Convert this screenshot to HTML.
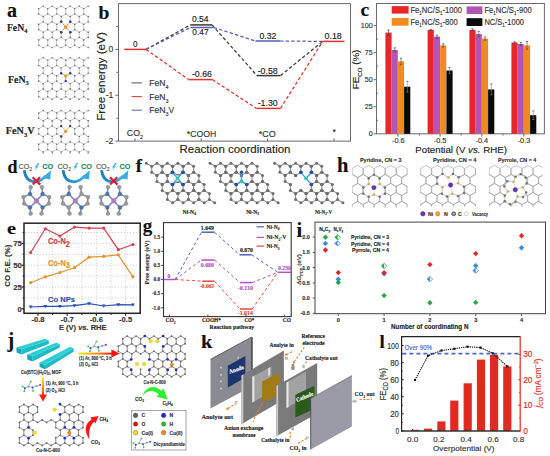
<!DOCTYPE html>
<html><head><meta charset="utf-8"><title>figure</title><style>
html,body{margin:0;padding:0;background:#fff;width:550px;height:456px;overflow:hidden;}
svg{display:block;}
text{stroke-width:0.15px;}
</style></head><body>
<svg width="550" height="456" viewBox="0 0 550 456">
<rect width="550" height="456" fill="#fff"/>
<text x="7.0" y="16.8" font-size="20" text-anchor="start" font-weight="bold" fill="#111" stroke="#111" font-family='"Liberation Serif",serif' >a</text><text x="6.9" y="31.0" font-size="9.5" text-anchor="start" font-weight="bold" fill="#222" stroke="#222" font-family='"Liberation Serif",serif'  textLength="20.4" lengthAdjust="spacingAndGlyphs"><tspan>FeN</tspan><tspan dy="2.38" font-size="6.17">4</tspan></text><text x="8.0" y="83.0" font-size="9.5" text-anchor="start" font-weight="bold" fill="#222" stroke="#222" font-family='"Liberation Serif",serif'  textLength="20.8" lengthAdjust="spacingAndGlyphs"><tspan>FeN</tspan><tspan dy="2.38" font-size="6.17">3</tspan></text><text x="5.8" y="134.2" font-size="9.5" text-anchor="start" font-weight="bold" fill="#222" stroke="#222" font-family='"Liberation Serif",serif'  textLength="28.8" lengthAdjust="spacingAndGlyphs"><tspan>FeN</tspan><tspan dy="2.38" font-size="6.17">3</tspan><tspan dy="-2.38">V</tspan></text><defs><clipPath id="ca1"><rect x="37.5" y="5" width="52" height="43.5"/></clipPath><clipPath id="ca2"><rect x="37.5" y="56.5" width="52" height="43.5"/></clipPath><clipPath id="ca3"><rect x="37.5" y="108.5" width="52" height="46"/></clipPath></defs><g clip-path="url(#ca1)"><path d="M43.2 37.4L47.7 40.0M38.7 40.0L43.2 37.4M83.7 40.0L88.2 37.4M74.7 14.0L79.2 16.6M74.7 40.0L74.7 45.2M65.7 8.8L70.2 6.2M92.7 8.8L97.2 6.2M74.7 29.6L79.2 32.2M70.2 47.8L74.7 45.2M70.2 16.6L74.7 14.0M88.2 32.2L88.2 37.4M70.2 16.6L70.2 21.8M88.2 16.6L88.2 21.8M56.7 45.2L61.2 47.8M47.7 40.0L52.2 37.4M83.7 14.0L88.2 16.6M34.2 32.2L38.7 29.6M97.2 6.2L101.7 8.8M74.7 24.4L79.2 21.8M79.2 21.8L83.7 24.4M65.7 40.0L65.7 45.2M52.2 21.8L56.7 24.4M88.2 37.4L92.7 40.0M70.2 6.2L74.7 8.8M38.7 8.8L43.2 6.2M34.2 16.6L38.7 14.0M88.2 6.2L92.7 8.8M97.2 16.6L101.7 14.0M92.7 24.4L92.7 29.6M97.2 32.2L101.7 29.6M43.2 6.2L47.7 8.8M43.2 21.8L47.7 24.4M83.7 40.0L83.7 45.2M56.7 14.0L61.2 16.6M61.2 32.2L65.7 29.6M92.7 45.2L97.2 47.8M47.7 45.2L52.2 47.8M47.7 8.8L47.7 14.0M47.7 24.4L47.7 29.6M83.7 24.4L88.2 21.8M88.2 21.8L92.7 24.4M70.2 32.2L74.7 29.6M83.7 8.8L88.2 6.2M74.7 45.2L79.2 47.8M97.2 47.8L101.7 45.2M79.2 6.2L83.7 8.8M65.7 24.4L65.7 29.6M47.7 14.0L52.2 16.6M74.7 8.8L74.7 14.0M56.7 29.6L61.2 32.2M56.7 40.0L61.2 37.4M56.7 24.4L61.2 21.8M83.7 29.6L88.2 32.2M34.2 16.6L34.2 21.8M52.2 32.2L56.7 29.6M97.2 16.6L97.2 21.8M56.7 8.8L61.2 6.2M79.2 32.2L83.7 29.6M65.7 45.2L70.2 47.8M61.2 47.8L65.7 45.2M79.2 47.8L83.7 45.2M79.2 16.6L83.7 14.0M61.2 32.2L61.2 37.4M38.7 24.4L38.7 29.6M52.2 16.6L56.7 14.0M56.7 24.4L56.7 29.6M61.2 16.6L65.7 14.0M74.7 40.0L79.2 37.4M92.7 8.8L92.7 14.0M79.2 37.4L83.7 40.0M52.2 37.4L56.7 40.0M43.2 47.8L47.7 45.2M52.2 6.2L56.7 8.8M47.7 8.8L52.2 6.2M56.7 8.8L56.7 14.0M101.7 24.4L101.7 29.6M56.7 40.0L56.7 45.2M97.2 32.2L97.2 37.4M61.2 6.2L65.7 8.8M34.2 37.4L38.7 40.0M92.7 24.4L97.2 21.8M97.2 21.8L101.7 24.4M92.7 14.0L97.2 16.6M92.7 40.0L97.2 37.4M52.2 32.2L52.2 37.4M47.7 24.4L52.2 21.8M83.7 45.2L88.2 47.8M38.7 8.8L38.7 14.0M52.2 47.8L56.7 45.2M79.2 32.2L79.2 37.4M43.2 32.2L47.7 29.6M38.7 14.0L43.2 16.6M83.7 8.8L83.7 14.0M74.7 24.4L74.7 29.6M47.7 29.6L52.2 32.2M52.2 16.6L52.2 21.8M70.2 21.8L74.7 24.4M92.7 40.0L92.7 45.2M61.2 16.6L61.2 21.8M101.7 8.8L101.7 14.0M65.7 24.4L70.2 21.8M65.7 14.0L70.2 16.6M92.7 29.6L97.2 32.2M43.2 16.6L43.2 21.8M38.7 40.0L38.7 45.2M88.2 32.2L92.7 29.6M34.2 32.2L34.2 37.4M61.2 37.4L65.7 40.0M88.2 47.8L92.7 45.2M70.2 32.2L70.2 37.4M38.7 29.6L43.2 32.2M88.2 16.6L92.7 14.0M83.7 24.4L83.7 29.6M38.7 45.2L43.2 47.8M101.7 40.0L101.7 45.2M34.2 21.8L38.7 24.4M65.7 29.6L70.2 32.2M47.7 40.0L47.7 45.2M38.7 24.4L43.2 21.8M97.2 37.4L101.7 40.0M65.7 40.0L70.2 37.4M61.2 21.8L65.7 24.4M70.2 37.4L74.7 40.0M65.7 8.8L65.7 14.0M43.2 32.2L43.2 37.4M74.7 8.8L79.2 6.2M79.2 16.6L79.2 21.8M43.2 16.6L47.7 14.0" stroke="#adadad" stroke-width="0.65" fill="none"/><circle cx="61.2" cy="32.2" r="0.8" fill="#6e6e6e"/><circle cx="97.2" cy="16.6" r="0.8" fill="#6e6e6e"/><circle cx="56.7" cy="8.8" r="0.8" fill="#6e6e6e"/><circle cx="47.7" cy="29.6" r="0.8" fill="#6e6e6e"/><circle cx="79.2" cy="6.2" r="0.8" fill="#6e6e6e"/><circle cx="52.2" cy="32.2" r="0.8" fill="#6e6e6e"/><circle cx="70.2" cy="16.6" r="0.8" fill="#6e6e6e"/><circle cx="88.2" cy="37.4" r="0.8" fill="#6e6e6e"/><circle cx="97.2" cy="21.8" r="0.8" fill="#6e6e6e"/><circle cx="101.7" cy="24.4" r="0.8" fill="#6e6e6e"/><circle cx="83.7" cy="45.2" r="0.8" fill="#6e6e6e"/><circle cx="61.2" cy="37.4" r="0.8" fill="#6e6e6e"/><circle cx="43.2" cy="6.2" r="0.8" fill="#6e6e6e"/><circle cx="101.7" cy="8.8" r="0.8" fill="#6e6e6e"/><circle cx="70.2" cy="21.8" r="0.8" fill="#6e6e6e"/><circle cx="47.7" cy="40.0" r="0.8" fill="#6e6e6e"/><circle cx="74.7" cy="8.8" r="0.8" fill="#6e6e6e"/><circle cx="83.7" cy="14.0" r="0.8" fill="#6e6e6e"/><circle cx="92.7" cy="29.6" r="0.8" fill="#6e6e6e"/><circle cx="97.2" cy="32.2" r="0.8" fill="#6e6e6e"/><circle cx="52.2" cy="37.4" r="0.8" fill="#6e6e6e"/><circle cx="56.7" cy="24.4" r="0.8" fill="#6e6e6e"/><circle cx="65.7" cy="29.6" r="0.8" fill="#6e6e6e"/><circle cx="70.2" cy="32.2" r="0.8" fill="#6e6e6e"/><circle cx="79.2" cy="47.8" r="0.8" fill="#6e6e6e"/><circle cx="56.7" cy="29.6" r="0.8" fill="#6e6e6e"/><circle cx="88.2" cy="6.2" r="0.8" fill="#6e6e6e"/><circle cx="92.7" cy="40.0" r="0.8" fill="#6e6e6e"/><circle cx="38.7" cy="14.0" r="0.8" fill="#6e6e6e"/><circle cx="97.2" cy="37.4" r="0.8" fill="#6e6e6e"/><circle cx="61.2" cy="6.2" r="0.8" fill="#6e6e6e"/><circle cx="92.7" cy="45.2" r="0.8" fill="#6e6e6e"/><circle cx="65.7" cy="40.0" r="0.8" fill="#6e6e6e"/><circle cx="70.2" cy="37.4" r="0.8" fill="#6e6e6e"/><circle cx="74.7" cy="24.4" r="0.8" fill="#6e6e6e"/><circle cx="43.2" cy="47.8" r="0.8" fill="#6e6e6e"/><circle cx="52.2" cy="6.2" r="0.8" fill="#6e6e6e"/><circle cx="34.2" cy="16.6" r="0.8" fill="#6e6e6e"/><circle cx="56.7" cy="40.0" r="0.8" fill="#6e6e6e"/><circle cx="83.7" cy="8.8" r="0.8" fill="#6e6e6e"/><circle cx="65.7" cy="45.2" r="0.8" fill="#6e6e6e"/><circle cx="101.7" cy="29.6" r="0.8" fill="#6e6e6e"/><circle cx="47.7" cy="45.2" r="0.8" fill="#6e6e6e"/><circle cx="34.2" cy="21.8" r="0.8" fill="#6e6e6e"/><circle cx="88.2" cy="47.8" r="0.8" fill="#6e6e6e"/><circle cx="97.2" cy="6.2" r="0.8" fill="#6e6e6e"/><circle cx="79.2" cy="16.6" r="0.8" fill="#6e6e6e"/><circle cx="101.7" cy="40.0" r="0.8" fill="#6e6e6e"/><circle cx="38.7" cy="8.8" r="0.8" fill="#6e6e6e"/><circle cx="47.7" cy="14.0" r="0.8" fill="#6e6e6e"/><circle cx="74.7" cy="40.0" r="0.8" fill="#6e6e6e"/><circle cx="34.2" cy="32.2" r="0.8" fill="#6e6e6e"/><circle cx="61.2" cy="47.8" r="0.8" fill="#6e6e6e"/><circle cx="70.2" cy="6.2" r="0.8" fill="#6e6e6e"/><circle cx="101.7" cy="45.2" r="0.8" fill="#6e6e6e"/><circle cx="79.2" cy="21.8" r="0.8" fill="#6e6e6e"/><circle cx="83.7" cy="24.4" r="0.8" fill="#6e6e6e"/><circle cx="52.2" cy="47.8" r="0.8" fill="#6e6e6e"/><circle cx="43.2" cy="16.6" r="0.8" fill="#6e6e6e"/><circle cx="92.7" cy="14.0" r="0.8" fill="#6e6e6e"/><circle cx="74.7" cy="29.6" r="0.8" fill="#6e6e6e"/><circle cx="79.2" cy="32.2" r="0.8" fill="#6e6e6e"/><circle cx="34.2" cy="37.4" r="0.8" fill="#6e6e6e"/><circle cx="56.7" cy="45.2" r="0.8" fill="#6e6e6e"/><circle cx="43.2" cy="21.8" r="0.8" fill="#6e6e6e"/><circle cx="65.7" cy="14.0" r="0.8" fill="#6e6e6e"/><circle cx="38.7" cy="24.4" r="0.8" fill="#6e6e6e"/><circle cx="97.2" cy="47.8" r="0.8" fill="#6e6e6e"/><circle cx="88.2" cy="16.6" r="0.8" fill="#6e6e6e"/><circle cx="47.7" cy="8.8" r="0.8" fill="#6e6e6e"/><circle cx="56.7" cy="14.0" r="0.8" fill="#6e6e6e"/><circle cx="83.7" cy="40.0" r="0.8" fill="#6e6e6e"/><circle cx="38.7" cy="29.6" r="0.8" fill="#6e6e6e"/><circle cx="43.2" cy="32.2" r="0.8" fill="#6e6e6e"/><circle cx="70.2" cy="47.8" r="0.8" fill="#6e6e6e"/><circle cx="61.2" cy="16.6" r="0.8" fill="#6e6e6e"/><circle cx="79.2" cy="37.4" r="0.8" fill="#6e6e6e"/><circle cx="88.2" cy="21.8" r="0.8" fill="#6e6e6e"/><circle cx="92.7" cy="24.4" r="0.8" fill="#6e6e6e"/><circle cx="74.7" cy="45.2" r="0.8" fill="#6e6e6e"/><circle cx="52.2" cy="16.6" r="0.8" fill="#6e6e6e"/><circle cx="92.7" cy="8.8" r="0.8" fill="#6e6e6e"/><circle cx="101.7" cy="14.0" r="0.8" fill="#6e6e6e"/><circle cx="61.2" cy="21.8" r="0.8" fill="#6e6e6e"/><circle cx="65.7" cy="24.4" r="0.8" fill="#6e6e6e"/><circle cx="38.7" cy="40.0" r="0.8" fill="#6e6e6e"/><circle cx="74.7" cy="14.0" r="0.8" fill="#6e6e6e"/><circle cx="83.7" cy="29.6" r="0.8" fill="#6e6e6e"/><circle cx="88.2" cy="32.2" r="0.8" fill="#6e6e6e"/><circle cx="43.2" cy="37.4" r="0.8" fill="#6e6e6e"/><circle cx="52.2" cy="21.8" r="0.8" fill="#6e6e6e"/><circle cx="65.7" cy="8.8" r="0.8" fill="#6e6e6e"/><circle cx="38.7" cy="45.2" r="0.8" fill="#6e6e6e"/><circle cx="47.7" cy="24.4" r="0.8" fill="#6e6e6e"/></g><g clip-path="url(#ca2)"><path d="M56.7 91.5L61.2 88.9M79.2 57.7L83.7 60.3M92.7 60.3L97.2 57.7M43.2 68.1L43.2 73.3M47.7 91.5L47.7 96.7M83.7 91.5L88.2 88.9M88.2 88.9L92.7 91.5M79.2 68.1L79.2 73.3M79.2 99.3L83.7 96.7M47.7 65.5L52.2 68.1M83.7 60.3L83.7 65.5M34.2 88.9L38.7 91.5M83.7 96.7L88.2 99.3M74.7 75.9L79.2 73.3M43.2 73.3L47.7 75.9M52.2 88.9L56.7 91.5M88.2 83.7L92.7 81.1M92.7 75.9L92.7 81.1M70.2 68.1L70.2 73.3M97.2 88.9L101.7 91.5M88.2 68.1L88.2 73.3M92.7 65.5L97.2 68.1M61.2 83.7L65.7 81.1M43.2 83.7L47.7 81.1M34.2 68.1L38.7 65.5M43.2 57.7L47.7 60.3M47.7 75.9L52.2 73.3M79.2 73.3L83.7 75.9M79.2 88.9L83.7 91.5M61.2 73.3L65.7 75.9M97.2 68.1L101.7 65.5M97.2 83.7L101.7 81.1M88.2 83.7L88.2 88.9M61.2 99.3L65.7 96.7M83.7 75.9L83.7 81.1M47.7 96.7L52.2 99.3M38.7 60.3L43.2 57.7M74.7 60.3L74.7 65.5M56.7 65.5L61.2 68.1M92.7 60.3L92.7 65.5M38.7 81.1L43.2 83.7M47.7 75.9L47.7 81.1M52.2 83.7L56.7 81.1M61.2 83.7L61.2 88.9M47.7 60.3L52.2 57.7M34.2 73.3L38.7 75.9M43.2 68.1L47.7 65.5M47.7 91.5L52.2 88.9M83.7 91.5L83.7 96.7M38.7 60.3L38.7 65.5M65.7 75.9L70.2 73.3M74.7 60.3L79.2 57.7M97.2 73.3L101.7 75.9M97.2 83.7L97.2 88.9M88.2 99.3L92.7 96.7M83.7 81.1L88.2 83.7M92.7 81.1L97.2 83.7M56.7 60.3L56.7 65.5M34.2 68.1L34.2 73.3M92.7 96.7L97.2 99.3M83.7 75.9L88.2 73.3M52.2 83.7L52.2 88.9M92.7 91.5L97.2 88.9M52.2 73.3L56.7 75.9M34.2 83.7L38.7 81.1M43.2 88.9L47.7 91.5M52.2 99.3L56.7 96.7M52.2 68.1L56.7 65.5M65.7 91.5L70.2 88.9M38.7 65.5L43.2 68.1M65.7 60.3L70.2 57.7M97.2 68.1L97.2 73.3M88.2 57.7L92.7 60.3M70.2 88.9L74.7 91.5M47.7 81.1L52.2 83.7M79.2 83.7L79.2 88.9M97.2 99.3L101.7 96.7M61.2 68.1L65.7 65.5M74.7 96.7L79.2 99.3M65.7 91.5L65.7 96.7M88.2 73.3L92.7 75.9M74.7 65.5L79.2 68.1M56.7 96.7L61.2 99.3M65.7 60.3L65.7 65.5M65.7 65.5L70.2 68.1M101.7 75.9L101.7 81.1M34.2 83.7L34.2 88.9M43.2 99.3L47.7 96.7M101.7 60.3L101.7 65.5M74.7 81.1L79.2 83.7M56.7 75.9L56.7 81.1M65.7 75.9L65.7 81.1M61.2 88.9L65.7 91.5M47.7 60.3L47.7 65.5M83.7 60.3L88.2 57.7M61.2 57.7L65.7 60.3M52.2 68.1L52.2 73.3M70.2 83.7L70.2 88.9M38.7 96.7L43.2 99.3M79.2 68.1L83.7 65.5M56.7 91.5L56.7 96.7M38.7 91.5L43.2 88.9M74.7 91.5L74.7 96.7M61.2 68.1L61.2 73.3M70.2 57.7L74.7 60.3M38.7 75.9L38.7 81.1M92.7 75.9L97.2 73.3M92.7 91.5L92.7 96.7M70.2 73.3L74.7 75.9M83.7 65.5L88.2 68.1M70.2 83.7L74.7 81.1M52.2 57.7L56.7 60.3M65.7 81.1L70.2 83.7M65.7 96.7L70.2 99.3M38.7 91.5L38.7 96.7M97.2 57.7L101.7 60.3M74.7 91.5L79.2 88.9M56.7 60.3L61.2 57.7M38.7 75.9L43.2 73.3M56.7 75.9L61.2 73.3M79.2 83.7L83.7 81.1M56.7 81.1L61.2 83.7M43.2 83.7L43.2 88.9M88.2 68.1L92.7 65.5M70.2 99.3L74.7 96.7M70.2 68.1L74.7 65.5M74.7 75.9L74.7 81.1M101.7 91.5L101.7 96.7" stroke="#adadad" stroke-width="0.65" fill="none"/><circle cx="83.7" cy="65.5" r="0.8" fill="#6e6e6e"/><circle cx="43.2" cy="73.3" r="0.8" fill="#6e6e6e"/><circle cx="47.7" cy="96.7" r="0.8" fill="#6e6e6e"/><circle cx="97.2" cy="88.9" r="0.8" fill="#6e6e6e"/><circle cx="70.2" cy="99.3" r="0.8" fill="#6e6e6e"/><circle cx="97.2" cy="68.1" r="0.8" fill="#6e6e6e"/><circle cx="101.7" cy="91.5" r="0.8" fill="#6e6e6e"/><circle cx="47.7" cy="65.5" r="0.8" fill="#6e6e6e"/><circle cx="101.7" cy="75.9" r="0.8" fill="#6e6e6e"/><circle cx="70.2" cy="88.9" r="0.8" fill="#6e6e6e"/><circle cx="38.7" cy="81.1" r="0.8" fill="#6e6e6e"/><circle cx="97.2" cy="57.7" r="0.8" fill="#6e6e6e"/><circle cx="70.2" cy="68.1" r="0.8" fill="#6e6e6e"/><circle cx="74.7" cy="75.9" r="0.8" fill="#6e6e6e"/><circle cx="34.2" cy="83.7" r="0.8" fill="#6e6e6e"/><circle cx="88.2" cy="73.3" r="0.8" fill="#6e6e6e"/><circle cx="101.7" cy="60.3" r="0.8" fill="#6e6e6e"/><circle cx="92.7" cy="96.7" r="0.8" fill="#6e6e6e"/><circle cx="70.2" cy="57.7" r="0.8" fill="#6e6e6e"/><circle cx="61.2" cy="73.3" r="0.8" fill="#6e6e6e"/><circle cx="65.7" cy="96.7" r="0.8" fill="#6e6e6e"/><circle cx="92.7" cy="65.5" r="0.8" fill="#6e6e6e"/><circle cx="52.2" cy="73.3" r="0.8" fill="#6e6e6e"/><circle cx="52.2" cy="57.7" r="0.8" fill="#6e6e6e"/><circle cx="79.2" cy="83.7" r="0.8" fill="#6e6e6e"/><circle cx="56.7" cy="96.7" r="0.8" fill="#6e6e6e"/><circle cx="56.7" cy="60.3" r="0.8" fill="#6e6e6e"/><circle cx="65.7" cy="65.5" r="0.8" fill="#6e6e6e"/><circle cx="56.7" cy="65.5" r="0.8" fill="#6e6e6e"/><circle cx="47.7" cy="81.1" r="0.8" fill="#6e6e6e"/><circle cx="83.7" cy="75.9" r="0.8" fill="#6e6e6e"/><circle cx="97.2" cy="73.3" r="0.8" fill="#6e6e6e"/><circle cx="74.7" cy="91.5" r="0.8" fill="#6e6e6e"/><circle cx="101.7" cy="96.7" r="0.8" fill="#6e6e6e"/><circle cx="70.2" cy="73.3" r="0.8" fill="#6e6e6e"/><circle cx="34.2" cy="88.9" r="0.8" fill="#6e6e6e"/><circle cx="74.7" cy="60.3" r="0.8" fill="#6e6e6e"/><circle cx="34.2" cy="68.1" r="0.8" fill="#6e6e6e"/><circle cx="101.7" cy="65.5" r="0.8" fill="#6e6e6e"/><circle cx="38.7" cy="91.5" r="0.8" fill="#6e6e6e"/><circle cx="92.7" cy="81.1" r="0.8" fill="#6e6e6e"/><circle cx="38.7" cy="75.9" r="0.8" fill="#6e6e6e"/><circle cx="88.2" cy="83.7" r="0.8" fill="#6e6e6e"/><circle cx="79.2" cy="99.3" r="0.8" fill="#6e6e6e"/><circle cx="38.7" cy="60.3" r="0.8" fill="#6e6e6e"/><circle cx="65.7" cy="81.1" r="0.8" fill="#6e6e6e"/><circle cx="61.2" cy="83.7" r="0.8" fill="#6e6e6e"/><circle cx="79.2" cy="88.9" r="0.8" fill="#6e6e6e"/><circle cx="79.2" cy="68.1" r="0.8" fill="#6e6e6e"/><circle cx="56.7" cy="81.1" r="0.8" fill="#6e6e6e"/><circle cx="92.7" cy="75.9" r="0.8" fill="#6e6e6e"/><circle cx="83.7" cy="91.5" r="0.8" fill="#6e6e6e"/><circle cx="43.2" cy="99.3" r="0.8" fill="#6e6e6e"/><circle cx="43.2" cy="83.7" r="0.8" fill="#6e6e6e"/><circle cx="79.2" cy="57.7" r="0.8" fill="#6e6e6e"/><circle cx="43.2" cy="88.9" r="0.8" fill="#6e6e6e"/><circle cx="83.7" cy="60.3" r="0.8" fill="#6e6e6e"/><circle cx="43.2" cy="68.1" r="0.8" fill="#6e6e6e"/><circle cx="74.7" cy="96.7" r="0.8" fill="#6e6e6e"/><circle cx="47.7" cy="91.5" r="0.8" fill="#6e6e6e"/><circle cx="101.7" cy="81.1" r="0.8" fill="#6e6e6e"/><circle cx="47.7" cy="75.9" r="0.8" fill="#6e6e6e"/><circle cx="97.2" cy="83.7" r="0.8" fill="#6e6e6e"/><circle cx="43.2" cy="57.7" r="0.8" fill="#6e6e6e"/><circle cx="74.7" cy="81.1" r="0.8" fill="#6e6e6e"/><circle cx="88.2" cy="99.3" r="0.8" fill="#6e6e6e"/><circle cx="74.7" cy="65.5" r="0.8" fill="#6e6e6e"/><circle cx="34.2" cy="73.3" r="0.8" fill="#6e6e6e"/><circle cx="47.7" cy="60.3" r="0.8" fill="#6e6e6e"/><circle cx="38.7" cy="96.7" r="0.8" fill="#6e6e6e"/><circle cx="70.2" cy="83.7" r="0.8" fill="#6e6e6e"/><circle cx="88.2" cy="88.9" r="0.8" fill="#6e6e6e"/><circle cx="61.2" cy="99.3" r="0.8" fill="#6e6e6e"/><circle cx="88.2" cy="68.1" r="0.8" fill="#6e6e6e"/><circle cx="92.7" cy="91.5" r="0.8" fill="#6e6e6e"/><circle cx="52.2" cy="99.3" r="0.8" fill="#6e6e6e"/><circle cx="38.7" cy="65.5" r="0.8" fill="#6e6e6e"/><circle cx="52.2" cy="83.7" r="0.8" fill="#6e6e6e"/><circle cx="61.2" cy="88.9" r="0.8" fill="#6e6e6e"/><circle cx="88.2" cy="57.7" r="0.8" fill="#6e6e6e"/><circle cx="61.2" cy="68.1" r="0.8" fill="#6e6e6e"/><circle cx="79.2" cy="73.3" r="0.8" fill="#6e6e6e"/><circle cx="65.7" cy="91.5" r="0.8" fill="#6e6e6e"/><circle cx="52.2" cy="88.9" r="0.8" fill="#6e6e6e"/><circle cx="92.7" cy="60.3" r="0.8" fill="#6e6e6e"/><circle cx="52.2" cy="68.1" r="0.8" fill="#6e6e6e"/><circle cx="65.7" cy="75.9" r="0.8" fill="#6e6e6e"/><circle cx="83.7" cy="96.7" r="0.8" fill="#6e6e6e"/><circle cx="61.2" cy="57.7" r="0.8" fill="#6e6e6e"/><circle cx="56.7" cy="91.5" r="0.8" fill="#6e6e6e"/><circle cx="56.7" cy="75.9" r="0.8" fill="#6e6e6e"/><circle cx="65.7" cy="60.3" r="0.8" fill="#6e6e6e"/><circle cx="83.7" cy="81.1" r="0.8" fill="#6e6e6e"/><circle cx="97.2" cy="99.3" r="0.8" fill="#6e6e6e"/></g><g clip-path="url(#ca3)"><path d="M47.7 159.9L52.2 157.3M34.2 152.1L38.7 149.5M34.2 157.3L38.7 159.9M43.2 136.5L47.7 133.9M61.2 136.5L61.2 141.7M56.7 113.1L61.2 110.5M83.7 128.7L83.7 133.9M47.7 133.9L52.2 136.5M34.2 152.1L34.2 157.3M79.2 152.1L83.7 149.5M97.2 152.1L101.7 149.5M52.2 110.5L56.7 113.1M52.2 126.1L56.7 128.7M47.7 144.3L52.2 141.7M79.2 110.5L83.7 113.1M74.7 144.3L79.2 141.7M97.2 152.1L97.2 157.3M92.7 144.3L92.7 149.5M43.2 157.3L47.7 159.9M43.2 126.1L47.7 128.7M61.2 126.1L65.7 128.7M61.2 141.7L65.7 144.3M61.2 136.5L65.7 133.9M38.7 118.3L43.2 120.9M56.7 118.3L61.2 120.9M47.7 113.1L52.2 110.5M34.2 120.9L38.7 118.3M101.7 128.7L101.7 133.9M101.7 113.1L101.7 118.3M97.2 120.9L101.7 118.3M70.2 152.1L74.7 149.5M38.7 144.3L38.7 149.5M92.7 133.9L97.2 136.5M79.2 152.1L79.2 157.3M52.2 136.5L52.2 141.7M65.7 149.5L70.2 152.1M47.7 128.7L47.7 133.9M79.2 136.5L79.2 141.7M97.2 141.7L101.7 144.3M47.7 113.1L47.7 118.3M83.7 113.1L88.2 110.5M88.2 110.5L92.7 113.1M74.7 133.9L79.2 136.5M38.7 149.5L43.2 152.1M47.7 118.3L52.2 120.9M56.7 149.5L61.2 152.1M83.7 118.3L88.2 120.9M43.2 141.7L47.7 144.3M70.2 110.5L74.7 113.1M74.7 144.3L74.7 149.5M65.7 144.3L70.2 141.7M88.2 120.9L88.2 126.1M70.2 157.3L74.7 159.9M43.2 152.1L47.7 149.5M79.2 126.1L83.7 128.7M52.2 136.5L56.7 133.9M70.2 136.5L70.2 141.7M79.2 141.7L83.7 144.3M79.2 136.5L83.7 133.9M97.2 110.5L101.7 113.1M92.7 128.7L92.7 133.9M92.7 144.3L97.2 141.7M65.7 113.1L65.7 118.3M43.2 152.1L43.2 157.3M34.2 120.9L34.2 126.1M92.7 159.9L97.2 157.3M52.2 120.9L52.2 126.1M65.7 133.9L70.2 136.5M61.2 120.9L61.2 126.1M56.7 128.7L61.2 126.1M74.7 113.1L79.2 110.5M83.7 144.3L83.7 149.5M52.2 152.1L56.7 149.5M92.7 113.1L97.2 110.5M101.7 144.3L101.7 149.5M52.2 157.3L56.7 159.9M83.7 128.7L88.2 126.1M61.2 157.3L65.7 159.9M74.7 159.9L79.2 157.3M79.2 157.3L83.7 159.9M88.2 141.7L92.7 144.3M74.7 128.7L74.7 133.9M70.2 141.7L74.7 144.3M52.2 152.1L52.2 157.3M79.2 120.9L83.7 118.3M47.7 144.3L47.7 149.5M61.2 152.1L61.2 157.3M88.2 152.1L88.2 157.3M70.2 120.9L70.2 126.1M74.7 118.3L79.2 120.9M38.7 159.9L43.2 157.3M88.2 136.5L88.2 141.7M83.7 113.1L83.7 118.3M56.7 113.1L56.7 118.3M70.2 120.9L74.7 118.3M43.2 120.9L47.7 118.3M34.2 136.5L38.7 133.9M65.7 159.9L70.2 157.3M83.7 159.9L88.2 157.3M47.7 149.5L52.2 152.1M65.7 118.3L70.2 120.9M92.7 118.3L97.2 120.9M83.7 149.5L88.2 152.1M97.2 136.5L101.7 133.9M97.2 120.9L97.2 126.1M83.7 133.9L88.2 136.5M47.7 128.7L52.2 126.1M88.2 126.1L92.7 128.7M74.7 128.7L79.2 126.1M43.2 110.5L47.7 113.1M38.7 144.3L43.2 141.7M56.7 128.7L56.7 133.9M34.2 136.5L34.2 141.7M88.2 136.5L92.7 133.9M65.7 113.1L70.2 110.5M52.2 120.9L56.7 118.3M65.7 128.7L65.7 133.9M61.2 120.9L65.7 118.3M61.2 152.1L65.7 149.5M70.2 126.1L74.7 128.7M56.7 144.3L56.7 149.5M34.2 126.1L38.7 128.7M79.2 120.9L79.2 126.1M70.2 152.1L70.2 157.3M65.7 144.3L65.7 149.5M97.2 136.5L97.2 141.7M38.7 113.1L43.2 110.5M74.7 113.1L74.7 118.3M56.7 144.3L61.2 141.7M92.7 113.1L92.7 118.3M88.2 120.9L92.7 118.3M83.7 144.3L88.2 141.7M56.7 159.9L61.2 157.3M92.7 128.7L97.2 126.1M97.2 126.1L101.7 128.7M43.2 120.9L43.2 126.1M88.2 157.3L92.7 159.9M43.2 136.5L43.2 141.7M61.2 110.5L65.7 113.1M52.2 141.7L56.7 144.3M38.7 128.7L38.7 133.9M38.7 113.1L38.7 118.3M38.7 128.7L43.2 126.1M38.7 133.9L43.2 136.5M56.7 133.9L61.2 136.5M88.2 152.1L92.7 149.5M65.7 128.7L70.2 126.1M74.7 149.5L79.2 152.1M92.7 149.5L97.2 152.1M70.2 136.5L74.7 133.9M34.2 141.7L38.7 144.3" stroke="#adadad" stroke-width="0.65" fill="none"/><circle cx="61.2" cy="136.5" r="0.8" fill="#6e6e6e"/><circle cx="65.7" cy="128.7" r="0.8" fill="#6e6e6e"/><circle cx="61.2" cy="120.9" r="0.8" fill="#6e6e6e"/><circle cx="43.2" cy="141.7" r="0.8" fill="#6e6e6e"/><circle cx="38.7" cy="144.3" r="0.8" fill="#6e6e6e"/><circle cx="65.7" cy="159.9" r="0.8" fill="#6e6e6e"/><circle cx="52.2" cy="136.5" r="0.8" fill="#6e6e6e"/><circle cx="56.7" cy="128.7" r="0.8" fill="#6e6e6e"/><circle cx="52.2" cy="120.9" r="0.8" fill="#6e6e6e"/><circle cx="43.2" cy="152.1" r="0.8" fill="#6e6e6e"/><circle cx="79.2" cy="110.5" r="0.8" fill="#6e6e6e"/><circle cx="56.7" cy="159.9" r="0.8" fill="#6e6e6e"/><circle cx="83.7" cy="149.5" r="0.8" fill="#6e6e6e"/><circle cx="83.7" cy="133.9" r="0.8" fill="#6e6e6e"/><circle cx="83.7" cy="113.1" r="0.8" fill="#6e6e6e"/><circle cx="88.2" cy="141.7" r="0.8" fill="#6e6e6e"/><circle cx="83.7" cy="144.3" r="0.8" fill="#6e6e6e"/><circle cx="97.2" cy="136.5" r="0.8" fill="#6e6e6e"/><circle cx="101.7" cy="128.7" r="0.8" fill="#6e6e6e"/><circle cx="43.2" cy="110.5" r="0.8" fill="#6e6e6e"/><circle cx="97.2" cy="120.9" r="0.8" fill="#6e6e6e"/><circle cx="88.2" cy="152.1" r="0.8" fill="#6e6e6e"/><circle cx="74.7" cy="118.3" r="0.8" fill="#6e6e6e"/><circle cx="34.2" cy="126.1" r="0.8" fill="#6e6e6e"/><circle cx="61.2" cy="141.7" r="0.8" fill="#6e6e6e"/><circle cx="47.7" cy="133.9" r="0.8" fill="#6e6e6e"/><circle cx="47.7" cy="113.1" r="0.8" fill="#6e6e6e"/><circle cx="34.2" cy="157.3" r="0.8" fill="#6e6e6e"/><circle cx="38.7" cy="149.5" r="0.8" fill="#6e6e6e"/><circle cx="70.2" cy="136.5" r="0.8" fill="#6e6e6e"/><circle cx="70.2" cy="120.9" r="0.8" fill="#6e6e6e"/><circle cx="61.2" cy="152.1" r="0.8" fill="#6e6e6e"/><circle cx="52.2" cy="141.7" r="0.8" fill="#6e6e6e"/><circle cx="47.7" cy="144.3" r="0.8" fill="#6e6e6e"/><circle cx="52.2" cy="152.1" r="0.8" fill="#6e6e6e"/><circle cx="38.7" cy="118.3" r="0.8" fill="#6e6e6e"/><circle cx="88.2" cy="110.5" r="0.8" fill="#6e6e6e"/><circle cx="79.2" cy="126.1" r="0.8" fill="#6e6e6e"/><circle cx="92.7" cy="133.9" r="0.8" fill="#6e6e6e"/><circle cx="92.7" cy="113.1" r="0.8" fill="#6e6e6e"/><circle cx="79.2" cy="157.3" r="0.8" fill="#6e6e6e"/><circle cx="61.2" cy="110.5" r="0.8" fill="#6e6e6e"/><circle cx="97.2" cy="141.7" r="0.8" fill="#6e6e6e"/><circle cx="92.7" cy="144.3" r="0.8" fill="#6e6e6e"/><circle cx="65.7" cy="133.9" r="0.8" fill="#6e6e6e"/><circle cx="65.7" cy="113.1" r="0.8" fill="#6e6e6e"/><circle cx="52.2" cy="110.5" r="0.8" fill="#6e6e6e"/><circle cx="97.2" cy="152.1" r="0.8" fill="#6e6e6e"/><circle cx="83.7" cy="118.3" r="0.8" fill="#6e6e6e"/><circle cx="43.2" cy="126.1" r="0.8" fill="#6e6e6e"/><circle cx="79.2" cy="120.9" r="0.8" fill="#6e6e6e"/><circle cx="70.2" cy="141.7" r="0.8" fill="#6e6e6e"/><circle cx="65.7" cy="144.3" r="0.8" fill="#6e6e6e"/><circle cx="74.7" cy="128.7" r="0.8" fill="#6e6e6e"/><circle cx="56.7" cy="133.9" r="0.8" fill="#6e6e6e"/><circle cx="56.7" cy="113.1" r="0.8" fill="#6e6e6e"/><circle cx="43.2" cy="157.3" r="0.8" fill="#6e6e6e"/><circle cx="47.7" cy="149.5" r="0.8" fill="#6e6e6e"/><circle cx="70.2" cy="152.1" r="0.8" fill="#6e6e6e"/><circle cx="74.7" cy="159.9" r="0.8" fill="#6e6e6e"/><circle cx="56.7" cy="144.3" r="0.8" fill="#6e6e6e"/><circle cx="47.7" cy="118.3" r="0.8" fill="#6e6e6e"/><circle cx="97.2" cy="110.5" r="0.8" fill="#6e6e6e"/><circle cx="34.2" cy="136.5" r="0.8" fill="#6e6e6e"/><circle cx="38.7" cy="128.7" r="0.8" fill="#6e6e6e"/><circle cx="88.2" cy="126.1" r="0.8" fill="#6e6e6e"/><circle cx="34.2" cy="120.9" r="0.8" fill="#6e6e6e"/><circle cx="101.7" cy="133.9" r="0.8" fill="#6e6e6e"/><circle cx="101.7" cy="113.1" r="0.8" fill="#6e6e6e"/><circle cx="38.7" cy="159.9" r="0.8" fill="#6e6e6e"/><circle cx="88.2" cy="157.3" r="0.8" fill="#6e6e6e"/><circle cx="92.7" cy="149.5" r="0.8" fill="#6e6e6e"/><circle cx="70.2" cy="110.5" r="0.8" fill="#6e6e6e"/><circle cx="61.2" cy="126.1" r="0.8" fill="#6e6e6e"/><circle cx="101.7" cy="144.3" r="0.8" fill="#6e6e6e"/><circle cx="61.2" cy="157.3" r="0.8" fill="#6e6e6e"/><circle cx="65.7" cy="149.5" r="0.8" fill="#6e6e6e"/><circle cx="92.7" cy="118.3" r="0.8" fill="#6e6e6e"/><circle cx="52.2" cy="126.1" r="0.8" fill="#6e6e6e"/><circle cx="79.2" cy="136.5" r="0.8" fill="#6e6e6e"/><circle cx="83.7" cy="128.7" r="0.8" fill="#6e6e6e"/><circle cx="52.2" cy="157.3" r="0.8" fill="#6e6e6e"/><circle cx="56.7" cy="149.5" r="0.8" fill="#6e6e6e"/><circle cx="83.7" cy="159.9" r="0.8" fill="#6e6e6e"/><circle cx="65.7" cy="118.3" r="0.8" fill="#6e6e6e"/><circle cx="34.2" cy="141.7" r="0.8" fill="#6e6e6e"/><circle cx="56.7" cy="118.3" r="0.8" fill="#6e6e6e"/><circle cx="43.2" cy="136.5" r="0.8" fill="#6e6e6e"/><circle cx="47.7" cy="128.7" r="0.8" fill="#6e6e6e"/><circle cx="97.2" cy="126.1" r="0.8" fill="#6e6e6e"/><circle cx="43.2" cy="120.9" r="0.8" fill="#6e6e6e"/><circle cx="34.2" cy="152.1" r="0.8" fill="#6e6e6e"/><circle cx="47.7" cy="159.9" r="0.8" fill="#6e6e6e"/><circle cx="97.2" cy="157.3" r="0.8" fill="#6e6e6e"/><circle cx="101.7" cy="149.5" r="0.8" fill="#6e6e6e"/><circle cx="74.7" cy="149.5" r="0.8" fill="#6e6e6e"/><circle cx="70.2" cy="126.1" r="0.8" fill="#6e6e6e"/><circle cx="74.7" cy="133.9" r="0.8" fill="#6e6e6e"/><circle cx="74.7" cy="113.1" r="0.8" fill="#6e6e6e"/><circle cx="70.2" cy="157.3" r="0.8" fill="#6e6e6e"/><circle cx="79.2" cy="141.7" r="0.8" fill="#6e6e6e"/><circle cx="74.7" cy="144.3" r="0.8" fill="#6e6e6e"/><circle cx="101.7" cy="118.3" r="0.8" fill="#6e6e6e"/><circle cx="88.2" cy="136.5" r="0.8" fill="#6e6e6e"/><circle cx="92.7" cy="128.7" r="0.8" fill="#6e6e6e"/><circle cx="88.2" cy="120.9" r="0.8" fill="#6e6e6e"/><circle cx="79.2" cy="152.1" r="0.8" fill="#6e6e6e"/><circle cx="92.7" cy="159.9" r="0.8" fill="#6e6e6e"/><circle cx="38.7" cy="133.9" r="0.8" fill="#6e6e6e"/><circle cx="38.7" cy="113.1" r="0.8" fill="#6e6e6e"/></g><line x1="65.7" y1="24.4" x2="65.7" y2="29.6" stroke="#fff" stroke-width="1.4" /><line x1="65.7" y1="27.0" x2="61.2" y2="21.8" stroke="#c8a060" stroke-width="0.7" /><line x1="65.7" y1="27.0" x2="70.2" y2="21.8" stroke="#c8a060" stroke-width="0.7" /><line x1="65.7" y1="27.0" x2="61.2" y2="32.2" stroke="#c8a060" stroke-width="0.7" /><line x1="65.7" y1="27.0" x2="70.2" y2="32.2" stroke="#c8a060" stroke-width="0.7" /><circle cx="61.2" cy="21.8" r="1.2" fill="#2a3c9a" stroke="none" stroke-width="0.5" /><circle cx="70.2" cy="21.8" r="1.2" fill="#2a3c9a" stroke="none" stroke-width="0.5" /><circle cx="61.2" cy="32.2" r="1.2" fill="#2a3c9a" stroke="none" stroke-width="0.5" /><circle cx="70.2" cy="32.2" r="1.2" fill="#2a3c9a" stroke="none" stroke-width="0.5" /><circle cx="65.7" cy="27.0" r="1.6" fill="#f0961e" stroke="none" stroke-width="0.5" /><line x1="65.7" y1="75.9" x2="61.2" y2="73.3" stroke="#c8a060" stroke-width="0.7" /><circle cx="61.2" cy="73.3" r="1.2" fill="#2a3c9a" stroke="none" stroke-width="0.5" /><line x1="65.7" y1="75.9" x2="70.2" y2="73.3" stroke="#c8a060" stroke-width="0.7" /><circle cx="70.2" cy="73.3" r="1.2" fill="#2a3c9a" stroke="none" stroke-width="0.5" /><line x1="65.7" y1="75.9" x2="65.7" y2="81.1" stroke="#c8a060" stroke-width="0.7" /><circle cx="65.7" cy="81.1" r="1.2" fill="#2a3c9a" stroke="none" stroke-width="0.5" /><circle cx="65.7" cy="75.9" r="1.6" fill="#f0961e" stroke="none" stroke-width="0.5" /><line x1="65.7" y1="128.7" x2="61.2" y2="126.1" stroke="#fff" stroke-width="1.5" /><line x1="65.7" y1="128.7" x2="70.2" y2="126.1" stroke="#fff" stroke-width="1.5" /><line x1="65.7" y1="128.7" x2="65.7" y2="133.9" stroke="#fff" stroke-width="1.5" /><line x1="65.7" y1="133.9" x2="61.2" y2="136.5" stroke="#fff" stroke-width="1.5" /><line x1="65.7" y1="133.9" x2="70.2" y2="136.5" stroke="#fff" stroke-width="1.5" /><line x1="70.2" y1="136.5" x2="74.7" y2="133.9" stroke="#fff" stroke-width="1.5" /><line x1="70.2" y1="136.5" x2="70.2" y2="141.7" stroke="#fff" stroke-width="1.5" /><circle cx="74.7" cy="133.9" r="0.8" fill="#6e6e6e" stroke="none" stroke-width="0.5" /><circle cx="70.2" cy="141.7" r="0.8" fill="#6e6e6e" stroke="none" stroke-width="0.5" /><line x1="65.7" y1="131.3" x2="61.2" y2="126.1" stroke="#c8a060" stroke-width="0.7" /><circle cx="61.2" cy="126.1" r="1.2" fill="#2a3c9a" stroke="none" stroke-width="0.5" /><line x1="65.7" y1="131.3" x2="70.2" y2="126.1" stroke="#c8a060" stroke-width="0.7" /><circle cx="70.2" cy="126.1" r="1.2" fill="#2a3c9a" stroke="none" stroke-width="0.5" /><line x1="65.7" y1="131.3" x2="61.2" y2="136.5" stroke="#c8a060" stroke-width="0.7" /><circle cx="61.2" cy="136.5" r="1.2" fill="#2a3c9a" stroke="none" stroke-width="0.5" /><circle cx="65.7" cy="131.3" r="1.6" fill="#f0961e" stroke="none" stroke-width="0.5" /><line x1="65.7" y1="24.4" x2="61.2" y2="21.8" stroke="#fff" stroke-width="1.5" /><line x1="65.7" y1="24.4" x2="70.2" y2="21.8" stroke="#fff" stroke-width="1.5" /><line x1="65.7" y1="29.6" x2="61.2" y2="32.2" stroke="#fff" stroke-width="1.5" /><line x1="65.7" y1="29.6" x2="70.2" y2="32.2" stroke="#fff" stroke-width="1.5" /><line x1="65.7" y1="27.0" x2="61.2" y2="21.8" stroke="#c8a060" stroke-width="0.7" /><line x1="65.7" y1="27.0" x2="70.2" y2="21.8" stroke="#c8a060" stroke-width="0.7" /><line x1="65.7" y1="27.0" x2="61.2" y2="32.2" stroke="#c8a060" stroke-width="0.7" /><line x1="65.7" y1="27.0" x2="70.2" y2="32.2" stroke="#c8a060" stroke-width="0.7" /><circle cx="61.2" cy="21.8" r="1.2" fill="#2a3c9a" stroke="none" stroke-width="0.5" /><circle cx="70.2" cy="21.8" r="1.2" fill="#2a3c9a" stroke="none" stroke-width="0.5" /><circle cx="61.2" cy="32.2" r="1.2" fill="#2a3c9a" stroke="none" stroke-width="0.5" /><circle cx="70.2" cy="32.2" r="1.2" fill="#2a3c9a" stroke="none" stroke-width="0.5" /><circle cx="65.7" cy="27.0" r="1.6" fill="#f0961e" stroke="none" stroke-width="0.5" /><text x="98.6" y="18.8" font-size="19.5" text-anchor="start" font-weight="bold" fill="#111" stroke="#111" font-family='"Liberation Serif",serif' >b</text><rect x="118.5" y="3.6" width="232.0" height="137.5" fill="none" stroke="#6a6a6a" stroke-width="1" /><line x1="115.3" y1="49.4" x2="118.5" y2="49.4" stroke="#6a6a6a" stroke-width="1" /><text x="113.4" y="52.4" font-size="8.6" text-anchor="end" font-weight="normal" fill="#333" stroke="#333" font-family='"Liberation Sans",sans-serif' >0</text><line x1="115.3" y1="95.2" x2="118.5" y2="95.2" stroke="#6a6a6a" stroke-width="1" /><text x="113.4" y="98.2" font-size="8.6" text-anchor="end" font-weight="normal" fill="#333" stroke="#333" font-family='"Liberation Sans",sans-serif' >-1</text><line x1="115.3" y1="141.1" x2="118.5" y2="141.1" stroke="#6a6a6a" stroke-width="1" /><text x="113.4" y="144.1" font-size="8.6" text-anchor="end" font-weight="normal" fill="#333" stroke="#333" font-family='"Liberation Sans",sans-serif' >-2</text><line x1="116.3" y1="26.5" x2="118.5" y2="26.5" stroke="#6a6a6a" stroke-width="1" /><line x1="116.3" y1="72.3" x2="118.5" y2="72.3" stroke="#6a6a6a" stroke-width="1" /><line x1="116.3" y1="118.2" x2="118.5" y2="118.2" stroke="#6a6a6a" stroke-width="1" /><line x1="135.0" y1="141.1" x2="135.0" y2="138.3" stroke="#6a6a6a" stroke-width="1" /><line x1="201.2" y1="141.1" x2="201.2" y2="138.3" stroke="#6a6a6a" stroke-width="1" /><line x1="267.6" y1="141.1" x2="267.6" y2="138.3" stroke="#6a6a6a" stroke-width="1" /><line x1="334.0" y1="141.1" x2="334.0" y2="138.3" stroke="#6a6a6a" stroke-width="1" /><text x="126.8" y="135.9" font-size="8.8" text-anchor="start" font-weight="normal" fill="#333" stroke="#333" font-family='"Liberation Sans",sans-serif' ><tspan>CO</tspan><tspan dy="3.40" font-size="5.28">2</tspan></text><text x="186.8" y="136.5" font-size="8.7" text-anchor="start" font-weight="normal" fill="#333" stroke="#333" font-family='"Liberation Sans",sans-serif'  textLength="29.4" lengthAdjust="spacingAndGlyphs">*COOH</text><text x="258.8" y="136.5" font-size="8.7" text-anchor="start" font-weight="normal" fill="#333" stroke="#333" font-family='"Liberation Sans",sans-serif'  textLength="17.0" lengthAdjust="spacingAndGlyphs">*CO</text><text x="334.1" y="134.8" font-size="8.7" text-anchor="middle" font-weight="normal" fill="#333" stroke="#333" font-family='"Liberation Sans",sans-serif' >*</text><text x="0.0" y="0.0" font-size="10.8" text-anchor="middle" font-weight="normal" fill="#222" stroke="#222" font-family='"Liberation Sans",sans-serif' transform="translate(104.9,76.5) rotate(-90)" textLength="88.6" lengthAdjust="spacingAndGlyphs">Free energy (eV)</text><text x="179.5" y="152.7" font-size="11.3" text-anchor="start" font-weight="normal" fill="#222" stroke="#222" font-family='"Liberation Sans",sans-serif'  textLength="111" lengthAdjust="spacingAndGlyphs">Reaction coordination</text><line x1="146.0" y1="49.4" x2="190.5" y2="24.9" stroke="#3a3a3a" stroke-width="1.25" stroke-dasharray="3.4,2.2"/><line x1="212.0" y1="24.9" x2="257.0" y2="75.6" stroke="#3a3a3a" stroke-width="1.25" stroke-dasharray="3.4,2.2"/><line x1="280.5" y1="75.6" x2="322.7" y2="41.4" stroke="#3a3a3a" stroke-width="1.25" stroke-dasharray="3.4,2.2"/><line x1="146.0" y1="49.4" x2="190.5" y2="27.5" stroke="#4f62b8" stroke-width="1.25" stroke-dasharray="3.4,2.2"/><line x1="213.7" y1="27.5" x2="255.5" y2="41.0" stroke="#4f62b8" stroke-width="1.25" stroke-dasharray="3.4,2.2"/><line x1="280.0" y1="41.0" x2="322.7" y2="41.4" stroke="#4f62b8" stroke-width="1.25" stroke-dasharray="3.4,2.2"/><line x1="146.0" y1="49.4" x2="188.6" y2="79.6" stroke="#e5322d" stroke-width="1.25" stroke-dasharray="3.4,2.2"/><line x1="212.3" y1="79.6" x2="256.5" y2="108.4" stroke="#e5322d" stroke-width="1.25" stroke-dasharray="3.4,2.2"/><line x1="280.5" y1="108.4" x2="322.7" y2="41.4" stroke="#e5322d" stroke-width="1.25" stroke-dasharray="3.4,2.2"/><line x1="124.2" y1="49.4" x2="146.0" y2="49.4" stroke="#e5322d" stroke-width="1.5" /><line x1="190.5" y1="24.9" x2="212.0" y2="24.9" stroke="#3a3a3a" stroke-width="1.5" /><line x1="190.5" y1="27.5" x2="213.7" y2="27.5" stroke="#4f62b8" stroke-width="1.5" /><line x1="188.6" y1="79.6" x2="212.3" y2="79.6" stroke="#e5322d" stroke-width="1.5" /><line x1="256.8" y1="75.6" x2="280.5" y2="75.6" stroke="#3a3a3a" stroke-width="1.5" /><line x1="255.5" y1="41.0" x2="280.0" y2="41.0" stroke="#4f62b8" stroke-width="1.5" /><line x1="256.5" y1="108.4" x2="280.5" y2="108.4" stroke="#e5322d" stroke-width="1.5" /><line x1="322.7" y1="41.4" x2="344.5" y2="41.4" stroke="#e5322d" stroke-width="1.5" /><text x="133.0" y="46.5" font-size="9.0" text-anchor="start" font-weight="normal" fill="#222" stroke="#222" font-family='"Liberation Sans",sans-serif'  textLength="4.5" lengthAdjust="spacingAndGlyphs">0</text><text x="191.9" y="22.0" font-size="9.0" text-anchor="start" font-weight="normal" fill="#222" stroke="#222" font-family='"Liberation Sans",sans-serif'  textLength="16.7" lengthAdjust="spacingAndGlyphs">0.54</text><text x="192.3" y="35.1" font-size="9.0" text-anchor="start" font-weight="normal" fill="#222" stroke="#222" font-family='"Liberation Sans",sans-serif'  textLength="16.3" lengthAdjust="spacingAndGlyphs">0.47</text><text x="259.5" y="39.0" font-size="9.0" text-anchor="start" font-weight="normal" fill="#222" stroke="#222" font-family='"Liberation Sans",sans-serif'  textLength="16.9" lengthAdjust="spacingAndGlyphs">0.32</text><text x="324.5" y="39.0" font-size="9.0" text-anchor="start" font-weight="normal" fill="#222" stroke="#222" font-family='"Liberation Sans",sans-serif'  textLength="17.3" lengthAdjust="spacingAndGlyphs">0.18</text><text x="191.9" y="76.9" font-size="9.0" text-anchor="start" font-weight="normal" fill="#222" stroke="#222" font-family='"Liberation Sans",sans-serif'  textLength="20" lengthAdjust="spacingAndGlyphs">-0.66</text><text x="257.7" y="73.8" font-size="9.0" text-anchor="start" font-weight="normal" fill="#222" stroke="#222" font-family='"Liberation Sans",sans-serif'  textLength="20" lengthAdjust="spacingAndGlyphs">-0.58</text><text x="257.7" y="106.2" font-size="9.0" text-anchor="start" font-weight="normal" fill="#222" stroke="#222" font-family='"Liberation Sans",sans-serif'  textLength="20" lengthAdjust="spacingAndGlyphs">-1.30</text><line x1="131.5" y1="82.9" x2="141.9" y2="82.9" stroke="#555" stroke-width="1.0" /><line x1="131.5" y1="96.6" x2="141.9" y2="96.6" stroke="#e5322d" stroke-width="1.0" /><line x1="131.5" y1="110.2" x2="141.9" y2="110.2" stroke="#4f62b8" stroke-width="1.0" /><text x="149.2" y="85.9" font-size="8.6" text-anchor="start" font-weight="normal" fill="#333" stroke="#333" font-family='"Liberation Sans",sans-serif' ><tspan>FeN</tspan><tspan dy="3.20" font-size="5.33">4</tspan></text><text x="149.2" y="99.5" font-size="8.6" text-anchor="start" font-weight="normal" fill="#333" stroke="#333" font-family='"Liberation Sans",sans-serif' ><tspan>FeN</tspan><tspan dy="3.20" font-size="5.33">3</tspan></text><text x="149.2" y="113.2" font-size="8.6" text-anchor="start" font-weight="normal" fill="#333" stroke="#333" font-family='"Liberation Sans",sans-serif' ><tspan>FeN</tspan><tspan dy="3.20" font-size="5.33">3</tspan><tspan dy="-3.20">V</tspan></text><text x="360.6" y="16.2" font-size="19.5" text-anchor="start" font-weight="bold" fill="#111" stroke="#111" font-family='"Liberation Serif",serif' >c</text><rect x="376.5" y="3.5" width="167.9" height="130.3" fill="none" stroke="#6a6a6a" stroke-width="1" /><line x1="373.6" y1="133.8" x2="376.5" y2="133.8" stroke="#6a6a6a" stroke-width="1" /><text x="372.6" y="136.3" font-size="7.1" text-anchor="end" font-weight="normal" fill="#333" stroke="#333" font-family='"Liberation Sans",sans-serif' >0</text><line x1="373.6" y1="106.8" x2="376.5" y2="106.8" stroke="#6a6a6a" stroke-width="1" /><text x="372.6" y="109.3" font-size="7.1" text-anchor="end" font-weight="normal" fill="#333" stroke="#333" font-family='"Liberation Sans",sans-serif' >25</text><line x1="373.6" y1="79.7" x2="376.5" y2="79.7" stroke="#6a6a6a" stroke-width="1" /><text x="372.6" y="82.2" font-size="7.1" text-anchor="end" font-weight="normal" fill="#333" stroke="#333" font-family='"Liberation Sans",sans-serif' >50</text><line x1="373.6" y1="52.7" x2="376.5" y2="52.7" stroke="#6a6a6a" stroke-width="1" /><text x="372.6" y="55.2" font-size="7.1" text-anchor="end" font-weight="normal" fill="#333" stroke="#333" font-family='"Liberation Sans",sans-serif' >75</text><line x1="373.6" y1="25.6" x2="376.5" y2="25.6" stroke="#6a6a6a" stroke-width="1" /><text x="372.6" y="28.1" font-size="7.1" text-anchor="end" font-weight="normal" fill="#333" stroke="#333" font-family='"Liberation Sans",sans-serif' >100</text><line x1="376.5" y1="120.3" x2="378.0" y2="120.3" stroke="#6a6a6a" stroke-width="1" /><line x1="376.5" y1="93.2" x2="378.0" y2="93.2" stroke="#6a6a6a" stroke-width="1" /><line x1="376.5" y1="66.2" x2="378.0" y2="66.2" stroke="#6a6a6a" stroke-width="1" /><line x1="376.5" y1="39.1" x2="378.0" y2="39.1" stroke="#6a6a6a" stroke-width="1" /><text x="0.0" y="0.0" font-size="9.3" text-anchor="middle" font-weight="normal" fill="#222" stroke="#222" font-family='"Liberation Sans",sans-serif' transform="translate(358.6,69.4) rotate(-90)" textLength="39.6" lengthAdjust="spacingAndGlyphs"><tspan>FE</tspan><tspan dy="3.30" font-size="5.77">CO</tspan><tspan dy="-3.30"> (%)</tspan></text><line x1="397.9" y1="133.8" x2="397.9" y2="136.6" stroke="#6a6a6a" stroke-width="1" /><rect x="385.4" y="32.6" width="6.2" height="101.2" fill="#e8262a" stroke="none" stroke-width="1" /><line x1="388.5" y1="35.3" x2="388.5" y2="29.9" stroke="#444" stroke-width="0.6" /><line x1="387.3" y1="29.9" x2="389.7" y2="29.9" stroke="#333" stroke-width="0.6" /><line x1="387.3" y1="35.3" x2="389.7" y2="35.3" stroke="#444" stroke-width="0.6" /><rect x="391.6" y="49.9" width="6.2" height="83.9" fill="#b455b4" stroke="none" stroke-width="1" /><line x1="394.8" y1="52.1" x2="394.8" y2="47.8" stroke="#444" stroke-width="0.6" /><line x1="393.6" y1="47.8" x2="396.0" y2="47.8" stroke="#333" stroke-width="0.6" /><line x1="393.6" y1="52.1" x2="396.0" y2="52.1" stroke="#444" stroke-width="0.6" /><rect x="397.9" y="61.3" width="6.2" height="72.5" fill="#f28a22" stroke="none" stroke-width="1" /><line x1="401.0" y1="64.6" x2="401.0" y2="58.1" stroke="#444" stroke-width="0.6" /><line x1="399.8" y1="58.1" x2="402.2" y2="58.1" stroke="#333" stroke-width="0.6" /><line x1="399.8" y1="64.6" x2="402.2" y2="64.6" stroke="#444" stroke-width="0.6" /><rect x="404.1" y="86.7" width="6.2" height="47.1" fill="#0a0a0a" stroke="none" stroke-width="1" /><line x1="407.3" y1="92.1" x2="407.3" y2="81.3" stroke="#888" stroke-width="0.6" /><line x1="406.1" y1="81.3" x2="408.5" y2="81.3" stroke="#333" stroke-width="0.6" /><line x1="406.1" y1="92.1" x2="408.5" y2="92.1" stroke="#888" stroke-width="0.6" /><line x1="440.1" y1="133.8" x2="440.1" y2="136.6" stroke="#6a6a6a" stroke-width="1" /><rect x="427.6" y="29.9" width="6.2" height="103.9" fill="#e8262a" stroke="none" stroke-width="1" /><line x1="430.7" y1="30.5" x2="430.7" y2="29.4" stroke="#444" stroke-width="0.6" /><line x1="429.5" y1="29.4" x2="431.9" y2="29.4" stroke="#333" stroke-width="0.6" /><line x1="429.5" y1="30.5" x2="431.9" y2="30.5" stroke="#444" stroke-width="0.6" /><rect x="433.9" y="36.6" width="6.2" height="97.2" fill="#b455b4" stroke="none" stroke-width="1" /><line x1="437.0" y1="38.3" x2="437.0" y2="35.0" stroke="#444" stroke-width="0.6" /><line x1="435.8" y1="35.0" x2="438.2" y2="35.0" stroke="#333" stroke-width="0.6" /><line x1="435.8" y1="38.3" x2="438.2" y2="38.3" stroke="#444" stroke-width="0.6" /><rect x="440.1" y="45.4" width="6.2" height="88.4" fill="#f28a22" stroke="none" stroke-width="1" /><line x1="443.2" y1="47.0" x2="443.2" y2="43.8" stroke="#444" stroke-width="0.6" /><line x1="442.0" y1="43.8" x2="444.4" y2="43.8" stroke="#333" stroke-width="0.6" /><line x1="442.0" y1="47.0" x2="444.4" y2="47.0" stroke="#444" stroke-width="0.6" /><rect x="446.4" y="70.5" width="6.2" height="63.3" fill="#0a0a0a" stroke="none" stroke-width="1" /><line x1="449.5" y1="73.7" x2="449.5" y2="67.3" stroke="#888" stroke-width="0.6" /><line x1="448.3" y1="67.3" x2="450.7" y2="67.3" stroke="#333" stroke-width="0.6" /><line x1="448.3" y1="73.7" x2="450.7" y2="73.7" stroke="#888" stroke-width="0.6" /><line x1="481.9" y1="133.8" x2="481.9" y2="136.6" stroke="#6a6a6a" stroke-width="1" /><rect x="469.4" y="29.9" width="6.2" height="103.9" fill="#e8262a" stroke="none" stroke-width="1" /><line x1="472.5" y1="31.0" x2="472.5" y2="28.8" stroke="#444" stroke-width="0.6" /><line x1="471.3" y1="28.8" x2="473.7" y2="28.8" stroke="#333" stroke-width="0.6" /><line x1="471.3" y1="31.0" x2="473.7" y2="31.0" stroke="#444" stroke-width="0.6" /><rect x="475.6" y="34.0" width="6.2" height="99.8" fill="#b455b4" stroke="none" stroke-width="1" /><line x1="478.8" y1="36.7" x2="478.8" y2="31.3" stroke="#444" stroke-width="0.6" /><line x1="477.6" y1="31.3" x2="480.0" y2="31.3" stroke="#333" stroke-width="0.6" /><line x1="477.6" y1="36.7" x2="480.0" y2="36.7" stroke="#444" stroke-width="0.6" /><rect x="481.9" y="38.6" width="6.2" height="95.2" fill="#f28a22" stroke="none" stroke-width="1" /><line x1="485.0" y1="40.2" x2="485.0" y2="37.0" stroke="#444" stroke-width="0.6" /><line x1="483.8" y1="37.0" x2="486.2" y2="37.0" stroke="#333" stroke-width="0.6" /><line x1="483.8" y1="40.2" x2="486.2" y2="40.2" stroke="#444" stroke-width="0.6" /><rect x="488.1" y="89.4" width="6.2" height="44.4" fill="#0a0a0a" stroke="none" stroke-width="1" /><line x1="491.3" y1="94.8" x2="491.3" y2="84.0" stroke="#888" stroke-width="0.6" /><line x1="490.1" y1="84.0" x2="492.5" y2="84.0" stroke="#333" stroke-width="0.6" /><line x1="490.1" y1="94.8" x2="492.5" y2="94.8" stroke="#888" stroke-width="0.6" /><line x1="523.9" y1="133.8" x2="523.9" y2="136.6" stroke="#6a6a6a" stroke-width="1" /><rect x="511.4" y="42.6" width="6.2" height="91.2" fill="#e8262a" stroke="none" stroke-width="1" /><line x1="514.5" y1="43.3" x2="514.5" y2="41.8" stroke="#444" stroke-width="0.6" /><line x1="513.3" y1="41.8" x2="515.7" y2="41.8" stroke="#333" stroke-width="0.6" /><line x1="513.3" y1="43.3" x2="515.7" y2="43.3" stroke="#444" stroke-width="0.6" /><rect x="517.6" y="44.0" width="6.2" height="89.8" fill="#b455b4" stroke="none" stroke-width="1" /><line x1="520.8" y1="45.6" x2="520.8" y2="42.4" stroke="#444" stroke-width="0.6" /><line x1="519.6" y1="42.4" x2="522.0" y2="42.4" stroke="#333" stroke-width="0.6" /><line x1="519.6" y1="45.6" x2="522.0" y2="45.6" stroke="#444" stroke-width="0.6" /><rect x="523.9" y="45.4" width="6.2" height="88.4" fill="#f28a22" stroke="none" stroke-width="1" /><line x1="527.0" y1="49.2" x2="527.0" y2="41.6" stroke="#444" stroke-width="0.6" /><line x1="525.8" y1="41.6" x2="528.2" y2="41.6" stroke="#333" stroke-width="0.6" /><line x1="525.8" y1="49.2" x2="528.2" y2="49.2" stroke="#444" stroke-width="0.6" /><rect x="530.1" y="115.2" width="6.2" height="18.6" fill="#0a0a0a" stroke="none" stroke-width="1" /><line x1="533.3" y1="119.5" x2="533.3" y2="110.9" stroke="#888" stroke-width="0.6" /><line x1="532.1" y1="110.9" x2="534.5" y2="110.9" stroke="#333" stroke-width="0.6" /><line x1="532.1" y1="119.5" x2="534.5" y2="119.5" stroke="#888" stroke-width="0.6" /><line x1="419.5" y1="133.8" x2="419.5" y2="135.5" stroke="#6a6a6a" stroke-width="1" /><line x1="461.2" y1="133.8" x2="461.2" y2="135.5" stroke="#6a6a6a" stroke-width="1" /><line x1="503.0" y1="133.8" x2="503.0" y2="135.5" stroke="#6a6a6a" stroke-width="1" /><text x="398.4" y="143.3" font-size="7.9" text-anchor="middle" font-weight="normal" fill="#333" stroke="#333" font-family='"Liberation Sans",sans-serif'  textLength="12.6" lengthAdjust="spacingAndGlyphs">-0.6</text><text x="440.1" y="143.3" font-size="7.9" text-anchor="middle" font-weight="normal" fill="#333" stroke="#333" font-family='"Liberation Sans",sans-serif'  textLength="12.6" lengthAdjust="spacingAndGlyphs">-0.5</text><text x="481.9" y="143.3" font-size="7.9" text-anchor="middle" font-weight="normal" fill="#333" stroke="#333" font-family='"Liberation Sans",sans-serif'  textLength="12.6" lengthAdjust="spacingAndGlyphs">-0.4</text><text x="524.0" y="143.3" font-size="7.9" text-anchor="middle" font-weight="normal" fill="#333" stroke="#333" font-family='"Liberation Sans",sans-serif'  textLength="12.6" lengthAdjust="spacingAndGlyphs">-0.3</text><text x="415.3" y="152.7" font-size="9.7" text-anchor="start" font-weight="normal" fill="#222" stroke="#222" font-family='"Liberation Sans",sans-serif'  textLength="91.6" lengthAdjust="spacingAndGlyphs"><tspan>Potential (V </tspan><tspan font-style="italic">vs.</tspan><tspan> RHE)</tspan></text><rect x="391.7" y="6.1" width="16.9" height="7.5" fill="#e8262a" stroke="none" stroke-width="1" /><rect x="391.7" y="18.0" width="16.9" height="7.7" fill="#f28a22" stroke="none" stroke-width="1" /><rect x="466.6" y="6.4" width="15.8" height="7.6" fill="#b455b4" stroke="none" stroke-width="1" /><rect x="466.6" y="18.2" width="15.8" height="7.8" fill="#0a0a0a" stroke="none" stroke-width="1" /><text x="410.4" y="12.9" font-size="8.3" text-anchor="start" font-weight="normal" fill="#333" stroke="#333" font-family='"Liberation Sans",sans-serif'  textLength="51.6" lengthAdjust="spacingAndGlyphs"><tspan>Fe</tspan><tspan dy="2.20" font-size="4.98">1</tspan><tspan dy="-2.20">NC/S</tspan><tspan dy="2.20" font-size="4.98">1</tspan><tspan dy="-2.20">-1000</tspan></text><text x="410.4" y="25.0" font-size="8.3" text-anchor="start" font-weight="normal" fill="#333" stroke="#333" font-family='"Liberation Sans",sans-serif'  textLength="47.2" lengthAdjust="spacingAndGlyphs"><tspan>Fe</tspan><tspan dy="2.20" font-size="4.98">1</tspan><tspan dy="-2.20">NC/S</tspan><tspan dy="2.20" font-size="4.98">1</tspan><tspan dy="-2.20">-800</tspan></text><text x="484.4" y="13.1" font-size="8.3" text-anchor="start" font-weight="normal" fill="#333" stroke="#333" font-family='"Liberation Sans",sans-serif'  textLength="47.2" lengthAdjust="spacingAndGlyphs"><tspan>Fe</tspan><tspan dy="2.20" font-size="4.98">1</tspan><tspan dy="-2.20">NC/S</tspan><tspan dy="2.20" font-size="4.98">1</tspan><tspan dy="-2.20">-900</tspan></text><text x="484.4" y="25.1" font-size="8.3" text-anchor="start" font-weight="normal" fill="#333" stroke="#333" font-family='"Liberation Sans",sans-serif'  textLength="39.6" lengthAdjust="spacingAndGlyphs"><tspan>NC/S</tspan><tspan dy="2.20" font-size="4.98">1</tspan><tspan dy="-2.20">-1000</tspan></text><text x="7.4" y="173.0" font-size="18" text-anchor="start" font-weight="bold" fill="#111" stroke="#111" font-family='"Liberation Serif",serif' >d</text><defs><linearGradient id="blarr" x1="0" y1="0" x2="1" y2="0"><stop offset="0" stop-color="#1f7fbf"/><stop offset="1" stop-color="#38aee0"/></linearGradient></defs><text x="18.6" y="168.8" font-size="7.2" text-anchor="start" font-weight="normal" fill="#555" stroke="#555" font-family='"Liberation Sans",sans-serif'  textLength="13.6" lengthAdjust="spacingAndGlyphs"><tspan>CO</tspan><tspan dy="2.20" font-size="5.04">2</tspan></text><polygon points="37.8,163.0 34.6,167.6 36.6,167.4 34.0,171.2 38.8,166.2 36.8,166.4 39.6,163.0" fill="#3ab0d8" stroke="none" stroke-width="1" /><text x="42.2" y="169.0" font-size="8.0" text-anchor="start" font-weight="bold" fill="#139060" stroke="#139060" font-family='"Liberation Sans",sans-serif'  textLength="11.0" lengthAdjust="spacingAndGlyphs">CO</text><path d="M24.3,170.2 Q25.5,181.5 35,181.8 Q41.5,181.5 45.5,176" stroke="url(#blarr)" stroke-width="2.8" fill="none"/><polygon points="41.8,177.9 51.0,170.2 50.2,179.4" fill="#38aee0" stroke="none" stroke-width="1" /><line x1="32.6" y1="177.2" x2="40.2" y2="184.6" stroke="#d8203a" stroke-width="2.2" /><line x1="40.0" y1="177.2" x2="32.8" y2="184.6" stroke="#d8203a" stroke-width="2.2" /><line x1="36.5" y1="200.9" x2="30.0" y2="194.0" stroke="#8090a8" stroke-width="1.6" /><line x1="36.5" y1="200.9" x2="42.6" y2="194.0" stroke="#8090a8" stroke-width="1.6" /><line x1="36.5" y1="200.9" x2="30.0" y2="207.5" stroke="#8090a8" stroke-width="1.6" /><line x1="36.5" y1="200.9" x2="42.6" y2="207.5" stroke="#8090a8" stroke-width="1.6" /><line x1="30.0" y1="194.0" x2="30.7" y2="187.1" stroke="#8090a8" stroke-width="1.6" /><line x1="42.6" y1="194.0" x2="41.9" y2="187.1" stroke="#8090a8" stroke-width="1.6" /><line x1="30.0" y1="194.0" x2="23.5" y2="197.1" stroke="#8090a8" stroke-width="1.6" /><line x1="23.5" y1="197.1" x2="24.2" y2="203.6" stroke="#8090a8" stroke-width="1.6" /><line x1="24.2" y1="203.6" x2="30.0" y2="207.5" stroke="#8090a8" stroke-width="1.6" /><line x1="42.6" y1="194.0" x2="49.2" y2="197.1" stroke="#8090a8" stroke-width="1.6" /><line x1="49.2" y1="197.1" x2="48.8" y2="203.6" stroke="#8090a8" stroke-width="1.6" /><line x1="48.8" y1="203.6" x2="42.6" y2="207.5" stroke="#8090a8" stroke-width="1.6" /><line x1="30.0" y1="207.5" x2="30.7" y2="213.6" stroke="#8090a8" stroke-width="1.6" /><line x1="42.6" y1="207.5" x2="41.5" y2="213.6" stroke="#8090a8" stroke-width="1.6" /><circle cx="30.7" cy="187.1" r="1.9" fill="#9c9c9c" stroke="#707070" stroke-width="0.4" /><circle cx="41.9" cy="187.1" r="1.9" fill="#9c9c9c" stroke="#707070" stroke-width="0.4" /><circle cx="23.5" cy="197.1" r="1.9" fill="#9c9c9c" stroke="#707070" stroke-width="0.4" /><circle cx="24.2" cy="203.6" r="1.9" fill="#9c9c9c" stroke="#707070" stroke-width="0.4" /><circle cx="49.2" cy="197.1" r="1.9" fill="#9c9c9c" stroke="#707070" stroke-width="0.4" /><circle cx="48.8" cy="203.6" r="1.9" fill="#9c9c9c" stroke="#707070" stroke-width="0.4" /><circle cx="30.7" cy="213.6" r="1.9" fill="#9c9c9c" stroke="#707070" stroke-width="0.4" /><circle cx="41.5" cy="213.6" r="1.9" fill="#9c9c9c" stroke="#707070" stroke-width="0.4" /><circle cx="30.0" cy="194.0" r="1.9" fill="#4a78b4" stroke="#3a5a8a" stroke-width="0.4" /><circle cx="42.6" cy="194.0" r="1.9" fill="#4a78b4" stroke="#3a5a8a" stroke-width="0.4" /><circle cx="30.0" cy="207.5" r="1.9" fill="#4a78b4" stroke="#3a5a8a" stroke-width="0.4" /><circle cx="42.6" cy="207.5" r="1.9" fill="#4a78b4" stroke="#3a5a8a" stroke-width="0.4" /><circle cx="36.5" cy="200.9" r="2.3" fill="#b878c8" stroke="#9a5aaa" stroke-width="0.35" /><text x="57.4" y="168.8" font-size="7.2" text-anchor="start" font-weight="normal" fill="#555" stroke="#555" font-family='"Liberation Sans",sans-serif'  textLength="13.6" lengthAdjust="spacingAndGlyphs"><tspan>CO</tspan><tspan dy="2.20" font-size="5.04">2</tspan></text><polygon points="76.6,163.0 73.4,167.6 75.4,167.4 72.8,171.2 77.6,166.2 75.6,166.4 78.4,163.0" fill="#3ab0d8" stroke="none" stroke-width="1" /><text x="81.0" y="169.0" font-size="8.0" text-anchor="start" font-weight="bold" fill="#139060" stroke="#139060" font-family='"Liberation Sans",sans-serif'  textLength="11.0" lengthAdjust="spacingAndGlyphs">CO</text><path d="M63.099999999999994,170.2 Q64.3,181.5 73.8,181.8 Q80.3,181.5 84.3,176" stroke="url(#blarr)" stroke-width="2.8" fill="none"/><polygon points="80.6,177.9 89.8,170.2 89.0,179.4" fill="#38aee0" stroke="none" stroke-width="1" /><line x1="75.3" y1="200.9" x2="68.8" y2="194.0" stroke="#8090a8" stroke-width="1.6" /><line x1="75.3" y1="200.9" x2="81.4" y2="194.0" stroke="#8090a8" stroke-width="1.6" /><line x1="75.3" y1="200.9" x2="68.8" y2="207.5" stroke="#8090a8" stroke-width="1.6" /><line x1="75.3" y1="200.9" x2="81.4" y2="207.5" stroke="#8090a8" stroke-width="1.6" /><line x1="68.8" y1="194.0" x2="69.5" y2="187.1" stroke="#8090a8" stroke-width="1.6" /><line x1="81.4" y1="194.0" x2="80.7" y2="187.1" stroke="#8090a8" stroke-width="1.6" /><line x1="68.8" y1="194.0" x2="62.3" y2="197.1" stroke="#8090a8" stroke-width="1.6" /><line x1="62.3" y1="197.1" x2="63.0" y2="203.6" stroke="#8090a8" stroke-width="1.6" /><line x1="63.0" y1="203.6" x2="68.8" y2="207.5" stroke="#8090a8" stroke-width="1.6" /><line x1="81.4" y1="194.0" x2="88.0" y2="197.1" stroke="#8090a8" stroke-width="1.6" /><line x1="88.0" y1="197.1" x2="87.6" y2="203.6" stroke="#8090a8" stroke-width="1.6" /><line x1="87.6" y1="203.6" x2="81.4" y2="207.5" stroke="#8090a8" stroke-width="1.6" /><line x1="68.8" y1="207.5" x2="69.5" y2="213.6" stroke="#8090a8" stroke-width="1.6" /><line x1="81.4" y1="207.5" x2="80.3" y2="213.6" stroke="#8090a8" stroke-width="1.6" /><circle cx="69.5" cy="187.1" r="1.9" fill="#9c9c9c" stroke="#707070" stroke-width="0.4" /><circle cx="80.7" cy="187.1" r="1.9" fill="#9c9c9c" stroke="#707070" stroke-width="0.4" /><circle cx="62.3" cy="197.1" r="1.9" fill="#9c9c9c" stroke="#707070" stroke-width="0.4" /><circle cx="63.0" cy="203.6" r="1.9" fill="#9c9c9c" stroke="#707070" stroke-width="0.4" /><circle cx="88.0" cy="197.1" r="1.9" fill="#9c9c9c" stroke="#707070" stroke-width="0.4" /><circle cx="87.6" cy="203.6" r="1.9" fill="#9c9c9c" stroke="#707070" stroke-width="0.4" /><circle cx="69.5" cy="213.6" r="1.9" fill="#9c9c9c" stroke="#707070" stroke-width="0.4" /><circle cx="80.3" cy="213.6" r="1.9" fill="#9c9c9c" stroke="#707070" stroke-width="0.4" /><circle cx="68.8" cy="194.0" r="1.9" fill="#4a78b4" stroke="#3a5a8a" stroke-width="0.4" /><circle cx="81.4" cy="194.0" r="1.9" fill="#9c9c9c" stroke="#707070" stroke-width="0.4" /><circle cx="68.8" cy="207.5" r="1.9" fill="#9c9c9c" stroke="#707070" stroke-width="0.4" /><circle cx="81.4" cy="207.5" r="1.9" fill="#4a78b4" stroke="#3a5a8a" stroke-width="0.4" /><circle cx="75.3" cy="200.9" r="2.3" fill="#b878c8" stroke="#9a5aaa" stroke-width="0.35" /><text x="95.9" y="168.8" font-size="7.2" text-anchor="start" font-weight="normal" fill="#555" stroke="#555" font-family='"Liberation Sans",sans-serif'  textLength="13.6" lengthAdjust="spacingAndGlyphs"><tspan>CO</tspan><tspan dy="2.20" font-size="5.04">2</tspan></text><polygon points="115.1,163.0 111.9,167.6 113.9,167.4 111.3,171.2 116.1,166.2 114.1,166.4 116.9,163.0" fill="#3ab0d8" stroke="none" stroke-width="1" /><text x="119.5" y="169.0" font-size="8.0" text-anchor="start" font-weight="bold" fill="#139060" stroke="#139060" font-family='"Liberation Sans",sans-serif'  textLength="11.0" lengthAdjust="spacingAndGlyphs">CO</text><path d="M101.6,170.2 Q102.8,181.5 112.3,181.8 Q118.8,181.5 122.8,176" stroke="url(#blarr)" stroke-width="2.8" fill="none"/><polygon points="119.1,177.9 128.3,170.2 127.5,179.4" fill="#38aee0" stroke="none" stroke-width="1" /><line x1="109.9" y1="177.2" x2="117.5" y2="184.6" stroke="#d8203a" stroke-width="2.2" /><line x1="117.3" y1="177.2" x2="110.1" y2="184.6" stroke="#d8203a" stroke-width="2.2" /><line x1="113.8" y1="200.9" x2="107.3" y2="194.0" stroke="#8090a8" stroke-width="1.6" /><line x1="113.8" y1="200.9" x2="119.9" y2="194.0" stroke="#8090a8" stroke-width="1.6" /><line x1="113.8" y1="200.9" x2="107.3" y2="207.5" stroke="#8090a8" stroke-width="1.6" /><line x1="113.8" y1="200.9" x2="119.9" y2="207.5" stroke="#8090a8" stroke-width="1.6" /><line x1="107.3" y1="194.0" x2="108.0" y2="187.1" stroke="#8090a8" stroke-width="1.6" /><line x1="119.9" y1="194.0" x2="119.2" y2="187.1" stroke="#8090a8" stroke-width="1.6" /><line x1="107.3" y1="194.0" x2="100.8" y2="197.1" stroke="#8090a8" stroke-width="1.6" /><line x1="100.8" y1="197.1" x2="101.5" y2="203.6" stroke="#8090a8" stroke-width="1.6" /><line x1="101.5" y1="203.6" x2="107.3" y2="207.5" stroke="#8090a8" stroke-width="1.6" /><line x1="119.9" y1="194.0" x2="126.5" y2="197.1" stroke="#8090a8" stroke-width="1.6" /><line x1="126.5" y1="197.1" x2="126.1" y2="203.6" stroke="#8090a8" stroke-width="1.6" /><line x1="126.1" y1="203.6" x2="119.9" y2="207.5" stroke="#8090a8" stroke-width="1.6" /><line x1="107.3" y1="207.5" x2="108.0" y2="213.6" stroke="#8090a8" stroke-width="1.6" /><line x1="119.9" y1="207.5" x2="118.8" y2="213.6" stroke="#8090a8" stroke-width="1.6" /><circle cx="108.0" cy="187.1" r="1.9" fill="#9c9c9c" stroke="#707070" stroke-width="0.4" /><circle cx="119.2" cy="187.1" r="1.9" fill="#9c9c9c" stroke="#707070" stroke-width="0.4" /><circle cx="100.8" cy="197.1" r="1.9" fill="#9c9c9c" stroke="#707070" stroke-width="0.4" /><circle cx="101.5" cy="203.6" r="1.9" fill="#9c9c9c" stroke="#707070" stroke-width="0.4" /><circle cx="126.5" cy="197.1" r="1.9" fill="#9c9c9c" stroke="#707070" stroke-width="0.4" /><circle cx="126.1" cy="203.6" r="1.9" fill="#9c9c9c" stroke="#707070" stroke-width="0.4" /><circle cx="108.0" cy="213.6" r="1.9" fill="#9c9c9c" stroke="#707070" stroke-width="0.4" /><circle cx="118.8" cy="213.6" r="1.9" fill="#9c9c9c" stroke="#707070" stroke-width="0.4" /><circle cx="107.3" cy="194.0" r="1.9" fill="#4a78b4" stroke="#3a5a8a" stroke-width="0.4" /><circle cx="119.9" cy="194.0" r="1.9" fill="#4a78b4" stroke="#3a5a8a" stroke-width="0.4" /><circle cx="107.3" cy="207.5" r="1.9" fill="#4a78b4" stroke="#3a5a8a" stroke-width="0.4" /><circle cx="119.9" cy="207.5" r="1.9" fill="#4a78b4" stroke="#3a5a8a" stroke-width="0.4" /><circle cx="113.8" cy="200.9" r="2.3" fill="#b878c8" stroke="#9a5aaa" stroke-width="0.35" /><text x="135.8" y="172.0" font-size="19" text-anchor="start" font-weight="bold" fill="#111" stroke="#111" font-family='"Liberation Serif",serif' >f</text><path d="M156.9 175.4L162.2 172.3M172.7 184.5L172.7 190.5M162.2 190.5L167.4 193.6M167.4 175.4L167.4 181.4M177.9 193.6L183.1 190.5M172.7 166.3L172.7 172.3M177.9 193.6L177.9 199.6M167.4 175.4L167.4 181.4M183.2 190.5L188.4 193.6M177.9 175.4L183.1 172.3M183.2 202.7L188.4 199.6M188.4 181.4L193.6 184.5M183.2 184.5L188.4 181.4M188.4 193.6L188.4 199.6M177.9 163.2L183.1 166.3M188.4 181.4L193.7 184.5M198.9 181.4L204.1 184.5M156.9 175.4L156.9 181.4M193.7 184.5L198.9 181.4M204.1 184.5L204.1 190.5M167.4 163.2L172.6 166.3M167.4 193.6L167.4 199.6M156.9 163.2L162.1 166.3M183.2 190.5L188.4 193.6M162.2 172.3L167.4 175.4M193.7 202.7L198.9 199.6M151.7 172.3L156.9 175.4M183.2 184.5L188.4 181.4M198.9 175.4L198.9 181.4M198.9 193.6L204.1 190.5M177.9 181.4L183.2 184.5M172.7 202.7L177.9 199.6M183.2 172.3L188.4 175.4M193.6 184.5L193.6 190.5M172.7 172.3L177.9 175.4M198.9 193.6L198.9 199.6M193.6 166.3L193.6 172.3M183.2 184.5L183.2 190.5M167.4 175.4L172.7 172.3M172.7 166.3L177.9 163.2M172.7 172.3L177.9 175.4M167.4 193.6L172.6 190.5M151.7 166.3L156.9 163.2M162.1 166.3L162.1 172.3M162.2 166.3L167.4 163.2M188.4 193.6L193.7 190.5M188.4 163.2L193.6 166.3M209.4 193.6L209.4 199.6M167.4 175.4L172.6 172.3M193.7 190.5L198.9 193.6M162.2 184.5L162.2 190.5M162.2 172.3L167.4 175.4M188.4 199.6L193.7 202.7M172.7 190.5L177.9 193.6M151.7 166.3L151.7 172.3M177.9 181.4L183.1 184.5M167.4 193.6L172.7 190.5M204.2 202.7L209.4 199.6M156.9 175.4L162.1 172.3M188.4 193.6L188.4 199.6M172.7 190.5L177.9 193.6M183.2 172.3L188.4 175.4M167.4 181.4L172.6 184.5M177.9 175.4L183.2 172.3M183.2 166.3L188.4 163.2M198.9 193.6L204.2 190.5M167.4 199.6L172.7 202.7M188.4 175.4L188.4 181.4M188.4 175.4L188.4 181.4M162.2 184.5L167.4 181.4M167.4 181.4L172.7 184.5M172.6 166.3L172.6 172.3M172.7 184.5L177.9 181.4M188.4 193.6L193.6 190.5M188.4 175.4L193.7 172.3M162.2 184.5L167.4 181.4M183.2 166.3L183.2 172.3M183.1 184.5L183.1 190.5M193.7 184.5L198.9 181.4M204.2 190.5L209.4 193.6M188.4 175.4L193.6 172.3M198.9 199.6L204.2 202.7M177.9 193.6L183.2 190.5M156.9 181.4L162.2 184.5M183.1 166.3L183.1 172.3M193.7 172.3L198.9 175.4M198.9 193.6L198.9 199.6M177.9 193.6L177.9 199.6M193.7 184.5L193.7 190.5M177.9 175.4L177.9 181.4M162.2 166.3L162.2 172.3M172.7 184.5L177.9 181.4M172.6 184.5L172.6 190.5M177.9 175.4L177.9 181.4M193.7 190.5L198.9 193.6M177.9 199.6L183.2 202.7M151.7 166.3L146.4 163.2M209.4 199.6L214.7 202.7" stroke="#8e8e8e" stroke-width="1.1" fill="none"/><circle cx="193.7" cy="190.5" r="1.5" fill="#6e6e6e" stroke="none" stroke-width="0.5" /><circle cx="177.9" cy="175.4" r="1.5" fill="#6e6e6e" stroke="none" stroke-width="0.5" /><circle cx="209.4" cy="199.6" r="1.5" fill="#6e6e6e" stroke="none" stroke-width="0.5" /><circle cx="167.4" cy="181.4" r="1.5" fill="#6e6e6e" stroke="none" stroke-width="0.5" /><circle cx="177.9" cy="181.4" r="1.5" fill="#6e6e6e" stroke="none" stroke-width="0.5" /><circle cx="172.6" cy="172.3" r="1.5" fill="#6e6e6e" stroke="none" stroke-width="0.5" /><circle cx="193.7" cy="172.3" r="1.5" fill="#6e6e6e" stroke="none" stroke-width="0.5" /><circle cx="172.7" cy="184.5" r="1.5" fill="#6e6e6e" stroke="none" stroke-width="0.5" /><circle cx="193.7" cy="202.7" r="1.5" fill="#6e6e6e" stroke="none" stroke-width="0.5" /><circle cx="167.4" cy="175.4" r="1.5" fill="#6e6e6e" stroke="none" stroke-width="0.5" /><circle cx="198.9" cy="193.6" r="1.5" fill="#6e6e6e" stroke="none" stroke-width="0.5" /><circle cx="172.7" cy="190.5" r="1.5" fill="#6e6e6e" stroke="none" stroke-width="0.5" /><circle cx="156.9" cy="175.4" r="1.5" fill="#6e6e6e" stroke="none" stroke-width="0.5" /><circle cx="183.1" cy="166.3" r="1.5" fill="#6e6e6e" stroke="none" stroke-width="0.5" /><circle cx="188.4" cy="199.6" r="1.5" fill="#6e6e6e" stroke="none" stroke-width="0.5" /><circle cx="193.6" cy="166.3" r="1.5" fill="#6e6e6e" stroke="none" stroke-width="0.5" /><circle cx="198.9" cy="199.6" r="1.5" fill="#6e6e6e" stroke="none" stroke-width="0.5" /><circle cx="188.4" cy="181.4" r="1.5" fill="#6e6e6e" stroke="none" stroke-width="0.5" /><circle cx="183.2" cy="190.5" r="1.5" fill="#6e6e6e" stroke="none" stroke-width="0.5" /><circle cx="183.1" cy="172.3" r="1.5" fill="#6e6e6e" stroke="none" stroke-width="0.5" /><circle cx="177.9" cy="163.2" r="1.5" fill="#6e6e6e" stroke="none" stroke-width="0.5" /><circle cx="172.7" cy="172.3" r="1.5" fill="#6e6e6e" stroke="none" stroke-width="0.5" /><circle cx="172.7" cy="202.7" r="1.5" fill="#6e6e6e" stroke="none" stroke-width="0.5" /><circle cx="209.4" cy="193.6" r="1.5" fill="#6e6e6e" stroke="none" stroke-width="0.5" /><circle cx="177.9" cy="193.6" r="1.5" fill="#6e6e6e" stroke="none" stroke-width="0.5" /><circle cx="167.4" cy="175.4" r="1.5" fill="#6e6e6e" stroke="none" stroke-width="0.5" /><circle cx="188.4" cy="193.6" r="1.5" fill="#6e6e6e" stroke="none" stroke-width="0.5" /><circle cx="204.2" cy="190.5" r="1.5" fill="#6e6e6e" stroke="none" stroke-width="0.5" /><circle cx="162.1" cy="166.3" r="1.5" fill="#6e6e6e" stroke="none" stroke-width="0.5" /><circle cx="183.2" cy="166.3" r="1.5" fill="#6e6e6e" stroke="none" stroke-width="0.5" /><circle cx="198.9" cy="193.6" r="1.5" fill="#6e6e6e" stroke="none" stroke-width="0.5" /><circle cx="172.6" cy="166.3" r="1.5" fill="#6e6e6e" stroke="none" stroke-width="0.5" /><circle cx="177.9" cy="199.6" r="1.5" fill="#6e6e6e" stroke="none" stroke-width="0.5" /><circle cx="177.9" cy="181.4" r="1.5" fill="#6e6e6e" stroke="none" stroke-width="0.5" /><circle cx="162.1" cy="172.3" r="1.5" fill="#6e6e6e" stroke="none" stroke-width="0.5" /><circle cx="183.2" cy="172.3" r="1.5" fill="#6e6e6e" stroke="none" stroke-width="0.5" /><circle cx="188.4" cy="163.2" r="1.5" fill="#6e6e6e" stroke="none" stroke-width="0.5" /><circle cx="156.9" cy="163.2" r="1.5" fill="#6e6e6e" stroke="none" stroke-width="0.5" /><circle cx="193.6" cy="190.5" r="1.5" fill="#6e6e6e" stroke="none" stroke-width="0.5" /><circle cx="188.4" cy="193.6" r="1.5" fill="#6e6e6e" stroke="none" stroke-width="0.5" /><circle cx="188.4" cy="175.4" r="1.5" fill="#6e6e6e" stroke="none" stroke-width="0.5" /><circle cx="177.9" cy="193.6" r="1.5" fill="#6e6e6e" stroke="none" stroke-width="0.5" /><circle cx="162.2" cy="166.3" r="1.5" fill="#6e6e6e" stroke="none" stroke-width="0.5" /><circle cx="183.2" cy="184.5" r="1.5" fill="#6e6e6e" stroke="none" stroke-width="0.5" /><circle cx="204.1" cy="184.5" r="1.5" fill="#6e6e6e" stroke="none" stroke-width="0.5" /><circle cx="156.9" cy="181.4" r="1.5" fill="#6e6e6e" stroke="none" stroke-width="0.5" /><circle cx="162.2" cy="172.3" r="1.5" fill="#6e6e6e" stroke="none" stroke-width="0.5" /><circle cx="167.4" cy="163.2" r="1.5" fill="#6e6e6e" stroke="none" stroke-width="0.5" /><circle cx="204.1" cy="190.5" r="1.5" fill="#6e6e6e" stroke="none" stroke-width="0.5" /><circle cx="172.6" cy="190.5" r="1.5" fill="#6e6e6e" stroke="none" stroke-width="0.5" /><circle cx="193.7" cy="190.5" r="1.5" fill="#6e6e6e" stroke="none" stroke-width="0.5" /><circle cx="167.4" cy="175.4" r="1.5" fill="#6e6e6e" stroke="none" stroke-width="0.5" /><circle cx="162.2" cy="184.5" r="1.5" fill="#6e6e6e" stroke="none" stroke-width="0.5" /><circle cx="177.9" cy="175.4" r="1.5" fill="#6e6e6e" stroke="none" stroke-width="0.5" /><circle cx="183.1" cy="184.5" r="1.5" fill="#6e6e6e" stroke="none" stroke-width="0.5" /><circle cx="193.6" cy="184.5" r="1.5" fill="#6e6e6e" stroke="none" stroke-width="0.5" /><circle cx="167.4" cy="181.4" r="1.5" fill="#6e6e6e" stroke="none" stroke-width="0.5" /><circle cx="198.9" cy="199.6" r="1.5" fill="#6e6e6e" stroke="none" stroke-width="0.5" /><circle cx="183.1" cy="190.5" r="1.5" fill="#6e6e6e" stroke="none" stroke-width="0.5" /><circle cx="172.7" cy="190.5" r="1.5" fill="#6e6e6e" stroke="none" stroke-width="0.5" /><circle cx="167.4" cy="193.6" r="1.5" fill="#6e6e6e" stroke="none" stroke-width="0.5" /><circle cx="156.9" cy="175.4" r="1.5" fill="#6e6e6e" stroke="none" stroke-width="0.5" /><circle cx="183.2" cy="184.5" r="1.5" fill="#6e6e6e" stroke="none" stroke-width="0.5" /><circle cx="172.6" cy="184.5" r="1.5" fill="#6e6e6e" stroke="none" stroke-width="0.5" /><circle cx="172.7" cy="166.3" r="1.5" fill="#6e6e6e" stroke="none" stroke-width="0.5" /><circle cx="193.7" cy="184.5" r="1.5" fill="#6e6e6e" stroke="none" stroke-width="0.5" /><circle cx="177.9" cy="199.6" r="1.5" fill="#6e6e6e" stroke="none" stroke-width="0.5" /><circle cx="183.2" cy="190.5" r="1.5" fill="#6e6e6e" stroke="none" stroke-width="0.5" /><circle cx="198.9" cy="175.4" r="1.5" fill="#6e6e6e" stroke="none" stroke-width="0.5" /><circle cx="172.7" cy="172.3" r="1.5" fill="#6e6e6e" stroke="none" stroke-width="0.5" /><circle cx="188.4" cy="181.4" r="1.5" fill="#6e6e6e" stroke="none" stroke-width="0.5" /><circle cx="198.9" cy="181.4" r="1.5" fill="#6e6e6e" stroke="none" stroke-width="0.5" /><circle cx="188.4" cy="193.6" r="1.5" fill="#6e6e6e" stroke="none" stroke-width="0.5" /><circle cx="183.2" cy="172.3" r="1.5" fill="#6e6e6e" stroke="none" stroke-width="0.5" /><circle cx="162.2" cy="184.5" r="1.5" fill="#6e6e6e" stroke="none" stroke-width="0.5" /><circle cx="183.2" cy="202.7" r="1.5" fill="#6e6e6e" stroke="none" stroke-width="0.5" /><circle cx="198.9" cy="193.6" r="1.5" fill="#6e6e6e" stroke="none" stroke-width="0.5" /><circle cx="188.4" cy="199.6" r="1.5" fill="#6e6e6e" stroke="none" stroke-width="0.5" /><circle cx="151.7" cy="166.3" r="1.5" fill="#6e6e6e" stroke="none" stroke-width="0.5" /><circle cx="172.7" cy="184.5" r="1.5" fill="#6e6e6e" stroke="none" stroke-width="0.5" /><circle cx="162.2" cy="190.5" r="1.5" fill="#6e6e6e" stroke="none" stroke-width="0.5" /><circle cx="177.9" cy="175.4" r="1.5" fill="#6e6e6e" stroke="none" stroke-width="0.5" /><circle cx="188.4" cy="175.4" r="1.5" fill="#6e6e6e" stroke="none" stroke-width="0.5" /><circle cx="151.7" cy="172.3" r="1.5" fill="#6e6e6e" stroke="none" stroke-width="0.5" /><circle cx="167.4" cy="181.4" r="1.5" fill="#6e6e6e" stroke="none" stroke-width="0.5" /><circle cx="204.2" cy="202.7" r="1.5" fill="#6e6e6e" stroke="none" stroke-width="0.5" /><circle cx="177.9" cy="181.4" r="1.5" fill="#6e6e6e" stroke="none" stroke-width="0.5" /><circle cx="188.4" cy="181.4" r="1.5" fill="#6e6e6e" stroke="none" stroke-width="0.5" /><circle cx="167.4" cy="193.6" r="1.5" fill="#6e6e6e" stroke="none" stroke-width="0.5" /><circle cx="162.2" cy="172.3" r="1.5" fill="#6e6e6e" stroke="none" stroke-width="0.5" /><circle cx="198.9" cy="181.4" r="1.5" fill="#6e6e6e" stroke="none" stroke-width="0.5" /><circle cx="177.9" cy="193.6" r="1.5" fill="#6e6e6e" stroke="none" stroke-width="0.5" /><circle cx="193.6" cy="172.3" r="1.5" fill="#6e6e6e" stroke="none" stroke-width="0.5" /><circle cx="167.4" cy="199.6" r="1.5" fill="#6e6e6e" stroke="none" stroke-width="0.5" /><circle cx="193.7" cy="184.5" r="1.5" fill="#6e6e6e" stroke="none" stroke-width="0.5" /><circle cx="188.4" cy="175.4" r="1.5" fill="#6e6e6e" stroke="none" stroke-width="0.5" /><circle cx="146.4" cy="163.2" r="1.5" fill="#6e6e6e" stroke="none" stroke-width="0.5" /><circle cx="214.7" cy="202.7" r="1.5" fill="#6e6e6e" stroke="none" stroke-width="0.5" /><path d="M220.5 175.4L225.8 172.3M236.2 166.3L236.2 172.3M246.7 184.5L246.7 190.5M241.5 193.6L241.5 199.6M231.0 181.4L236.2 184.5M225.8 184.5L225.8 190.5M257.2 190.5L262.5 193.6M225.8 166.3L225.8 172.3M236.2 172.3L241.5 175.4M231.0 193.6L236.2 190.5M246.8 184.5L252.0 181.4M246.7 166.3L246.7 172.3M225.8 184.5L231.0 181.4M257.2 172.3L262.5 175.4M241.5 199.6L246.8 202.7M241.5 193.6L246.7 190.5M246.8 190.5L252.0 193.6M225.8 166.3L231.0 163.2M220.5 163.2L225.7 166.3M246.8 184.5L246.8 190.5M252.0 193.6L257.2 190.5M231.0 175.4L236.2 172.3M231.0 193.6L236.2 190.5M246.8 190.5L252.0 193.6M231.0 175.4L231.0 181.4M236.2 202.7L241.5 199.6M231.0 175.4L236.2 172.3M262.5 193.6L267.8 190.5M220.5 181.4L225.8 184.5M267.8 190.5L273.0 193.6M220.5 175.4L220.5 181.4M257.2 166.3L257.2 172.3M252.0 181.4L257.2 184.5M252.0 193.6L257.2 190.5M241.5 181.4L246.7 184.5M273.0 193.6L273.0 199.6M252.0 199.6L257.2 202.7M231.0 175.4L231.0 181.4M252.0 175.4L257.2 172.3M231.0 163.2L236.2 166.3M262.5 193.6L262.5 199.6M246.8 184.5L252.0 181.4M241.5 193.6L241.5 199.6M215.3 166.3L215.3 172.3M241.5 163.2L246.7 166.3M241.5 175.4L246.8 172.3M215.3 172.3L220.5 175.4M246.8 172.3L252.0 175.4M252.0 175.4L257.2 172.3M231.0 193.6L231.0 199.6M241.5 175.4L246.7 172.3M262.5 199.6L267.8 202.7M246.8 172.3L252.0 175.4M241.5 181.4L246.8 184.5M236.2 190.5L241.5 193.6M246.8 166.3L246.8 172.3M231.0 199.6L236.2 202.7M225.7 166.3L225.7 172.3M236.3 184.5L236.3 190.5M241.5 175.4L241.5 181.4M236.3 172.3L241.5 175.4M267.8 202.7L273.0 199.6M252.0 181.4L257.2 184.5M246.8 202.7L252.0 199.6M246.8 166.3L252.0 163.2M225.8 184.5L231.0 181.4M267.7 184.5L267.7 190.5M236.3 190.5L241.5 193.6M257.3 190.5L262.5 193.6M252.0 163.2L257.2 166.3M252.0 193.6L252.0 199.6M236.3 184.5L241.5 181.4M262.5 175.4L262.5 181.4M236.2 184.5L241.5 181.4M220.5 175.4L225.7 172.3M252.0 175.4L252.0 181.4M262.5 193.6L267.7 190.5M236.3 166.3L241.5 163.2M241.5 193.6L246.8 190.5M215.3 166.3L220.5 163.2M257.2 184.5L257.2 190.5M262.5 193.6L262.5 199.6M225.8 172.3L231.0 175.4M236.3 166.3L236.3 172.3M241.5 175.4L241.5 181.4M252.0 193.6L252.0 199.6M225.8 190.5L231.0 193.6M257.3 184.5L262.5 181.4M257.2 202.7L262.5 199.6M225.8 172.3L231.0 175.4M257.2 184.5L262.5 181.4M262.5 181.4L267.7 184.5M236.2 184.5L236.2 190.5M252.0 175.4L252.0 181.4M231.0 181.4L236.2 184.5M257.3 184.5L257.3 190.5M215.2 166.3L210.0 163.2M273.0 199.6L278.2 202.7" stroke="#8e8e8e" stroke-width="1.1" fill="none"/><circle cx="236.2" cy="184.5" r="1.5" fill="#6e6e6e" stroke="none" stroke-width="0.5" /><circle cx="262.5" cy="175.4" r="1.5" fill="#6e6e6e" stroke="none" stroke-width="0.5" /><circle cx="262.5" cy="199.6" r="1.5" fill="#6e6e6e" stroke="none" stroke-width="0.5" /><circle cx="225.8" cy="166.3" r="1.5" fill="#6e6e6e" stroke="none" stroke-width="0.5" /><circle cx="246.8" cy="184.5" r="1.5" fill="#6e6e6e" stroke="none" stroke-width="0.5" /><circle cx="252.0" cy="181.4" r="1.5" fill="#6e6e6e" stroke="none" stroke-width="0.5" /><circle cx="215.3" cy="172.3" r="1.5" fill="#6e6e6e" stroke="none" stroke-width="0.5" /><circle cx="236.2" cy="190.5" r="1.5" fill="#6e6e6e" stroke="none" stroke-width="0.5" /><circle cx="225.8" cy="172.3" r="1.5" fill="#6e6e6e" stroke="none" stroke-width="0.5" /><circle cx="231.0" cy="175.4" r="1.5" fill="#6e6e6e" stroke="none" stroke-width="0.5" /><circle cx="257.2" cy="184.5" r="1.5" fill="#6e6e6e" stroke="none" stroke-width="0.5" /><circle cx="262.5" cy="181.4" r="1.5" fill="#6e6e6e" stroke="none" stroke-width="0.5" /><circle cx="246.7" cy="166.3" r="1.5" fill="#6e6e6e" stroke="none" stroke-width="0.5" /><circle cx="241.5" cy="193.6" r="1.5" fill="#6e6e6e" stroke="none" stroke-width="0.5" /><circle cx="231.0" cy="175.4" r="1.5" fill="#6e6e6e" stroke="none" stroke-width="0.5" /><circle cx="252.0" cy="199.6" r="1.5" fill="#6e6e6e" stroke="none" stroke-width="0.5" /><circle cx="236.3" cy="166.3" r="1.5" fill="#6e6e6e" stroke="none" stroke-width="0.5" /><circle cx="246.7" cy="172.3" r="1.5" fill="#6e6e6e" stroke="none" stroke-width="0.5" /><circle cx="241.5" cy="175.4" r="1.5" fill="#6e6e6e" stroke="none" stroke-width="0.5" /><circle cx="231.0" cy="181.4" r="1.5" fill="#6e6e6e" stroke="none" stroke-width="0.5" /><circle cx="225.8" cy="184.5" r="1.5" fill="#6e6e6e" stroke="none" stroke-width="0.5" /><circle cx="241.5" cy="199.6" r="1.5" fill="#6e6e6e" stroke="none" stroke-width="0.5" /><circle cx="273.0" cy="193.6" r="1.5" fill="#6e6e6e" stroke="none" stroke-width="0.5" /><circle cx="252.0" cy="163.2" r="1.5" fill="#6e6e6e" stroke="none" stroke-width="0.5" /><circle cx="257.2" cy="166.3" r="1.5" fill="#6e6e6e" stroke="none" stroke-width="0.5" /><circle cx="257.3" cy="190.5" r="1.5" fill="#6e6e6e" stroke="none" stroke-width="0.5" /><circle cx="262.5" cy="199.6" r="1.5" fill="#6e6e6e" stroke="none" stroke-width="0.5" /><circle cx="241.5" cy="175.4" r="1.5" fill="#6e6e6e" stroke="none" stroke-width="0.5" /><circle cx="273.0" cy="199.6" r="1.5" fill="#6e6e6e" stroke="none" stroke-width="0.5" /><circle cx="257.2" cy="172.3" r="1.5" fill="#6e6e6e" stroke="none" stroke-width="0.5" /><circle cx="241.5" cy="181.4" r="1.5" fill="#6e6e6e" stroke="none" stroke-width="0.5" /><circle cx="225.7" cy="166.3" r="1.5" fill="#6e6e6e" stroke="none" stroke-width="0.5" /><circle cx="215.3" cy="166.3" r="1.5" fill="#6e6e6e" stroke="none" stroke-width="0.5" /><circle cx="225.7" cy="172.3" r="1.5" fill="#6e6e6e" stroke="none" stroke-width="0.5" /><circle cx="246.8" cy="184.5" r="1.5" fill="#6e6e6e" stroke="none" stroke-width="0.5" /><circle cx="267.8" cy="202.7" r="1.5" fill="#6e6e6e" stroke="none" stroke-width="0.5" /><circle cx="252.0" cy="175.4" r="1.5" fill="#6e6e6e" stroke="none" stroke-width="0.5" /><circle cx="231.0" cy="163.2" r="1.5" fill="#6e6e6e" stroke="none" stroke-width="0.5" /><circle cx="236.2" cy="166.3" r="1.5" fill="#6e6e6e" stroke="none" stroke-width="0.5" /><circle cx="236.3" cy="190.5" r="1.5" fill="#6e6e6e" stroke="none" stroke-width="0.5" /><circle cx="241.5" cy="199.6" r="1.5" fill="#6e6e6e" stroke="none" stroke-width="0.5" /><circle cx="246.8" cy="190.5" r="1.5" fill="#6e6e6e" stroke="none" stroke-width="0.5" /><circle cx="252.0" cy="181.4" r="1.5" fill="#6e6e6e" stroke="none" stroke-width="0.5" /><circle cx="252.0" cy="193.6" r="1.5" fill="#6e6e6e" stroke="none" stroke-width="0.5" /><circle cx="236.2" cy="172.3" r="1.5" fill="#6e6e6e" stroke="none" stroke-width="0.5" /><circle cx="252.0" cy="193.6" r="1.5" fill="#6e6e6e" stroke="none" stroke-width="0.5" /><circle cx="236.2" cy="202.7" r="1.5" fill="#6e6e6e" stroke="none" stroke-width="0.5" /><circle cx="246.8" cy="172.3" r="1.5" fill="#6e6e6e" stroke="none" stroke-width="0.5" /><circle cx="257.3" cy="184.5" r="1.5" fill="#6e6e6e" stroke="none" stroke-width="0.5" /><circle cx="262.5" cy="193.6" r="1.5" fill="#6e6e6e" stroke="none" stroke-width="0.5" /><circle cx="225.8" cy="184.5" r="1.5" fill="#6e6e6e" stroke="none" stroke-width="0.5" /><circle cx="246.8" cy="202.7" r="1.5" fill="#6e6e6e" stroke="none" stroke-width="0.5" /><circle cx="231.0" cy="175.4" r="1.5" fill="#6e6e6e" stroke="none" stroke-width="0.5" /><circle cx="262.5" cy="193.6" r="1.5" fill="#6e6e6e" stroke="none" stroke-width="0.5" /><circle cx="225.8" cy="190.5" r="1.5" fill="#6e6e6e" stroke="none" stroke-width="0.5" /><circle cx="231.0" cy="181.4" r="1.5" fill="#6e6e6e" stroke="none" stroke-width="0.5" /><circle cx="257.2" cy="172.3" r="1.5" fill="#6e6e6e" stroke="none" stroke-width="0.5" /><circle cx="257.2" cy="202.7" r="1.5" fill="#6e6e6e" stroke="none" stroke-width="0.5" /><circle cx="246.7" cy="184.5" r="1.5" fill="#6e6e6e" stroke="none" stroke-width="0.5" /><circle cx="231.0" cy="193.6" r="1.5" fill="#6e6e6e" stroke="none" stroke-width="0.5" /><circle cx="225.8" cy="172.3" r="1.5" fill="#6e6e6e" stroke="none" stroke-width="0.5" /><circle cx="236.3" cy="184.5" r="1.5" fill="#6e6e6e" stroke="none" stroke-width="0.5" /><circle cx="246.7" cy="190.5" r="1.5" fill="#6e6e6e" stroke="none" stroke-width="0.5" /><circle cx="241.5" cy="193.6" r="1.5" fill="#6e6e6e" stroke="none" stroke-width="0.5" /><circle cx="257.2" cy="184.5" r="1.5" fill="#6e6e6e" stroke="none" stroke-width="0.5" /><circle cx="220.5" cy="175.4" r="1.5" fill="#6e6e6e" stroke="none" stroke-width="0.5" /><circle cx="267.7" cy="184.5" r="1.5" fill="#6e6e6e" stroke="none" stroke-width="0.5" /><circle cx="257.2" cy="190.5" r="1.5" fill="#6e6e6e" stroke="none" stroke-width="0.5" /><circle cx="267.7" cy="190.5" r="1.5" fill="#6e6e6e" stroke="none" stroke-width="0.5" /><circle cx="241.5" cy="163.2" r="1.5" fill="#6e6e6e" stroke="none" stroke-width="0.5" /><circle cx="236.2" cy="172.3" r="1.5" fill="#6e6e6e" stroke="none" stroke-width="0.5" /><circle cx="267.8" cy="190.5" r="1.5" fill="#6e6e6e" stroke="none" stroke-width="0.5" /><circle cx="252.0" cy="193.6" r="1.5" fill="#6e6e6e" stroke="none" stroke-width="0.5" /><circle cx="236.2" cy="184.5" r="1.5" fill="#6e6e6e" stroke="none" stroke-width="0.5" /><circle cx="241.5" cy="175.4" r="1.5" fill="#6e6e6e" stroke="none" stroke-width="0.5" /><circle cx="252.0" cy="181.4" r="1.5" fill="#6e6e6e" stroke="none" stroke-width="0.5" /><circle cx="252.0" cy="199.6" r="1.5" fill="#6e6e6e" stroke="none" stroke-width="0.5" /><circle cx="236.2" cy="190.5" r="1.5" fill="#6e6e6e" stroke="none" stroke-width="0.5" /><circle cx="241.5" cy="181.4" r="1.5" fill="#6e6e6e" stroke="none" stroke-width="0.5" /><circle cx="220.5" cy="163.2" r="1.5" fill="#6e6e6e" stroke="none" stroke-width="0.5" /><circle cx="262.5" cy="181.4" r="1.5" fill="#6e6e6e" stroke="none" stroke-width="0.5" /><circle cx="246.8" cy="190.5" r="1.5" fill="#6e6e6e" stroke="none" stroke-width="0.5" /><circle cx="231.0" cy="193.6" r="1.5" fill="#6e6e6e" stroke="none" stroke-width="0.5" /><circle cx="220.5" cy="175.4" r="1.5" fill="#6e6e6e" stroke="none" stroke-width="0.5" /><circle cx="231.0" cy="181.4" r="1.5" fill="#6e6e6e" stroke="none" stroke-width="0.5" /><circle cx="241.5" cy="193.6" r="1.5" fill="#6e6e6e" stroke="none" stroke-width="0.5" /><circle cx="231.0" cy="199.6" r="1.5" fill="#6e6e6e" stroke="none" stroke-width="0.5" /><circle cx="257.2" cy="190.5" r="1.5" fill="#6e6e6e" stroke="none" stroke-width="0.5" /><circle cx="220.5" cy="181.4" r="1.5" fill="#6e6e6e" stroke="none" stroke-width="0.5" /><circle cx="246.8" cy="166.3" r="1.5" fill="#6e6e6e" stroke="none" stroke-width="0.5" /><circle cx="236.3" cy="172.3" r="1.5" fill="#6e6e6e" stroke="none" stroke-width="0.5" /><circle cx="241.5" cy="181.4" r="1.5" fill="#6e6e6e" stroke="none" stroke-width="0.5" /><circle cx="246.8" cy="172.3" r="1.5" fill="#6e6e6e" stroke="none" stroke-width="0.5" /><circle cx="252.0" cy="175.4" r="1.5" fill="#6e6e6e" stroke="none" stroke-width="0.5" /><circle cx="262.5" cy="193.6" r="1.5" fill="#6e6e6e" stroke="none" stroke-width="0.5" /><circle cx="252.0" cy="175.4" r="1.5" fill="#6e6e6e" stroke="none" stroke-width="0.5" /><circle cx="210.0" cy="163.2" r="1.5" fill="#6e6e6e" stroke="none" stroke-width="0.5" /><circle cx="278.2" cy="202.7" r="1.5" fill="#6e6e6e" stroke="none" stroke-width="0.5" /><path d="M279.9 166.3L285.1 163.2M316.6 193.6L316.6 199.6M295.6 193.6L300.8 190.5M316.6 199.6L321.9 202.7M311.4 190.5L316.6 193.6M316.6 175.4L321.8 172.3M337.6 193.6L337.6 199.6M311.4 172.3L316.6 175.4M311.4 166.3L316.6 163.2M332.3 184.5L332.3 190.5M316.6 175.4L321.9 172.3M290.4 166.3L295.6 163.2M295.6 199.6L300.9 202.7M327.1 181.4L332.3 184.5M306.1 193.6L306.1 199.6M311.3 184.5L311.3 190.5M321.9 202.7L327.1 199.6M311.4 184.5L316.6 181.4M311.3 166.3L311.3 172.3M290.4 172.3L295.6 175.4M316.6 175.4L316.6 181.4M327.1 193.6L332.4 190.5M321.9 184.5L321.9 190.5M285.1 181.4L290.4 184.5M321.8 184.5L321.8 190.5M290.3 166.3L290.3 172.3M316.6 175.4L316.6 181.4M295.6 193.6L300.9 190.5M311.4 184.5L311.4 190.5M321.9 184.5L327.1 181.4M321.9 190.5L327.1 193.6M300.9 166.3L300.9 172.3M295.6 193.6L295.6 199.6M295.6 175.4L300.9 172.3M332.4 202.7L337.6 199.6M311.4 202.7L316.6 199.6M290.4 184.5L290.4 190.5M285.1 175.4L290.4 172.3M316.6 193.6L321.8 190.5M332.4 190.5L337.6 193.6M311.4 166.3L311.4 172.3M311.4 184.5L316.6 181.4M290.4 166.3L290.4 172.3M321.9 184.5L327.1 181.4M295.6 175.4L300.8 172.3M306.1 193.6L311.3 190.5M300.9 190.5L306.1 193.6M285.1 175.4L285.1 181.4M311.4 190.5L316.6 193.6M316.6 193.6L316.6 199.6M306.1 199.6L311.4 202.7M306.1 193.6L306.1 199.6M285.1 175.4L290.3 172.3M311.4 172.3L316.6 175.4M316.6 193.6L321.9 190.5M321.8 166.3L321.8 172.3M316.6 181.4L321.8 184.5M295.6 163.2L300.8 166.3M327.1 175.4L327.1 181.4M300.9 166.3L306.1 163.2M290.4 190.5L295.6 193.6M285.1 163.2L290.3 166.3M290.4 172.3L295.6 175.4M300.8 166.3L300.8 172.3M316.6 163.2L321.8 166.3M300.9 202.7L306.1 199.6M321.9 190.5L327.1 193.6M327.1 193.6L327.1 199.6M327.1 193.6L327.1 199.6M279.9 172.3L285.1 175.4M316.6 181.4L321.9 184.5M327.1 193.6L332.3 190.5M300.9 190.5L306.1 193.6M306.1 163.2L311.3 166.3M321.9 172.3L327.1 175.4M306.1 193.6L311.4 190.5M279.9 166.3L279.9 172.3M327.1 199.6L332.4 202.7M279.9 166.3L274.6 163.2M337.6 199.6L342.9 202.7" stroke="#8e8e8e" stroke-width="1.1" fill="none"/><circle cx="321.8" cy="184.5" r="1.5" fill="#6e6e6e" stroke="none" stroke-width="0.5" /><circle cx="327.1" cy="175.4" r="1.5" fill="#6e6e6e" stroke="none" stroke-width="0.5" /><circle cx="300.9" cy="202.7" r="1.5" fill="#6e6e6e" stroke="none" stroke-width="0.5" /><circle cx="321.9" cy="184.5" r="1.5" fill="#6e6e6e" stroke="none" stroke-width="0.5" /><circle cx="306.1" cy="163.2" r="1.5" fill="#6e6e6e" stroke="none" stroke-width="0.5" /><circle cx="321.8" cy="190.5" r="1.5" fill="#6e6e6e" stroke="none" stroke-width="0.5" /><circle cx="295.6" cy="175.4" r="1.5" fill="#6e6e6e" stroke="none" stroke-width="0.5" /><circle cx="285.1" cy="181.4" r="1.5" fill="#6e6e6e" stroke="none" stroke-width="0.5" /><circle cx="311.4" cy="172.3" r="1.5" fill="#6e6e6e" stroke="none" stroke-width="0.5" /><circle cx="327.1" cy="193.6" r="1.5" fill="#6e6e6e" stroke="none" stroke-width="0.5" /><circle cx="311.4" cy="172.3" r="1.5" fill="#6e6e6e" stroke="none" stroke-width="0.5" /><circle cx="316.6" cy="163.2" r="1.5" fill="#6e6e6e" stroke="none" stroke-width="0.5" /><circle cx="316.6" cy="175.4" r="1.5" fill="#6e6e6e" stroke="none" stroke-width="0.5" /><circle cx="321.9" cy="172.3" r="1.5" fill="#6e6e6e" stroke="none" stroke-width="0.5" /><circle cx="337.6" cy="193.6" r="1.5" fill="#6e6e6e" stroke="none" stroke-width="0.5" /><circle cx="327.1" cy="193.6" r="1.5" fill="#6e6e6e" stroke="none" stroke-width="0.5" /><circle cx="300.8" cy="190.5" r="1.5" fill="#6e6e6e" stroke="none" stroke-width="0.5" /><circle cx="327.1" cy="199.6" r="1.5" fill="#6e6e6e" stroke="none" stroke-width="0.5" /><circle cx="337.6" cy="199.6" r="1.5" fill="#6e6e6e" stroke="none" stroke-width="0.5" /><circle cx="316.6" cy="175.4" r="1.5" fill="#6e6e6e" stroke="none" stroke-width="0.5" /><circle cx="327.1" cy="199.6" r="1.5" fill="#6e6e6e" stroke="none" stroke-width="0.5" /><circle cx="316.6" cy="181.4" r="1.5" fill="#6e6e6e" stroke="none" stroke-width="0.5" /><circle cx="290.4" cy="172.3" r="1.5" fill="#6e6e6e" stroke="none" stroke-width="0.5" /><circle cx="306.1" cy="193.6" r="1.5" fill="#6e6e6e" stroke="none" stroke-width="0.5" /><circle cx="295.6" cy="163.2" r="1.5" fill="#6e6e6e" stroke="none" stroke-width="0.5" /><circle cx="295.6" cy="175.4" r="1.5" fill="#6e6e6e" stroke="none" stroke-width="0.5" /><circle cx="300.9" cy="172.3" r="1.5" fill="#6e6e6e" stroke="none" stroke-width="0.5" /><circle cx="285.1" cy="175.4" r="1.5" fill="#6e6e6e" stroke="none" stroke-width="0.5" /><circle cx="306.1" cy="199.6" r="1.5" fill="#6e6e6e" stroke="none" stroke-width="0.5" /><circle cx="311.3" cy="166.3" r="1.5" fill="#6e6e6e" stroke="none" stroke-width="0.5" /><circle cx="316.6" cy="199.6" r="1.5" fill="#6e6e6e" stroke="none" stroke-width="0.5" /><circle cx="295.6" cy="175.4" r="1.5" fill="#6e6e6e" stroke="none" stroke-width="0.5" /><circle cx="316.6" cy="193.6" r="1.5" fill="#6e6e6e" stroke="none" stroke-width="0.5" /><circle cx="306.1" cy="199.6" r="1.5" fill="#6e6e6e" stroke="none" stroke-width="0.5" /><circle cx="290.4" cy="184.5" r="1.5" fill="#6e6e6e" stroke="none" stroke-width="0.5" /><circle cx="332.4" cy="190.5" r="1.5" fill="#6e6e6e" stroke="none" stroke-width="0.5" /><circle cx="311.4" cy="166.3" r="1.5" fill="#6e6e6e" stroke="none" stroke-width="0.5" /><circle cx="311.3" cy="172.3" r="1.5" fill="#6e6e6e" stroke="none" stroke-width="0.5" /><circle cx="327.1" cy="193.6" r="1.5" fill="#6e6e6e" stroke="none" stroke-width="0.5" /><circle cx="311.4" cy="184.5" r="1.5" fill="#6e6e6e" stroke="none" stroke-width="0.5" /><circle cx="290.3" cy="166.3" r="1.5" fill="#6e6e6e" stroke="none" stroke-width="0.5" /><circle cx="295.6" cy="193.6" r="1.5" fill="#6e6e6e" stroke="none" stroke-width="0.5" /><circle cx="311.4" cy="190.5" r="1.5" fill="#6e6e6e" stroke="none" stroke-width="0.5" /><circle cx="290.4" cy="166.3" r="1.5" fill="#6e6e6e" stroke="none" stroke-width="0.5" /><circle cx="290.3" cy="172.3" r="1.5" fill="#6e6e6e" stroke="none" stroke-width="0.5" /><circle cx="327.1" cy="181.4" r="1.5" fill="#6e6e6e" stroke="none" stroke-width="0.5" /><circle cx="321.9" cy="184.5" r="1.5" fill="#6e6e6e" stroke="none" stroke-width="0.5" /><circle cx="311.4" cy="190.5" r="1.5" fill="#6e6e6e" stroke="none" stroke-width="0.5" /><circle cx="306.1" cy="193.6" r="1.5" fill="#6e6e6e" stroke="none" stroke-width="0.5" /><circle cx="300.9" cy="172.3" r="1.5" fill="#6e6e6e" stroke="none" stroke-width="0.5" /><circle cx="316.6" cy="193.6" r="1.5" fill="#6e6e6e" stroke="none" stroke-width="0.5" /><circle cx="321.9" cy="190.5" r="1.5" fill="#6e6e6e" stroke="none" stroke-width="0.5" /><circle cx="306.1" cy="193.6" r="1.5" fill="#6e6e6e" stroke="none" stroke-width="0.5" /><circle cx="332.3" cy="184.5" r="1.5" fill="#6e6e6e" stroke="none" stroke-width="0.5" /><circle cx="316.6" cy="193.6" r="1.5" fill="#6e6e6e" stroke="none" stroke-width="0.5" /><circle cx="321.8" cy="166.3" r="1.5" fill="#6e6e6e" stroke="none" stroke-width="0.5" /><circle cx="332.3" cy="190.5" r="1.5" fill="#6e6e6e" stroke="none" stroke-width="0.5" /><circle cx="316.6" cy="199.6" r="1.5" fill="#6e6e6e" stroke="none" stroke-width="0.5" /><circle cx="290.4" cy="190.5" r="1.5" fill="#6e6e6e" stroke="none" stroke-width="0.5" /><circle cx="321.8" cy="172.3" r="1.5" fill="#6e6e6e" stroke="none" stroke-width="0.5" /><circle cx="279.9" cy="172.3" r="1.5" fill="#6e6e6e" stroke="none" stroke-width="0.5" /><circle cx="300.9" cy="190.5" r="1.5" fill="#6e6e6e" stroke="none" stroke-width="0.5" /><circle cx="332.4" cy="202.7" r="1.5" fill="#6e6e6e" stroke="none" stroke-width="0.5" /><circle cx="311.3" cy="184.5" r="1.5" fill="#6e6e6e" stroke="none" stroke-width="0.5" /><circle cx="316.6" cy="181.4" r="1.5" fill="#6e6e6e" stroke="none" stroke-width="0.5" /><circle cx="295.6" cy="193.6" r="1.5" fill="#6e6e6e" stroke="none" stroke-width="0.5" /><circle cx="311.4" cy="184.5" r="1.5" fill="#6e6e6e" stroke="none" stroke-width="0.5" /><circle cx="300.8" cy="166.3" r="1.5" fill="#6e6e6e" stroke="none" stroke-width="0.5" /><circle cx="311.3" cy="190.5" r="1.5" fill="#6e6e6e" stroke="none" stroke-width="0.5" /><circle cx="295.6" cy="199.6" r="1.5" fill="#6e6e6e" stroke="none" stroke-width="0.5" /><circle cx="285.1" cy="175.4" r="1.5" fill="#6e6e6e" stroke="none" stroke-width="0.5" /><circle cx="300.9" cy="166.3" r="1.5" fill="#6e6e6e" stroke="none" stroke-width="0.5" /><circle cx="300.8" cy="172.3" r="1.5" fill="#6e6e6e" stroke="none" stroke-width="0.5" /><circle cx="327.1" cy="181.4" r="1.5" fill="#6e6e6e" stroke="none" stroke-width="0.5" /><circle cx="321.9" cy="190.5" r="1.5" fill="#6e6e6e" stroke="none" stroke-width="0.5" /><circle cx="311.4" cy="202.7" r="1.5" fill="#6e6e6e" stroke="none" stroke-width="0.5" /><circle cx="290.4" cy="184.5" r="1.5" fill="#6e6e6e" stroke="none" stroke-width="0.5" /><circle cx="279.9" cy="166.3" r="1.5" fill="#6e6e6e" stroke="none" stroke-width="0.5" /><circle cx="321.9" cy="202.7" r="1.5" fill="#6e6e6e" stroke="none" stroke-width="0.5" /><circle cx="316.6" cy="181.4" r="1.5" fill="#6e6e6e" stroke="none" stroke-width="0.5" /><circle cx="316.6" cy="175.4" r="1.5" fill="#6e6e6e" stroke="none" stroke-width="0.5" /><circle cx="300.9" cy="190.5" r="1.5" fill="#6e6e6e" stroke="none" stroke-width="0.5" /><circle cx="285.1" cy="163.2" r="1.5" fill="#6e6e6e" stroke="none" stroke-width="0.5" /><circle cx="290.4" cy="172.3" r="1.5" fill="#6e6e6e" stroke="none" stroke-width="0.5" /><circle cx="274.6" cy="163.2" r="1.5" fill="#6e6e6e" stroke="none" stroke-width="0.5" /><circle cx="342.9" cy="202.7" r="1.5" fill="#6e6e6e" stroke="none" stroke-width="0.5" /><line x1="177.6" y1="175.4" x2="177.6" y2="181.4" stroke="#fff" stroke-width="3.2" /><line x1="177.6" y1="178.4" x2="172.3" y2="172.3" stroke="#2ab0b0" stroke-width="1.3" /><line x1="177.6" y1="178.4" x2="182.8" y2="172.3" stroke="#2ab0b0" stroke-width="1.3" /><line x1="177.6" y1="178.4" x2="172.3" y2="184.5" stroke="#2ab0b0" stroke-width="1.3" /><line x1="177.6" y1="178.4" x2="182.8" y2="184.5" stroke="#2ab0b0" stroke-width="1.3" /><circle cx="172.3" cy="172.3" r="1.8" fill="#2448c0" stroke="none" stroke-width="0.5" /><circle cx="182.8" cy="172.3" r="1.8" fill="#2448c0" stroke="none" stroke-width="0.5" /><circle cx="172.3" cy="184.5" r="1.8" fill="#2448c0" stroke="none" stroke-width="0.5" /><circle cx="182.8" cy="184.5" r="1.8" fill="#2448c0" stroke="none" stroke-width="0.5" /><circle cx="177.6" cy="178.4" r="1.9" fill="#30c4c0" stroke="none" stroke-width="0.5" /><line x1="241.5" y1="181.4" x2="241.5" y2="172.3" stroke="#2ab0b0" stroke-width="1.3" /><circle cx="241.5" cy="172.3" r="1.8" fill="#2448c0" stroke="none" stroke-width="0.5" /><line x1="241.5" y1="181.4" x2="236.2" y2="184.5" stroke="#2ab0b0" stroke-width="1.3" /><circle cx="236.2" cy="184.5" r="1.8" fill="#2448c0" stroke="none" stroke-width="0.5" /><line x1="241.5" y1="181.4" x2="246.8" y2="184.5" stroke="#2ab0b0" stroke-width="1.3" /><circle cx="246.8" cy="184.5" r="1.8" fill="#2448c0" stroke="none" stroke-width="0.5" /><circle cx="241.5" cy="181.4" r="1.9" fill="#30c4c0" stroke="none" stroke-width="0.5" /><line x1="306.1" y1="178.4" x2="300.9" y2="172.3" stroke="#2ab0b0" stroke-width="1.3" /><circle cx="300.9" cy="172.3" r="1.8" fill="#2448c0" stroke="none" stroke-width="0.5" /><line x1="306.1" y1="178.4" x2="311.4" y2="172.3" stroke="#2ab0b0" stroke-width="1.3" /><circle cx="311.4" cy="172.3" r="1.8" fill="#2448c0" stroke="none" stroke-width="0.5" /><line x1="306.1" y1="178.4" x2="311.4" y2="184.5" stroke="#2ab0b0" stroke-width="1.3" /><circle cx="311.4" cy="184.5" r="1.8" fill="#2448c0" stroke="none" stroke-width="0.5" /><circle cx="306.1" cy="178.4" r="1.9" fill="#30c4c0" stroke="none" stroke-width="0.5" /><text x="182.6" y="213.6" font-size="5.2" text-anchor="start" font-weight="bold" fill="#222" stroke="#222" font-family='"Liberation Serif",serif'  textLength="13.4" lengthAdjust="spacingAndGlyphs"><tspan>Ni-N</tspan><tspan dy="1.30" font-size="3.38">4</tspan></text><text x="246.2" y="213.6" font-size="5.2" text-anchor="start" font-weight="bold" fill="#222" stroke="#222" font-family='"Liberation Serif",serif'  textLength="12.8" lengthAdjust="spacingAndGlyphs"><tspan>Ni-N</tspan><tspan dy="1.30" font-size="3.38">3</tspan></text><text x="315.0" y="213.6" font-size="5.2" text-anchor="start" font-weight="bold" fill="#222" stroke="#222" font-family='"Liberation Serif",serif'  textLength="17.0" lengthAdjust="spacingAndGlyphs"><tspan>Ni-N</tspan><tspan dy="1.30" font-size="3.38">2</tspan><tspan dy="-1.30">-V</tspan></text><text x="337.0" y="172.4" font-size="20.5" text-anchor="start" font-weight="bold" fill="#111" stroke="#111" font-family='"Liberation Serif",serif' >h</text><defs><clipPath id="ch1"><rect x="352.2" y="164.5" width="55.30000000000001" height="43.0"/></clipPath></defs><g clip-path="url(#ch1)"><path d="M401.7 165.4L407.0 168.4M385.4 186.4L385.4 192.6M407.4 186.4L407.4 192.6M363.4 168.4L368.7 165.4M352.4 186.4L357.7 183.4M390.7 183.4L396.0 186.4M363.4 204.4L368.7 201.4M401.5 177.4L401.5 183.6M352.4 186.4L352.4 192.6M346.9 183.6L352.2 186.6M390.9 177.4L390.9 183.6M412.9 177.4L412.9 183.6M374.0 186.4L374.0 192.6M379.7 201.4L385.0 204.4M385.4 204.4L390.7 201.4M401.7 213.6L407.0 210.6M390.7 195.6L396.0 192.6M363.0 168.4L363.0 174.6M412.7 195.6L418.0 192.6M385.4 204.4L385.4 210.6M407.0 204.4L407.0 210.6M396.4 168.4L396.4 174.6M423.5 177.4L423.5 183.6M357.9 195.4L357.9 201.6M352.4 204.4L357.7 201.4M368.9 183.6L374.2 186.6M357.9 177.4L363.2 174.4M390.9 183.6L396.2 186.6M407.4 204.4L412.7 201.4M412.7 177.6L418.0 174.6M363.4 186.4L368.7 183.4M379.9 177.4L379.9 183.6M357.5 177.4L357.5 183.6M357.5 195.4L357.5 201.6M407.2 186.6L412.5 183.6M357.9 183.6L363.2 186.6M407.0 186.4L407.0 192.6M379.7 177.6L385.0 174.6M390.9 177.4L396.2 174.4M412.9 177.4L418.2 174.4M363.4 192.6L368.7 195.6M412.9 195.4L418.2 192.4M385.0 204.4L385.0 210.6M396.2 186.6L401.5 183.6M368.7 165.4L374.0 168.4M385.2 192.4L390.5 195.4M357.9 195.4L363.2 192.4M363.4 186.4L363.4 192.6M385.0 186.4L385.0 192.6M423.7 213.6L429.0 210.6M401.7 183.4L407.0 186.4M368.7 183.4L374.0 186.4M390.7 201.4L396.0 204.4M407.4 192.6L412.7 195.6M390.7 165.4L396.0 168.4M418.4 168.4L423.7 165.4M357.9 177.4L357.9 183.6M385.4 174.6L390.7 177.6M423.7 195.6L429.0 192.6M418.4 186.4L418.4 192.6M407.4 210.6L412.7 213.6M396.4 204.4L401.7 201.4M357.7 201.4L363.0 204.4M346.9 177.4L352.2 174.4M390.9 195.4L390.9 201.6M401.9 183.6L407.2 186.6M412.7 201.4L418.0 204.4M407.4 174.6L412.7 177.6M407.2 192.4L412.5 195.4M374.2 204.6L379.5 201.6M418.4 174.6L423.7 177.6M412.9 195.4L412.9 201.6M396.0 168.4L396.0 174.6M390.7 177.6L396.0 174.6M374.4 210.6L379.7 213.6M396.0 204.4L396.0 210.6M418.0 204.4L418.0 210.6M396.4 186.4L401.7 183.4M379.9 195.4L385.2 192.4M357.7 177.6L363.0 174.6M352.4 204.4L352.4 210.6M390.5 177.4L390.5 183.6M401.7 195.6L407.0 192.6M390.9 195.4L396.2 192.4M368.7 177.6L374.0 174.6M363.0 204.4L363.0 210.6M352.4 168.4L352.4 174.6M374.4 168.4L374.4 174.6M396.4 192.6L401.7 195.6M379.7 213.6L385.0 210.6M396.2 192.4L401.5 195.4M352.2 186.6L357.5 183.6M368.9 177.4L368.9 183.6M423.7 165.4L429.0 168.4M374.2 186.6L379.5 183.6M418.4 204.4L418.4 210.6M379.9 201.6L385.2 204.6M418.2 186.6L423.5 183.6M385.2 186.6L390.5 183.6M396.4 174.6L401.7 177.6M374.2 174.4L379.5 177.4M385.4 192.6L390.7 195.6M396.4 186.4L396.4 192.6M363.2 192.4L368.5 195.4M363.4 210.6L368.7 213.6M412.7 213.6L418.0 210.6M407.0 168.4L407.0 174.6M401.9 201.6L407.2 204.6M368.9 201.6L374.2 204.6M385.4 210.6L390.7 213.6M407.4 168.4L412.7 165.4M412.5 195.4L412.5 201.6M374.4 186.4L379.7 183.4M412.7 183.4L418.0 186.4M374.0 168.4L374.0 174.6M401.5 195.4L401.5 201.6M396.4 204.4L396.4 210.6M374.4 186.4L374.4 192.6M401.7 201.4L407.0 204.4M429.0 168.4L429.0 174.6M352.4 168.4L357.7 165.4M374.4 168.4L379.7 165.4M368.9 195.4L368.9 201.6M379.7 183.4L385.0 186.4M363.4 204.4L363.4 210.6M418.4 168.4L418.4 174.6M352.2 192.4L357.5 195.4M368.7 201.4L374.0 204.4M374.4 192.6L379.7 195.6M368.5 177.4L368.5 183.6M363.0 186.4L363.0 192.6M379.9 195.4L379.9 201.6M385.2 204.6L390.5 201.6M357.9 201.6L363.2 204.6M412.5 177.4L412.5 183.6M407.4 168.4L407.4 174.6M374.2 192.4L379.5 195.4M412.9 201.6L418.2 204.6M401.7 177.6L407.0 174.6M418.4 204.4L423.7 201.4M357.7 195.6L363.0 192.6M352.2 174.4L357.5 177.4M396.0 186.4L396.0 192.6M418.0 186.4L418.0 192.6M357.7 213.6L363.0 210.6M412.7 165.4L418.0 168.4M352.4 210.6L357.7 213.6M418.4 192.6L423.7 195.6M346.9 177.4L346.9 183.6M418.2 192.4L423.5 195.4M368.7 213.6L374.0 210.6M418.4 210.6L423.7 213.6M363.4 174.6L368.7 177.6M396.4 168.4L401.7 165.4M357.7 165.4L363.0 168.4M379.7 165.4L385.0 168.4M363.2 186.6L368.5 183.6M379.7 195.6L385.0 192.6M390.5 195.4L390.5 201.6M423.7 201.4L429.0 204.4M346.9 195.4L346.9 201.6M374.4 174.6L379.7 177.6M401.9 177.4L401.9 183.6M407.2 174.4L412.5 177.4M385.2 174.4L390.5 177.4M401.9 195.4L401.9 201.6M346.9 201.6L352.2 204.6M418.2 204.6L423.5 201.6M352.4 192.6L357.7 195.6M385.4 168.4L390.7 165.4M352.2 204.6L357.5 201.6M357.7 183.4L363.0 186.4M418.0 168.4L418.0 174.6M396.2 204.6L401.5 201.6M363.2 204.6L368.5 201.6M401.9 177.4L407.2 174.4M423.7 177.6L429.0 174.6M390.9 201.6L396.2 204.6M423.7 183.4L429.0 186.4M374.0 204.4L374.0 210.6M385.0 168.4L385.0 174.6M363.4 168.4L363.4 174.6M407.4 204.4L407.4 210.6M429.0 186.4L429.0 192.6M390.7 213.6L396.0 210.6M429.0 204.4L429.0 210.6M368.7 195.6L374.0 192.6M407.2 204.6L412.5 201.6M374.4 204.4L379.7 201.4M396.4 210.6L401.7 213.6M412.9 183.6L418.2 186.6M374.4 204.4L374.4 210.6M385.4 168.4L385.4 174.6M379.5 177.4L379.5 183.6M346.9 195.4L352.2 192.4M379.5 195.4L379.5 201.6M379.9 183.6L385.2 186.6M401.9 195.4L407.2 192.4M407.4 186.4L412.7 183.4M368.9 195.4L374.2 192.4M396.2 174.4L401.5 177.4M418.2 174.4L423.5 177.4M368.5 195.4L368.5 201.6M379.9 177.4L385.2 174.4M418.4 186.4L423.7 183.4M385.4 186.4L390.7 183.4M368.9 177.4L374.2 174.4M423.5 195.4L423.5 201.6M352.4 174.6L357.7 177.6M363.2 174.4L368.5 177.4" stroke="#9c9c9c" stroke-width="0.6" fill="none"/></g><defs><clipPath id="ch2"><rect x="420.0" y="164.5" width="56.0" height="42.0"/></clipPath></defs><g clip-path="url(#ch2)"><path d="M431.7 204.4L437.0 201.4M459.2 183.6L464.5 186.6M475.5 192.4L480.8 195.4M475.7 192.6L481.0 195.6M437.2 177.4L437.2 183.6M426.2 183.6L431.5 186.6M453.7 210.6L459.0 213.6M453.3 186.4L453.3 192.6M497.3 168.4L497.3 174.6M481.2 177.4L486.5 174.4M481.2 183.6L486.5 186.6M420.7 168.4L426.0 165.4M459.2 201.6L464.5 204.6M426.2 201.6L431.5 204.6M442.7 168.4L442.7 174.6M442.7 186.4L442.7 192.6M448.0 183.4L453.3 186.4M470.2 177.4L475.5 174.4M470.0 165.4L475.3 168.4M470.0 183.4L475.3 186.4M492.0 195.6L497.3 192.6M475.7 204.4L475.7 210.6M464.5 186.6L469.8 183.6M459.0 213.6L464.3 210.6M431.5 204.6L436.8 201.6M464.3 204.4L464.3 210.6M415.2 177.4L415.2 183.6M491.8 177.4L491.8 183.6M442.7 168.4L448.0 165.4M486.7 186.4L486.7 192.6M470.2 177.4L470.2 183.6M475.5 186.6L480.8 183.6M420.5 192.4L425.8 195.4M415.2 183.6L420.5 186.6M442.7 204.4L442.7 210.6M464.7 204.4L464.7 210.6M426.0 213.6L431.3 210.6M448.2 195.4L448.2 201.6M453.5 186.6L458.8 183.6M469.8 195.4L469.8 201.6M475.3 204.4L475.3 210.6M431.7 174.6L437.0 177.6M464.7 168.4L470.0 165.4M442.5 186.6L447.8 183.6M426.0 177.6L431.3 174.6M453.7 192.6L459.0 195.6M486.5 204.6L491.8 201.6M415.2 195.4L415.2 201.6M436.8 195.4L436.8 201.6M470.2 195.4L470.2 201.6M459.0 165.4L464.3 168.4M470.0 213.6L475.3 210.6M442.7 186.4L448.0 183.4M420.7 210.6L426.0 213.6M453.5 204.6L458.8 201.6M442.3 186.4L442.3 192.6M475.7 210.6L481.0 213.6M475.7 186.4L481.0 183.4M486.5 192.4L491.8 195.4M437.2 195.4L437.2 201.6M464.7 186.4L470.0 183.4M459.0 183.4L464.3 186.4M431.5 174.4L436.8 177.4M426.0 201.4L431.3 204.4M448.0 201.4L453.3 204.4M437.0 177.6L442.3 174.6M442.3 168.4L442.3 174.6M426.2 177.4L426.2 183.6M464.5 174.4L469.8 177.4M481.2 177.4L481.2 183.6M453.5 192.4L458.8 195.4M448.2 177.4L453.5 174.4M470.0 201.4L475.3 204.4M420.5 174.4L425.8 177.4M448.2 201.6L453.5 204.6M431.7 192.6L437.0 195.6M486.5 186.6L491.8 183.6M448.2 177.4L448.2 183.6M442.7 174.6L448.0 177.6M491.8 195.4L491.8 201.6M486.7 168.4L486.7 174.6M415.2 177.4L420.5 174.4M437.0 201.4L442.3 204.4M480.8 195.4L480.8 201.6M448.0 177.6L453.3 174.6M453.7 168.4L453.7 174.6M453.7 186.4L453.7 192.6M448.2 195.4L453.5 192.4M464.7 174.6L470.0 177.6M448.0 195.6L453.3 192.6M420.7 174.6L426.0 177.6M453.7 204.4L453.7 210.6M431.7 210.6L437.0 213.6M486.3 186.4L486.3 192.6M481.0 183.4L486.3 186.4M415.2 195.4L420.5 192.4M497.3 204.4L497.3 210.6M437.2 201.6L442.5 204.6M453.7 174.6L459.0 177.6M436.8 177.4L436.8 183.6M437.0 195.6L442.3 192.6M492.0 183.4L497.3 186.4M431.3 168.4L431.3 174.6M481.0 165.4L486.3 168.4M420.7 204.4L426.0 201.4M486.7 168.4L492.0 165.4M475.3 186.4L475.3 192.6M486.7 210.6L492.0 213.6M431.3 186.4L431.3 192.6M431.5 192.4L436.8 195.4M453.7 168.4L459.0 165.4M453.7 186.4L459.0 183.4M475.5 204.6L480.8 201.6M442.5 204.6L447.8 201.6M448.2 183.6L453.5 186.6M453.7 204.4L459.0 201.4M459.2 177.4L464.5 174.4M426.2 177.4L431.5 174.4M442.5 192.4L447.8 195.4M420.5 186.6L425.8 183.6M470.2 201.6L475.5 204.6M492.0 213.6L497.3 210.6M486.3 168.4L486.3 174.6M453.5 174.4L458.8 177.4M475.7 168.4L475.7 174.6M459.0 201.4L464.3 204.4M486.5 174.4L491.8 177.4M431.7 168.4L431.7 174.6M431.7 186.4L431.7 192.6M420.7 204.4L420.7 210.6M486.7 192.6L492.0 195.6M475.7 168.4L481.0 165.4M486.7 204.4L486.7 210.6M420.5 204.6L425.8 201.6M426.0 195.6L431.3 192.6M475.5 174.4L480.8 177.4M492.0 177.6L497.3 174.6M447.8 195.4L447.8 201.6M431.7 168.4L437.0 165.4M420.7 186.4L420.7 192.6M475.7 204.4L481.0 201.4M426.2 195.4L431.5 192.4M475.3 168.4L475.3 174.6M475.7 186.4L475.7 192.6M464.5 204.6L469.8 201.6M486.7 174.6L492.0 177.6M442.5 174.4L447.8 177.4M459.0 177.6L464.3 174.6M437.2 183.6L442.5 186.6M447.8 177.4L447.8 183.6M469.8 177.4L469.8 183.6M420.7 186.4L426.0 183.4M426.2 195.4L426.2 201.6M464.5 192.4L469.8 195.4M492.0 201.4L497.3 204.4M442.7 204.4L448.0 201.4M420.7 168.4L420.7 174.6M464.7 204.4L470.0 201.4M492.0 165.4L497.3 168.4M437.2 195.4L442.5 192.4M420.7 192.6L426.0 195.6M470.2 195.4L475.5 192.4M459.2 195.4L464.5 192.4M481.2 195.4L486.5 192.4M442.7 210.6L448.0 213.6M458.8 195.4L458.8 201.6M431.7 186.4L437.0 183.4M459.2 195.4L459.2 201.6M481.2 195.4L481.2 201.6M426.0 183.4L431.3 186.4M425.8 195.4L425.8 201.6M464.7 210.6L470.0 213.6M481.0 195.6L486.3 192.6M459.0 195.6L464.3 192.6M481.0 201.4L486.3 204.4M459.2 177.4L459.2 183.6M448.0 165.4L453.3 168.4M426.0 165.4L431.3 168.4M481.0 177.6L486.3 174.6M442.7 192.6L448.0 195.6M464.7 192.6L470.0 195.6M481.2 201.6L486.5 204.6M464.7 168.4L464.7 174.6M431.5 186.6L436.8 183.6M464.3 168.4L464.3 174.6M475.7 174.6L481.0 177.6M470.2 183.6L475.5 186.6M464.7 186.4L464.7 192.6M437.0 165.4L442.3 168.4M437.0 183.4L442.3 186.4M480.8 177.4L480.8 183.6M481.0 213.6L486.3 210.6M415.2 201.6L420.5 204.6M431.3 204.4L431.3 210.6M497.3 186.4L497.3 192.6M470.0 177.6L475.3 174.6M458.8 177.4L458.8 183.6M486.3 204.4L486.3 210.6M448.0 213.6L453.3 210.6M437.2 177.4L442.5 174.4M486.7 204.4L492.0 201.4M464.3 186.4L464.3 192.6M431.7 204.4L431.7 210.6M425.8 177.4L425.8 183.6M442.3 204.4L442.3 210.6M453.3 204.4L453.3 210.6M470.0 195.6L475.3 192.6M437.0 213.6L442.3 210.6M453.3 168.4L453.3 174.6M486.7 186.4L492.0 183.4" stroke="#9c9c9c" stroke-width="0.6" fill="none"/></g><defs><clipPath id="ch3"><rect x="488.8" y="164.5" width="53.80000000000001" height="42.0"/></clipPath></defs><g clip-path="url(#ch3)"><path d="M494.3 177.4L494.3 183.6M505.7 177.4L511.0 174.4M489.2 168.4L494.5 165.4M549.7 195.4L549.7 201.6M533.2 168.4L538.5 165.4M511.2 210.6L516.5 213.6M505.5 201.4L510.8 204.4M538.5 213.6L543.8 210.6M533.2 210.6L538.5 213.6M500.2 168.4L505.5 165.4M555.0 174.4L560.3 177.4M527.7 177.4L533.0 174.4M549.7 177.4L555.0 174.4M522.2 168.4L527.5 165.4M494.5 165.4L499.8 168.4M522.2 186.4L527.5 183.4M538.7 195.4L538.7 201.6M505.5 213.6L510.8 210.6M511.2 168.4L511.2 174.6M555.2 174.6L560.5 177.6M549.7 201.6L555.0 204.6M516.5 177.6L521.8 174.6M538.5 177.6L543.8 174.6M483.7 195.4L483.7 201.6M538.7 183.6L544.0 186.6M549.5 195.6L554.8 192.6M494.5 201.4L499.8 204.4M527.5 213.6L532.8 210.6M489.2 204.4L494.5 201.4M516.3 177.4L516.3 183.6M522.2 204.4L522.2 210.6M560.5 195.6L565.8 192.6M549.7 195.4L555.0 192.4M483.7 195.4L489.0 192.4M489.2 210.6L494.5 213.6M516.5 195.6L521.8 192.6M499.8 168.4L499.8 174.6M522.0 186.6L527.3 183.6M505.3 177.4L505.3 183.6M489.2 204.4L489.2 210.6M483.7 201.6L489.0 204.6M543.8 204.4L543.8 210.6M538.7 195.4L544.0 192.4M549.5 183.4L554.8 186.4M489.0 204.6L494.3 201.6M544.0 174.4L549.3 177.4M544.0 192.4L549.3 195.4M527.5 201.4L532.8 204.4M510.8 168.4L510.8 174.6M532.8 168.4L532.8 174.6M565.8 168.4L565.8 174.6M499.8 204.4L499.8 210.6M522.0 204.6L527.3 201.6M500.2 204.4L505.5 201.4M533.0 174.4L538.3 177.4M533.0 192.4L538.3 195.4M555.0 192.4L560.3 195.4M494.7 183.6L500.0 186.6M516.7 195.4L516.7 201.6M500.2 174.6L505.5 177.6M533.2 168.4L533.2 174.6M549.7 183.6L555.0 186.6M554.8 186.4L554.8 192.6M500.2 186.4L505.5 183.4M500.0 192.4L505.3 195.4M527.7 201.6L533.0 204.6M560.5 213.6L565.8 210.6M555.2 168.4L560.5 165.4M516.7 183.6L522.0 186.6M500.2 168.4L500.2 174.6M521.8 186.4L521.8 192.6M516.5 165.4L521.8 168.4M555.2 168.4L555.2 174.6M516.7 195.4L522.0 192.4M522.2 186.4L522.2 192.6M489.0 174.4L494.3 177.4M494.7 195.4L494.7 201.6M500.2 204.4L500.2 210.6M554.8 204.4L554.8 210.6M549.3 177.4L549.3 183.6M560.3 195.4L560.3 201.6M533.2 186.4L538.5 183.4M555.2 186.4L560.5 183.4M538.7 201.6L544.0 204.6M500.0 186.6L505.3 183.6M500.0 204.6L505.3 201.6M549.3 195.4L549.3 201.6M521.8 204.4L521.8 210.6M555.0 186.6L560.3 183.6M527.5 177.6L532.8 174.6M505.3 195.4L505.3 201.6M527.3 195.4L527.3 201.6M538.3 177.4L538.3 183.6M560.3 177.4L560.3 183.6M494.5 183.4L499.8 186.4M505.7 177.4L505.7 183.6M533.2 174.6L538.5 177.6M511.2 174.6L516.5 177.6M560.5 177.6L565.8 174.6M533.2 192.6L538.5 195.6M489.2 168.4L489.2 174.6M511.2 186.4L516.5 183.4M494.7 201.6L500.0 204.6M505.5 183.4L510.8 186.4M500.2 192.6L505.5 195.6M527.7 195.4L527.7 201.6M511.2 186.4L511.2 192.6M538.5 201.4L543.8 204.4M511.2 192.6L516.5 195.6M494.5 213.6L499.8 210.6M516.5 213.6L521.8 210.6M527.5 183.4L532.8 186.4M494.7 177.4L494.7 183.6M544.2 204.4L544.2 210.6M511.2 204.4L516.5 201.4M489.0 192.4L494.3 195.4M511.2 204.4L511.2 210.6M522.2 210.6L527.5 213.6M555.2 204.4L555.2 210.6M538.7 177.4L538.7 183.6M544.2 168.4L544.2 174.6M510.8 186.4L510.8 192.6M505.5 165.4L510.8 168.4M499.8 186.4L499.8 192.6M549.5 213.6L554.8 210.6M505.5 177.6L510.8 174.6M527.5 195.6L532.8 192.6M522.2 174.6L527.5 177.6M533.2 186.4L533.2 192.6M555.2 186.4L555.2 192.6M532.8 186.4L532.8 192.6M527.7 195.4L533.0 192.4M510.8 204.4L510.8 210.6M483.7 177.4L483.7 183.6M505.7 195.4L511.0 192.4M549.5 165.4L554.8 168.4M544.2 186.4L549.5 183.4M489.2 192.6L494.5 195.6M554.8 168.4L554.8 174.6M521.8 168.4L521.8 174.6M516.5 183.4L521.8 186.4M565.8 204.4L565.8 210.6M516.7 177.4L522.0 174.4M494.7 177.4L500.0 174.4M544.2 186.4L544.2 192.6M505.5 195.6L510.8 192.6M511.0 204.6L516.3 201.6M549.5 201.4L554.8 204.4M505.7 183.6L511.0 186.6M538.7 177.4L544.0 174.4M532.8 204.4L532.8 210.6M516.3 195.4L516.3 201.6M483.7 177.4L489.0 174.4M544.0 186.6L549.3 183.6M538.5 183.4L543.8 186.4M543.8 168.4L543.8 174.6M560.5 183.4L565.8 186.4M522.2 192.6L527.5 195.6M560.5 201.4L565.8 204.4M527.7 177.4L527.7 183.6M549.7 177.4L549.7 183.6M516.5 201.4L521.8 204.4M533.0 204.6L538.3 201.6M555.0 204.6L560.3 201.6M544.2 168.4L549.5 165.4M533.2 204.4L538.5 201.4M511.0 186.6L516.3 183.6M560.5 165.4L565.8 168.4M505.7 201.6L511.0 204.6M544.2 192.6L549.5 195.6M527.7 183.6L533.0 186.6M544.2 204.4L549.5 201.4M544.0 204.6L549.3 201.6M494.5 177.6L499.8 174.6M527.5 165.4L532.8 168.4M522.0 192.4L527.3 195.4M549.5 177.6L554.8 174.6M500.0 174.4L505.3 177.4M516.7 177.4L516.7 183.6M522.2 204.4L527.5 201.4M511.2 168.4L516.5 165.4M505.7 195.4L505.7 201.6M522.2 168.4L522.2 174.6M500.2 210.6L505.5 213.6M543.8 186.4L543.8 192.6M538.5 165.4L543.8 168.4M565.8 186.4L565.8 192.6M555.2 210.6L560.5 213.6M500.2 186.4L500.2 192.6M522.0 174.4L527.3 177.4M483.7 183.6L489.0 186.6M494.5 195.6L499.8 192.6M533.2 204.4L533.2 210.6M538.3 195.4L538.3 201.6M489.2 174.6L494.5 177.6M516.7 201.6L522.0 204.6M494.3 195.4L494.3 201.6M533.0 186.6L538.3 183.6M511.0 174.4L516.3 177.4M489.2 186.4L494.5 183.4M494.7 195.4L500.0 192.4M489.0 186.6L494.3 183.6M544.2 210.6L549.5 213.6M538.5 195.6L543.8 192.6M489.2 186.4L489.2 192.6M527.3 177.4L527.3 183.6M511.0 192.4L516.3 195.4M544.2 174.6L549.5 177.6M555.2 192.6L560.5 195.6M555.2 204.4L560.5 201.4" stroke="#9c9c9c" stroke-width="0.6" fill="none"/></g><polygon points="363.4,187.6 368.7,178.4 373.9,174.8 379.6,178.4 384.9,187.6 384.9,193.7 379.6,196.8 368.7,196.8 363.4,193.7" fill="#fff" stroke="none" stroke-width="1" /><line x1="373.9" y1="174.8" x2="368.7" y2="178.4" stroke="#9c9c9c" stroke-width="0.6" /><line x1="373.9" y1="174.8" x2="379.6" y2="178.4" stroke="#9c9c9c" stroke-width="0.6" /><line x1="368.7" y1="178.4" x2="368.7" y2="184.0" stroke="#9c9c9c" stroke-width="0.6" /><line x1="379.6" y1="178.4" x2="379.6" y2="184.0" stroke="#9c9c9c" stroke-width="0.6" /><line x1="363.4" y1="187.6" x2="363.4" y2="193.7" stroke="#9c9c9c" stroke-width="0.6" /><line x1="363.4" y1="187.6" x2="368.7" y2="184.0" stroke="#9c9c9c" stroke-width="0.6" /><line x1="384.9" y1="187.6" x2="384.9" y2="193.7" stroke="#9c9c9c" stroke-width="0.6" /><line x1="384.9" y1="187.6" x2="379.6" y2="184.0" stroke="#9c9c9c" stroke-width="0.6" /><line x1="363.4" y1="193.7" x2="368.7" y2="196.8" stroke="#9c9c9c" stroke-width="0.6" /><line x1="384.9" y1="193.7" x2="379.6" y2="196.8" stroke="#9c9c9c" stroke-width="0.6" /><line x1="368.7" y1="196.8" x2="373.9" y2="194.6" stroke="#9c9c9c" stroke-width="0.6" /><line x1="379.6" y1="196.8" x2="373.9" y2="194.6" stroke="#9c9c9c" stroke-width="0.6" /><line x1="373.9" y1="187.6" x2="368.7" y2="184.0" stroke="#b0cce8" stroke-width="0.6" /><line x1="373.9" y1="187.6" x2="379.6" y2="184.0" stroke="#b0cce8" stroke-width="0.6" /><line x1="373.9" y1="187.6" x2="373.9" y2="194.6" stroke="#b0cce8" stroke-width="0.6" /><circle cx="373.9" cy="174.8" r="1.3" fill="#767676" stroke="none" stroke-width="0.5" /><circle cx="368.7" cy="178.4" r="1.3" fill="#767676" stroke="none" stroke-width="0.5" /><circle cx="379.6" cy="178.4" r="1.3" fill="#767676" stroke="none" stroke-width="0.5" /><circle cx="363.4" cy="187.6" r="1.3" fill="#767676" stroke="none" stroke-width="0.5" /><circle cx="384.9" cy="187.6" r="1.3" fill="#767676" stroke="none" stroke-width="0.5" /><circle cx="363.4" cy="193.7" r="1.3" fill="#767676" stroke="none" stroke-width="0.5" /><circle cx="384.9" cy="193.7" r="1.3" fill="#767676" stroke="none" stroke-width="0.5" /><circle cx="368.7" cy="196.8" r="1.3" fill="#767676" stroke="none" stroke-width="0.5" /><circle cx="379.6" cy="196.8" r="1.3" fill="#767676" stroke="none" stroke-width="0.5" /><circle cx="368.7" cy="184.0" r="1.25" fill="#e8a048" stroke="none" stroke-width="0.5" /><circle cx="379.6" cy="184.0" r="1.25" fill="#e8a048" stroke="none" stroke-width="0.5" /><circle cx="373.9" cy="194.6" r="1.25" fill="#e8a048" stroke="none" stroke-width="0.5" /><circle cx="373.9" cy="187.6" r="2.2" fill="#6a34b0" stroke="#4a2490" stroke-width="0.4" /><polygon points="437.2,177.4 442.4,174.0 452.9,174.0 458.7,177.2 464.0,186.7 464.0,193.1 458.1,196.0 447.1,196.6 441.9,193.7 437.2,183.8" fill="#fff" stroke="none" stroke-width="1" /><line x1="442.4" y1="174.0" x2="437.2" y2="177.4" stroke="#9c9c9c" stroke-width="0.6" /><line x1="442.4" y1="174.0" x2="448.3" y2="177.4" stroke="#9c9c9c" stroke-width="0.6" /><line x1="452.9" y1="174.0" x2="458.7" y2="177.2" stroke="#9c9c9c" stroke-width="0.6" /><line x1="452.9" y1="174.0" x2="448.3" y2="177.4" stroke="#9c9c9c" stroke-width="0.6" /><line x1="437.2" y1="177.4" x2="437.2" y2="183.8" stroke="#9c9c9c" stroke-width="0.6" /><line x1="458.7" y1="177.2" x2="458.1" y2="183.3" stroke="#9c9c9c" stroke-width="0.6" /><line x1="437.2" y1="183.8" x2="442.4" y2="187.3" stroke="#9c9c9c" stroke-width="0.6" /><line x1="464.0" y1="186.7" x2="464.0" y2="193.1" stroke="#9c9c9c" stroke-width="0.6" /><line x1="464.0" y1="186.7" x2="458.1" y2="183.3" stroke="#9c9c9c" stroke-width="0.6" /><line x1="441.9" y1="193.7" x2="447.1" y2="196.6" stroke="#9c9c9c" stroke-width="0.6" /><line x1="441.9" y1="193.7" x2="442.4" y2="187.3" stroke="#9c9c9c" stroke-width="0.6" /><line x1="447.1" y1="196.6" x2="452.3" y2="193.7" stroke="#9c9c9c" stroke-width="0.6" /><line x1="458.1" y1="196.0" x2="464.0" y2="193.1" stroke="#9c9c9c" stroke-width="0.6" /><line x1="458.1" y1="196.0" x2="452.3" y2="193.7" stroke="#9c9c9c" stroke-width="0.6" /><line x1="450.6" y1="185.0" x2="448.3" y2="177.4" stroke="#b0cce8" stroke-width="0.6" /><line x1="450.6" y1="185.0" x2="458.1" y2="183.3" stroke="#b0cce8" stroke-width="0.6" /><line x1="450.6" y1="185.0" x2="442.4" y2="187.3" stroke="#b0cce8" stroke-width="0.6" /><line x1="450.6" y1="185.0" x2="452.3" y2="193.7" stroke="#b0cce8" stroke-width="0.6" /><circle cx="442.4" cy="174.0" r="1.3" fill="#767676" stroke="none" stroke-width="0.5" /><circle cx="452.9" cy="174.0" r="1.3" fill="#767676" stroke="none" stroke-width="0.5" /><circle cx="437.2" cy="177.4" r="1.3" fill="#767676" stroke="none" stroke-width="0.5" /><circle cx="458.7" cy="177.2" r="1.3" fill="#767676" stroke="none" stroke-width="0.5" /><circle cx="437.2" cy="183.8" r="1.3" fill="#767676" stroke="none" stroke-width="0.5" /><circle cx="464.0" cy="186.7" r="1.3" fill="#767676" stroke="none" stroke-width="0.5" /><circle cx="441.9" cy="193.7" r="1.3" fill="#767676" stroke="none" stroke-width="0.5" /><circle cx="447.1" cy="196.6" r="1.3" fill="#767676" stroke="none" stroke-width="0.5" /><circle cx="458.1" cy="196.0" r="1.3" fill="#767676" stroke="none" stroke-width="0.5" /><circle cx="464.0" cy="193.1" r="1.3" fill="#767676" stroke="none" stroke-width="0.5" /><circle cx="448.3" cy="177.4" r="1.25" fill="#e8a048" stroke="none" stroke-width="0.5" /><circle cx="458.1" cy="183.3" r="1.25" fill="#e8a048" stroke="none" stroke-width="0.5" /><circle cx="442.4" cy="187.3" r="1.25" fill="#e8a048" stroke="none" stroke-width="0.5" /><circle cx="452.3" cy="193.7" r="1.25" fill="#e8a048" stroke="none" stroke-width="0.5" /><circle cx="450.6" cy="185.0" r="2.2" fill="#6a34b0" stroke="#4a2490" stroke-width="0.4" /><polygon points="504.3,186.4 507.3,181.3 515.5,176.7 520.6,174.2 525.7,177.8 526.7,183.4 526.2,192.5 523.1,197.1 515.5,201.7 509.9,204.2 504.8,201.2" fill="#fff" stroke="none" stroke-width="1" /><line x1="515.5" y1="176.7" x2="520.6" y2="174.2" stroke="#9c9c9c" stroke-width="0.6" /><line x1="515.5" y1="176.7" x2="513.5" y2="181.8" stroke="#9c9c9c" stroke-width="0.6" /><line x1="520.6" y1="174.2" x2="525.7" y2="177.8" stroke="#9c9c9c" stroke-width="0.6" /><line x1="525.7" y1="177.8" x2="526.7" y2="183.4" stroke="#9c9c9c" stroke-width="0.6" /><line x1="526.7" y1="183.4" x2="522.6" y2="187.4" stroke="#9c9c9c" stroke-width="0.6" /><line x1="507.3" y1="181.3" x2="504.3" y2="186.4" stroke="#9c9c9c" stroke-width="0.6" /><line x1="507.3" y1="181.3" x2="513.5" y2="181.8" stroke="#9c9c9c" stroke-width="0.6" /><line x1="504.3" y1="186.4" x2="507.9" y2="191.5" stroke="#9c9c9c" stroke-width="0.6" /><line x1="526.2" y1="192.5" x2="523.1" y2="197.1" stroke="#9c9c9c" stroke-width="0.6" /><line x1="526.2" y1="192.5" x2="522.6" y2="187.4" stroke="#9c9c9c" stroke-width="0.6" /><line x1="504.8" y1="195.6" x2="504.8" y2="201.2" stroke="#9c9c9c" stroke-width="0.6" /><line x1="504.8" y1="195.6" x2="507.9" y2="191.5" stroke="#9c9c9c" stroke-width="0.6" /><line x1="523.1" y1="197.1" x2="517.5" y2="196.6" stroke="#9c9c9c" stroke-width="0.6" /><line x1="504.8" y1="201.2" x2="509.9" y2="204.2" stroke="#9c9c9c" stroke-width="0.6" /><line x1="515.5" y1="201.7" x2="509.9" y2="204.2" stroke="#9c9c9c" stroke-width="0.6" /><line x1="515.5" y1="201.7" x2="517.5" y2="196.6" stroke="#9c9c9c" stroke-width="0.6" /><line x1="515.3" y1="189.7" x2="513.5" y2="181.8" stroke="#b0cce8" stroke-width="0.6" /><line x1="515.3" y1="189.7" x2="522.6" y2="187.4" stroke="#b0cce8" stroke-width="0.6" /><line x1="515.3" y1="189.7" x2="507.9" y2="191.5" stroke="#b0cce8" stroke-width="0.6" /><line x1="515.3" y1="189.7" x2="517.5" y2="196.6" stroke="#b0cce8" stroke-width="0.6" /><circle cx="515.5" cy="176.7" r="1.3" fill="#767676" stroke="none" stroke-width="0.5" /><circle cx="520.6" cy="174.2" r="1.3" fill="#767676" stroke="none" stroke-width="0.5" /><circle cx="525.7" cy="177.8" r="1.3" fill="#767676" stroke="none" stroke-width="0.5" /><circle cx="526.7" cy="183.4" r="1.3" fill="#767676" stroke="none" stroke-width="0.5" /><circle cx="507.3" cy="181.3" r="1.3" fill="#767676" stroke="none" stroke-width="0.5" /><circle cx="504.3" cy="186.4" r="1.3" fill="#767676" stroke="none" stroke-width="0.5" /><circle cx="526.2" cy="192.5" r="1.3" fill="#767676" stroke="none" stroke-width="0.5" /><circle cx="504.8" cy="195.6" r="1.3" fill="#767676" stroke="none" stroke-width="0.5" /><circle cx="523.1" cy="197.1" r="1.3" fill="#767676" stroke="none" stroke-width="0.5" /><circle cx="504.8" cy="201.2" r="1.3" fill="#767676" stroke="none" stroke-width="0.5" /><circle cx="515.5" cy="201.7" r="1.3" fill="#767676" stroke="none" stroke-width="0.5" /><circle cx="509.9" cy="204.2" r="1.3" fill="#767676" stroke="none" stroke-width="0.5" /><circle cx="513.5" cy="181.8" r="1.25" fill="#e8a048" stroke="none" stroke-width="0.5" /><circle cx="522.6" cy="187.4" r="1.25" fill="#e8a048" stroke="none" stroke-width="0.5" /><circle cx="507.9" cy="191.5" r="1.25" fill="#e8a048" stroke="none" stroke-width="0.5" /><circle cx="517.5" cy="196.6" r="1.25" fill="#e8a048" stroke="none" stroke-width="0.5" /><circle cx="515.3" cy="189.7" r="2.2" fill="#6a34b0" stroke="#4a2490" stroke-width="0.4" /><text x="360.0" y="162.3" font-size="5.9" text-anchor="start" font-weight="bold" fill="#333" stroke="#333" font-family='"Liberation Sans",sans-serif'  textLength="41.5" lengthAdjust="spacingAndGlyphs">Pyridine, CN = 3</text><text x="433.0" y="162.3" font-size="5.9" text-anchor="start" font-weight="bold" fill="#333" stroke="#333" font-family='"Liberation Sans",sans-serif'  textLength="43.5" lengthAdjust="spacingAndGlyphs">Pyridine, CN = 4</text><text x="498.0" y="162.3" font-size="5.9" text-anchor="start" font-weight="bold" fill="#333" stroke="#333" font-family='"Liberation Sans",sans-serif'  textLength="38.3" lengthAdjust="spacingAndGlyphs">Pyrrole, CN = 4</text><circle cx="422.9" cy="213.8" r="2.2" fill="#6a34b0" stroke="#3a1a80" stroke-width="0.5" /><text x="428.0" y="215.8" font-size="5.2" text-anchor="start" font-weight="bold" fill="#333" stroke="#333" font-family='"Liberation Sans",sans-serif' >Ni</text><circle cx="437.7" cy="213.8" r="2.2" fill="#f0a030" stroke="#b07010" stroke-width="0.5" /><text x="444.0" y="215.8" font-size="5.2" text-anchor="start" font-weight="bold" fill="#333" stroke="#333" font-family='"Liberation Sans",sans-serif' >N</text><circle cx="453.7" cy="213.8" r="2.0" fill="#999" stroke="#444" stroke-width="0.7" /><text x="458.1" y="215.8" font-size="5.2" text-anchor="start" font-weight="bold" fill="#333" stroke="#333" font-family='"Liberation Sans",sans-serif' >C</text><circle cx="466.3" cy="213.8" r="2.0" fill="#fff" stroke="#aaa" stroke-width="0.6" /><text x="472.1" y="215.8" font-size="5.2" text-anchor="start" font-weight="bold" fill="#333" stroke="#333" font-family='"Liberation Sans",sans-serif'  textLength="16.0" lengthAdjust="spacingAndGlyphs">Vacancy</text><text x="6.9" y="234.0" font-size="17" text-anchor="start" font-weight="bold" fill="#111" stroke="#111" font-family='"Liberation Serif",serif'  textLength="9.0" lengthAdjust="spacingAndGlyphs">e</text><line x1="38.0" y1="223.6" x2="38.0" y2="312.6" stroke="#b4b4b4" stroke-width="0.7" stroke-dasharray="1.1,1.9"/><line x1="52.6" y1="223.6" x2="52.6" y2="312.6" stroke="#b4b4b4" stroke-width="0.7" stroke-dasharray="1.1,1.9"/><line x1="67.2" y1="223.6" x2="67.2" y2="312.6" stroke="#b4b4b4" stroke-width="0.7" stroke-dasharray="1.1,1.9"/><line x1="81.8" y1="223.6" x2="81.8" y2="312.6" stroke="#b4b4b4" stroke-width="0.7" stroke-dasharray="1.1,1.9"/><line x1="96.4" y1="223.6" x2="96.4" y2="312.6" stroke="#b4b4b4" stroke-width="0.7" stroke-dasharray="1.1,1.9"/><line x1="111.0" y1="223.6" x2="111.0" y2="312.6" stroke="#b4b4b4" stroke-width="0.7" stroke-dasharray="1.1,1.9"/><line x1="125.6" y1="223.6" x2="125.6" y2="312.6" stroke="#b4b4b4" stroke-width="0.7" stroke-dasharray="1.1,1.9"/><line x1="24.8" y1="297.9" x2="139.4" y2="297.9" stroke="#b4b4b4" stroke-width="0.7" stroke-dasharray="1.1,1.9"/><line x1="24.8" y1="287.0" x2="139.4" y2="287.0" stroke="#b4b4b4" stroke-width="0.7" stroke-dasharray="1.1,1.9"/><line x1="24.8" y1="276.1" x2="139.4" y2="276.1" stroke="#b4b4b4" stroke-width="0.7" stroke-dasharray="1.1,1.9"/><line x1="24.8" y1="265.2" x2="139.4" y2="265.2" stroke="#b4b4b4" stroke-width="0.7" stroke-dasharray="1.1,1.9"/><line x1="24.8" y1="254.3" x2="139.4" y2="254.3" stroke="#b4b4b4" stroke-width="0.7" stroke-dasharray="1.1,1.9"/><line x1="24.8" y1="243.4" x2="139.4" y2="243.4" stroke="#b4b4b4" stroke-width="0.7" stroke-dasharray="1.1,1.9"/><line x1="24.8" y1="232.5" x2="139.4" y2="232.5" stroke="#b4b4b4" stroke-width="0.7" stroke-dasharray="1.1,1.9"/><rect x="24.0" y="223.2" width="116.2" height="90.1" fill="none" stroke="#222" stroke-width="1.5" /><line x1="21.6" y1="308.8" x2="24.0" y2="308.8" stroke="#222" stroke-width="1.2" /><text x="21.9" y="311.6" font-size="7.8" text-anchor="end" font-weight="bold" fill="#333" stroke="#333" font-family='"Liberation Sans",sans-serif' >0</text><line x1="21.6" y1="287.0" x2="24.0" y2="287.0" stroke="#222" stroke-width="1.2" /><text x="21.9" y="289.8" font-size="7.8" text-anchor="end" font-weight="bold" fill="#333" stroke="#333" font-family='"Liberation Sans",sans-serif' >25</text><line x1="21.6" y1="265.2" x2="24.0" y2="265.2" stroke="#222" stroke-width="1.2" /><text x="21.9" y="268.0" font-size="7.8" text-anchor="end" font-weight="bold" fill="#333" stroke="#333" font-family='"Liberation Sans",sans-serif' >50</text><line x1="21.6" y1="243.4" x2="24.0" y2="243.4" stroke="#222" stroke-width="1.2" /><text x="21.9" y="246.2" font-size="7.8" text-anchor="end" font-weight="bold" fill="#333" stroke="#333" font-family='"Liberation Sans",sans-serif' >75</text><line x1="22.6" y1="297.9" x2="24.0" y2="297.9" stroke="#222" stroke-width="1.0" /><line x1="22.6" y1="276.1" x2="24.0" y2="276.1" stroke="#222" stroke-width="1.0" /><line x1="22.6" y1="254.3" x2="24.0" y2="254.3" stroke="#222" stroke-width="1.0" /><line x1="22.6" y1="232.5" x2="24.0" y2="232.5" stroke="#222" stroke-width="1.0" /><line x1="38.0" y1="313.3" x2="38.0" y2="315.8" stroke="#222" stroke-width="1.2" /><text x="38.0" y="321.9" font-size="7.6" text-anchor="middle" font-weight="bold" fill="#333" stroke="#333" font-family='"Liberation Sans",sans-serif' >-0.8</text><line x1="67.2" y1="313.3" x2="67.2" y2="315.8" stroke="#222" stroke-width="1.2" /><text x="67.2" y="321.9" font-size="7.6" text-anchor="middle" font-weight="bold" fill="#333" stroke="#333" font-family='"Liberation Sans",sans-serif' >-0.7</text><line x1="96.4" y1="313.3" x2="96.4" y2="315.8" stroke="#222" stroke-width="1.2" /><text x="96.4" y="321.9" font-size="7.6" text-anchor="middle" font-weight="bold" fill="#333" stroke="#333" font-family='"Liberation Sans",sans-serif' >-0.6</text><line x1="125.6" y1="313.3" x2="125.6" y2="315.8" stroke="#222" stroke-width="1.2" /><text x="125.6" y="321.9" font-size="7.6" text-anchor="middle" font-weight="bold" fill="#333" stroke="#333" font-family='"Liberation Sans",sans-serif' >-0.5</text><line x1="52.6" y1="313.3" x2="52.6" y2="315.0" stroke="#222" stroke-width="1.0" /><line x1="81.8" y1="313.3" x2="81.8" y2="315.0" stroke="#222" stroke-width="1.0" /><line x1="111.0" y1="313.3" x2="111.0" y2="315.0" stroke="#222" stroke-width="1.0" /><text x="0.0" y="0.0" font-size="7.9" text-anchor="middle" font-weight="bold" fill="#333" stroke="#333" font-family='"Liberation Sans",sans-serif' transform="translate(9.6,265.7) rotate(-90)" textLength="42.2" lengthAdjust="spacingAndGlyphs">CO F.E. (%)</text><text x="58.9" y="330.4" font-size="7.7" text-anchor="start" font-weight="bold" fill="#333" stroke="#333" font-family='"Liberation Sans",sans-serif'  textLength="47.7" lengthAdjust="spacingAndGlyphs"><tspan>E (V) </tspan><tspan font-style="italic">vs.</tspan><tspan> RHE</tspan></text><polyline points="30.7,252.5 45.3,228.8 59.9,236.1 74.5,227.1 89.1,228.1 103.7,228.1 118.3,249.7 132.9,244.5" fill="none" stroke="#d8404e" stroke-width="1.2" /><polyline points="30.7,282.7 45.3,276.8 59.9,272.5 74.5,267.7 89.1,257.2 103.7,256.4 118.3,254.8 132.9,276.8" fill="none" stroke="#e8922a" stroke-width="1.2" /><polyline points="30.7,307.0 45.3,306.4 59.9,306.4 74.5,305.7 89.1,303.6 103.7,306.0 118.3,304.7 132.9,304.9" fill="none" stroke="#2a52b2" stroke-width="1.2" /><circle cx="30.7" cy="252.5" r="1.6" fill="#d8404e" stroke="none" stroke-width="0.5" /><circle cx="45.3" cy="228.8" r="1.6" fill="#d8404e" stroke="none" stroke-width="0.5" /><circle cx="59.9" cy="236.1" r="1.6" fill="#d8404e" stroke="none" stroke-width="0.5" /><circle cx="74.5" cy="227.1" r="1.6" fill="#d8404e" stroke="none" stroke-width="0.5" /><circle cx="89.1" cy="228.1" r="1.6" fill="#d8404e" stroke="none" stroke-width="0.5" /><circle cx="103.7" cy="228.1" r="1.6" fill="#d8404e" stroke="none" stroke-width="0.5" /><circle cx="118.3" cy="249.7" r="1.6" fill="#d8404e" stroke="none" stroke-width="0.5" /><circle cx="132.9" cy="244.5" r="1.6" fill="#d8404e" stroke="none" stroke-width="0.5" /><circle cx="30.7" cy="282.7" r="1.6" fill="#e8922a" stroke="none" stroke-width="0.5" /><circle cx="45.3" cy="276.8" r="1.6" fill="#e8922a" stroke="none" stroke-width="0.5" /><circle cx="59.9" cy="272.5" r="1.6" fill="#e8922a" stroke="none" stroke-width="0.5" /><circle cx="74.5" cy="267.7" r="1.6" fill="#e8922a" stroke="none" stroke-width="0.5" /><circle cx="89.1" cy="257.2" r="1.6" fill="#e8922a" stroke="none" stroke-width="0.5" /><circle cx="103.7" cy="256.4" r="1.6" fill="#e8922a" stroke="none" stroke-width="0.5" /><circle cx="118.3" cy="254.8" r="1.6" fill="#e8922a" stroke="none" stroke-width="0.5" /><circle cx="132.9" cy="276.8" r="1.6" fill="#e8922a" stroke="none" stroke-width="0.5" /><polygon points="28.7,305.6 32.7,305.6 30.7,308.8" fill="#2a52b2" stroke="none" stroke-width="1" /><polygon points="43.3,305.0 47.3,305.0 45.3,308.2" fill="#2a52b2" stroke="none" stroke-width="1" /><polygon points="57.9,305.0 61.9,305.0 59.9,308.2" fill="#2a52b2" stroke="none" stroke-width="1" /><polygon points="72.5,304.3 76.5,304.3 74.5,307.5" fill="#2a52b2" stroke="none" stroke-width="1" /><polygon points="87.1,302.2 91.1,302.2 89.1,305.4" fill="#2a52b2" stroke="none" stroke-width="1" /><polygon points="101.7,304.6 105.7,304.6 103.7,307.8" fill="#2a52b2" stroke="none" stroke-width="1" /><polygon points="116.3,303.3 120.3,303.3 118.3,306.5" fill="#2a52b2" stroke="none" stroke-width="1" /><polygon points="130.9,303.5 134.9,303.5 132.9,306.7" fill="#2a52b2" stroke="none" stroke-width="1" /><text x="47.9" y="244.3" font-size="8.4" text-anchor="start" font-weight="bold" fill="#d03a4a" stroke="#d03a4a" font-family='"Liberation Sans",sans-serif'  textLength="22.1" lengthAdjust="spacingAndGlyphs"><tspan>Co-N</tspan><tspan dy="2.70" font-size="8.40">2</tspan></text><text x="47.9" y="265.7" font-size="8.4" text-anchor="start" font-weight="bold" fill="#e8922a" stroke="#e8922a" font-family='"Liberation Sans",sans-serif'  textLength="22.1" lengthAdjust="spacingAndGlyphs"><tspan>Co-N</tspan><tspan dy="1.80" font-size="8.40">3</tspan></text><text x="48.0" y="302.0" font-size="7.9" text-anchor="start" font-weight="bold" fill="#2a52b2" stroke="#2a52b2" font-family='"Liberation Sans",sans-serif'  textLength="26.9" lengthAdjust="spacingAndGlyphs">Co NPs</text><text x="142.8" y="231.8" font-size="19" text-anchor="start" font-weight="bold" fill="#111" stroke="#111" font-family='"Liberation Serif",serif' >g</text><rect x="163.5" y="222.6" width="127.7" height="94.0" fill="none" stroke="#333" stroke-width="1.1" /><line x1="161.2" y1="237.1" x2="163.5" y2="237.1" stroke="#333" stroke-width="0.9" /><text x="160.2" y="238.9" font-size="5.3" text-anchor="end" font-weight="bold" fill="#333" stroke="#333" font-family='"Liberation Serif",serif' >1.5</text><line x1="161.2" y1="251.2" x2="163.5" y2="251.2" stroke="#333" stroke-width="0.9" /><text x="160.2" y="253.0" font-size="5.3" text-anchor="end" font-weight="bold" fill="#333" stroke="#333" font-family='"Liberation Serif",serif' >1.0</text><line x1="161.2" y1="265.4" x2="163.5" y2="265.4" stroke="#333" stroke-width="0.9" /><text x="160.2" y="267.2" font-size="5.3" text-anchor="end" font-weight="bold" fill="#333" stroke="#333" font-family='"Liberation Serif",serif' >0.5</text><line x1="161.2" y1="279.5" x2="163.5" y2="279.5" stroke="#333" stroke-width="0.9" /><text x="160.2" y="281.3" font-size="5.3" text-anchor="end" font-weight="bold" fill="#333" stroke="#333" font-family='"Liberation Serif",serif' >0.0</text><line x1="161.2" y1="293.6" x2="163.5" y2="293.6" stroke="#333" stroke-width="0.9" /><text x="160.2" y="295.4" font-size="5.3" text-anchor="end" font-weight="bold" fill="#333" stroke="#333" font-family='"Liberation Serif",serif' >-0.5</text><line x1="161.2" y1="307.8" x2="163.5" y2="307.8" stroke="#333" stroke-width="0.9" /><text x="160.2" y="309.6" font-size="5.3" text-anchor="end" font-weight="bold" fill="#333" stroke="#333" font-family='"Liberation Serif",serif' >-1.0</text><text x="0.0" y="0.0" font-size="6.2" text-anchor="middle" font-weight="bold" fill="#333" stroke="#333" font-family='"Liberation Serif",serif' transform="translate(149.3,262.5) rotate(-90)" textLength="44" lengthAdjust="spacingAndGlyphs">Free energy (eV)</text><line x1="175.2" y1="279.5" x2="201.4" y2="232.2" stroke="#4a64c4" stroke-width="1.0" stroke-dasharray="3.0,2.6"/><line x1="214.5" y1="232.2" x2="239.5" y2="254.8" stroke="#4a64c4" stroke-width="1.0" stroke-dasharray="3.0,2.6"/><line x1="251.7" y1="254.8" x2="277.9" y2="272.3" stroke="#4a64c4" stroke-width="1.0" stroke-dasharray="3.0,2.6"/><line x1="175.2" y1="279.5" x2="201.4" y2="260.0" stroke="#b050c4" stroke-width="1.0" stroke-dasharray="3.0,2.6"/><line x1="214.5" y1="260.0" x2="240.0" y2="282.6" stroke="#b050c4" stroke-width="1.0" stroke-dasharray="3.0,2.6"/><line x1="252.2" y1="282.6" x2="277.9" y2="272.3" stroke="#b050c4" stroke-width="1.0" stroke-dasharray="3.0,2.6"/><line x1="175.2" y1="279.5" x2="202.2" y2="281.2" stroke="#e8483a" stroke-width="1.0" stroke-dasharray="3.0,2.6"/><line x1="214.5" y1="281.2" x2="240.0" y2="309.0" stroke="#e8483a" stroke-width="1.0" stroke-dasharray="3.0,2.6"/><line x1="252.2" y1="309.0" x2="277.9" y2="272.3" stroke="#e8483a" stroke-width="1.0" stroke-dasharray="3.0,2.6"/><line x1="163.5" y1="279.5" x2="175.2" y2="279.5" stroke="#b050c4" stroke-width="1.5" /><line x1="201.4" y1="232.2" x2="214.5" y2="232.2" stroke="#4a64c4" stroke-width="1.5" /><line x1="201.4" y1="260.0" x2="214.5" y2="260.0" stroke="#b050c4" stroke-width="1.5" /><line x1="202.2" y1="281.2" x2="214.5" y2="281.2" stroke="#e8483a" stroke-width="1.5" /><line x1="239.5" y1="254.8" x2="251.7" y2="254.8" stroke="#4a64c4" stroke-width="1.5" /><line x1="240.0" y1="282.6" x2="252.2" y2="282.6" stroke="#b050c4" stroke-width="1.5" /><line x1="240.0" y1="309.0" x2="252.2" y2="309.0" stroke="#e8483a" stroke-width="1.5" /><line x1="277.9" y1="272.3" x2="291.0" y2="272.3" stroke="#b050c4" stroke-width="1.5" /><text x="200.8" y="230.4" font-size="5.7" text-anchor="start" font-weight="bold" fill="#222" stroke="#222" font-family='"Liberation Serif",serif'  textLength="13.1" lengthAdjust="spacingAndGlyphs">1.649</text><text x="200.8" y="266.8" font-size="5.7" text-anchor="start" font-weight="bold" fill="#b050c4" stroke="#b050c4" font-family='"Liberation Serif",serif'  textLength="13.1" lengthAdjust="spacingAndGlyphs">0.680</text><text x="167.6" y="277.6" font-size="5.7" text-anchor="start" font-weight="bold" fill="#b050c4" stroke="#b050c4" font-family='"Liberation Serif",serif' >0</text><text x="240.0" y="252.2" font-size="5.7" text-anchor="start" font-weight="bold" fill="#222" stroke="#222" font-family='"Liberation Serif",serif'  textLength="12.9" lengthAdjust="spacingAndGlyphs">0.870</text><text x="278.0" y="270.4" font-size="5.7" text-anchor="start" font-weight="bold" fill="#b050c4" stroke="#b050c4" font-family='"Liberation Serif",serif'  textLength="13.0" lengthAdjust="spacingAndGlyphs">0.250</text><text x="199.7" y="288.0" font-size="5.7" text-anchor="start" font-weight="bold" fill="#e8483a" stroke="#e8483a" font-family='"Liberation Serif",serif'  textLength="14.8" lengthAdjust="spacingAndGlyphs">-0.061</text><text x="237.8" y="289.6" font-size="5.7" text-anchor="start" font-weight="bold" fill="#b050c4" stroke="#b050c4" font-family='"Liberation Serif",serif'  textLength="15.1" lengthAdjust="spacingAndGlyphs">-0.110</text><text x="237.8" y="315.4" font-size="5.7" text-anchor="start" font-weight="bold" fill="#e8483a" stroke="#e8483a" font-family='"Liberation Serif",serif'  textLength="15.1" lengthAdjust="spacingAndGlyphs">-1.014</text><line x1="256.6" y1="226.8" x2="264.0" y2="226.8" stroke="#4a64c4" stroke-width="1.2" /><text x="266.5" y="228.8" font-size="5.8" text-anchor="start" font-weight="bold" fill="#222" stroke="#222" font-family='"Liberation Serif",serif'  textLength="13" lengthAdjust="spacingAndGlyphs"><tspan>Ni-N</tspan><tspan dy="1.45" font-size="3.77">4</tspan></text><line x1="256.6" y1="237.4" x2="264.0" y2="237.4" stroke="#b050c4" stroke-width="1.2" /><text x="266.5" y="239.4" font-size="5.8" text-anchor="start" font-weight="bold" fill="#222" stroke="#222" font-family='"Liberation Serif",serif'  textLength="20.0" lengthAdjust="spacingAndGlyphs"><tspan>Ni-N</tspan><tspan dy="1.45" font-size="3.77">2</tspan><tspan dy="-1.45">-V</tspan></text><line x1="256.6" y1="246.1" x2="264.0" y2="246.1" stroke="#e8483a" stroke-width="1.2" /><text x="266.5" y="248.1" font-size="5.8" text-anchor="start" font-weight="bold" fill="#222" stroke="#222" font-family='"Liberation Serif",serif'  textLength="13" lengthAdjust="spacingAndGlyphs"><tspan>Ni-N</tspan><tspan dy="1.45" font-size="3.77">3</tspan></text><line x1="169.4" y1="316.6" x2="169.4" y2="314.6" stroke="#333" stroke-width="0.9" /><line x1="207.9" y1="316.6" x2="207.9" y2="314.6" stroke="#333" stroke-width="0.9" /><line x1="246.0" y1="316.6" x2="246.0" y2="314.6" stroke="#333" stroke-width="0.9" /><line x1="284.4" y1="316.6" x2="284.4" y2="314.6" stroke="#333" stroke-width="0.9" /><text x="165.4" y="322.2" font-size="6.2" text-anchor="start" font-weight="bold" fill="#222" stroke="#222" font-family='"Liberation Serif",serif'  textLength="10.3" lengthAdjust="spacingAndGlyphs"><tspan>CO</tspan><tspan dy="1.80" font-size="4.03">2</tspan></text><text x="201.9" y="322.2" font-size="6.2" text-anchor="start" font-weight="bold" fill="#222" stroke="#222" font-family='"Liberation Serif",serif'  textLength="19.1" lengthAdjust="spacingAndGlyphs">COOH*</text><text x="244.4" y="322.2" font-size="6.2" text-anchor="start" font-weight="bold" fill="#222" stroke="#222" font-family='"Liberation Serif",serif'  textLength="9.8" lengthAdjust="spacingAndGlyphs">CO*</text><text x="282.8" y="322.2" font-size="6.2" text-anchor="start" font-weight="bold" fill="#222" stroke="#222" font-family='"Liberation Serif",serif'  textLength="8.2" lengthAdjust="spacingAndGlyphs">CO</text><text x="209.6" y="328.8" font-size="6.2" text-anchor="start" font-weight="bold" fill="#222" stroke="#222" font-family='"Liberation Serif",serif'  textLength="44.6" lengthAdjust="spacingAndGlyphs">Reaction pathway</text><text x="296.6" y="237.4" font-size="20.5" text-anchor="start" font-weight="bold" fill="#111" stroke="#111" font-family='"Liberation Serif",serif' >i</text><rect x="315.0" y="222.1" width="230.5" height="91.6" fill="none" stroke="#444" stroke-width="1.0" /><line x1="312.8" y1="237.1" x2="315.0" y2="237.1" stroke="#444" stroke-width="0.9" /><text x="309.8" y="239.0" font-size="5.4" text-anchor="end" font-weight="bold" fill="#333" stroke="#333" font-family='"Liberation Sans",sans-serif' >2.0</text><line x1="312.8" y1="252.4" x2="315.0" y2="252.4" stroke="#444" stroke-width="0.9" /><text x="309.8" y="254.3" font-size="5.4" text-anchor="end" font-weight="bold" fill="#333" stroke="#333" font-family='"Liberation Sans",sans-serif' >1.5</text><line x1="312.8" y1="267.6" x2="315.0" y2="267.6" stroke="#444" stroke-width="0.9" /><text x="309.8" y="269.5" font-size="5.4" text-anchor="end" font-weight="bold" fill="#333" stroke="#333" font-family='"Liberation Sans",sans-serif' >1.0</text><line x1="312.8" y1="282.9" x2="315.0" y2="282.9" stroke="#444" stroke-width="0.9" /><text x="309.8" y="284.8" font-size="5.4" text-anchor="end" font-weight="bold" fill="#333" stroke="#333" font-family='"Liberation Sans",sans-serif' >0.5</text><line x1="312.8" y1="298.1" x2="315.0" y2="298.1" stroke="#444" stroke-width="0.9" /><text x="309.8" y="300.0" font-size="5.4" text-anchor="end" font-weight="bold" fill="#333" stroke="#333" font-family='"Liberation Sans",sans-serif' >0.0</text><line x1="312.8" y1="313.4" x2="315.0" y2="313.4" stroke="#444" stroke-width="0.9" /><text x="309.8" y="315.2" font-size="5.4" text-anchor="end" font-weight="bold" fill="#333" stroke="#333" font-family='"Liberation Sans",sans-serif' >-0.5</text><line x1="338.3" y1="314.1" x2="338.3" y2="316.2" stroke="#444" stroke-width="0.9" /><text x="338.3" y="322.0" font-size="5.6" text-anchor="middle" font-weight="bold" fill="#333" stroke="#333" font-family='"Liberation Sans",sans-serif' >0</text><line x1="384.1" y1="314.1" x2="384.1" y2="316.2" stroke="#444" stroke-width="0.9" /><text x="384.1" y="322.0" font-size="5.6" text-anchor="middle" font-weight="bold" fill="#333" stroke="#333" font-family='"Liberation Sans",sans-serif' >1</text><line x1="429.9" y1="314.1" x2="429.9" y2="316.2" stroke="#444" stroke-width="0.9" /><text x="429.9" y="322.0" font-size="5.6" text-anchor="middle" font-weight="bold" fill="#333" stroke="#333" font-family='"Liberation Sans",sans-serif' >2</text><line x1="475.7" y1="314.1" x2="475.7" y2="316.2" stroke="#444" stroke-width="0.9" /><text x="475.7" y="322.0" font-size="5.6" text-anchor="middle" font-weight="bold" fill="#333" stroke="#333" font-family='"Liberation Sans",sans-serif' >3</text><line x1="521.5" y1="314.1" x2="521.5" y2="316.2" stroke="#444" stroke-width="0.9" /><text x="521.5" y="322.0" font-size="5.6" text-anchor="middle" font-weight="bold" fill="#333" stroke="#333" font-family='"Liberation Sans",sans-serif' >4</text><text x="391.0" y="329.0" font-size="7.2" text-anchor="start" font-weight="bold" fill="#222" stroke="#222" font-family='"Liberation Sans",sans-serif'  textLength="77.5" lengthAdjust="spacingAndGlyphs">Number of coordinating N</text><text x="0.0" y="0.0" font-size="6.0" text-anchor="middle" font-weight="normal" fill="#333" stroke="#333" font-family='"Liberation Sans",sans-serif' transform="translate(301.4,269.4) rotate(-90)" textLength="30.7" lengthAdjust="spacingAndGlyphs"><tspan>Δ</tspan><tspan font-style="italic">G</tspan><tspan dy="1.80" font-size="3.90">PDS</tspan><tspan dy="-1.80"> (eV)</tspan></text><polygon points="338.3,269.9 341.0,272.6 338.3,275.3 335.6,272.6" fill="#e02828" stroke="none" stroke-width="1" /><polygon points="338.3,276.5 341.0,279.2 338.3,281.9 335.6,279.2" fill="#3a8ad8" stroke="none" stroke-width="1" /><polygon points="338.3,279.8 341.0,282.5 338.3,285.2 335.6,282.5" fill="#27a844" stroke="none" stroke-width="1" /><polygon points="384.1,263.3 386.8,266.0 384.1,268.7 381.4,266.0" fill="#fff" stroke="#27a844" stroke-width="0.8" /><polygon points="384.1,263.3 384.1,268.7 381.4,266.0" fill="#27a844" stroke="none" stroke-width="1" /><polygon points="384.1,271.1 386.8,273.8 384.1,276.5 381.4,273.8" fill="#3a8ad8" stroke="none" stroke-width="1" /><polygon points="384.1,270.1 386.8,272.8 384.1,275.5 381.4,272.8" fill="#e02828" stroke="none" stroke-width="1" /><polygon points="384.1,292.9 386.8,295.6 384.1,298.3 381.4,295.6" fill="#27a844" stroke="none" stroke-width="1" /><polygon points="429.9,261.9 432.6,264.6 429.9,267.3 427.2,264.6" fill="#e02828" stroke="none" stroke-width="1" /><polygon points="429.9,276.4 432.6,279.1 429.9,281.8 427.2,279.1" fill="#fff" stroke="#3a8ad8" stroke-width="0.8" /><polygon points="429.9,276.4 429.9,281.8 427.2,279.1" fill="#3a8ad8" stroke="none" stroke-width="1" /><polygon points="429.9,300.1 432.6,302.8 429.9,305.5 427.2,302.8" fill="#27a844" stroke="none" stroke-width="1" /><polygon points="475.7,250.9 478.4,253.6 475.7,256.3 473.0,253.6" fill="#e02828" stroke="none" stroke-width="1" /><polygon points="475.7,263.1 478.4,265.8 475.7,268.5 473.0,265.8" fill="#3a8ad8" stroke="none" stroke-width="1" /><polygon points="475.7,267.9 478.4,270.6 475.7,273.3 473.0,270.6" fill="#fff" stroke="#3a8ad8" stroke-width="0.8" /><polygon points="475.7,267.9 475.7,273.3 473.0,270.6" fill="#3a8ad8" stroke="none" stroke-width="1" /><polygon points="475.7,299.7 478.4,302.4 475.7,305.1 473.0,302.4" fill="#27a844" stroke="none" stroke-width="1" /><polygon points="521.5,233.0 524.2,235.7 521.5,238.4 518.8,235.7" fill="#e02828" stroke="none" stroke-width="1" /><polygon points="521.5,245.1 524.2,247.8 521.5,250.5 518.8,247.8" fill="#3a8ad8" stroke="none" stroke-width="1" /><text x="319.3" y="230.5" font-size="5.6" text-anchor="start" font-weight="bold" fill="#222" stroke="#222" font-family='"Liberation Sans",sans-serif'  textLength="10.9" lengthAdjust="spacingAndGlyphs"><tspan>N</tspan><tspan dy="1.40" font-size="3.64">x</tspan><tspan dy="-1.40">C</tspan><tspan dy="1.40" font-size="3.64">y</tspan></text><text x="333.5" y="230.5" font-size="5.6" text-anchor="start" font-weight="bold" fill="#222" stroke="#222" font-family='"Liberation Sans",sans-serif'  textLength="9.8" lengthAdjust="spacingAndGlyphs"><tspan>N</tspan><tspan dy="1.40" font-size="3.64">x</tspan><tspan dy="-1.40">V</tspan><tspan dy="1.40" font-size="3.64">y</tspan></text><polygon points="325.4,234.6 328.1,237.3 325.4,240.0 322.7,237.3" fill="#27a844" stroke="none" stroke-width="1" /><polygon points="337.6,234.6 340.3,237.3 337.6,240.0 334.9,237.3" fill="#fff" stroke="#27a844" stroke-width="0.8" /><polygon points="337.6,234.6 337.6,240.0 334.9,237.3" fill="#27a844" stroke="none" stroke-width="1" /><polygon points="325.4,240.7 328.1,243.4 325.4,246.1 322.7,243.4" fill="#3a8ad8" stroke="none" stroke-width="1" /><polygon points="337.6,240.7 340.3,243.4 337.6,246.1 334.9,243.4" fill="#fff" stroke="#3a8ad8" stroke-width="0.8" /><polygon points="337.6,240.7 337.6,246.1 334.9,243.4" fill="#3a8ad8" stroke="none" stroke-width="1" /><polygon points="325.4,247.3 328.1,250.0 325.4,252.7 322.7,250.0" fill="#e02828" stroke="none" stroke-width="1" /><text x="351.0" y="239.4" font-size="6.2" text-anchor="start" font-weight="bold" fill="#222" stroke="#222" font-family='"Liberation Sans",sans-serif'  textLength="38" lengthAdjust="spacingAndGlyphs">Pyridine, CN = 3</text><text x="351.0" y="245.5" font-size="6.2" text-anchor="start" font-weight="bold" fill="#222" stroke="#222" font-family='"Liberation Sans",sans-serif'  textLength="38" lengthAdjust="spacingAndGlyphs">Pyridine, CN = 4</text><text x="352.0" y="251.7" font-size="6.2" text-anchor="start" font-weight="bold" fill="#222" stroke="#222" font-family='"Liberation Sans",sans-serif'  textLength="37" lengthAdjust="spacingAndGlyphs">Pyrrole, CN = 4</text><text x="7.6" y="347.0" font-size="20" text-anchor="start" font-weight="bold" fill="#111" stroke="#111" font-family='"Liberation Serif",serif' >j</text><polygon points="16.4,347.4 45.0,338.8 48.8,340.6 21.3,349.3" fill="#2ccfd6" stroke="none" stroke-width="1" /><polygon points="21.3,349.3 48.8,340.6 48.8,343.9 21.5,354.4" fill="#1fbcc7" stroke="none" stroke-width="1" /><polygon points="16.4,347.4 21.3,349.3 21.5,354.4 16.6,352.5" fill="#17a6b4" stroke="none" stroke-width="1" /><polygon points="27.2,354.6 56.6,342.5 59.8,344.2 32.4,356.6" fill="#2ccfd6" stroke="none" stroke-width="1" /><polygon points="32.4,356.6 59.8,344.2 59.8,347.4 32.6,361.4" fill="#1fbcc7" stroke="none" stroke-width="1" /><polygon points="27.2,354.6 32.4,356.6 32.6,361.4 27.4,359.4" fill="#17a6b4" stroke="none" stroke-width="1" /><polygon points="39.4,362.8 70.2,346.8 73.6,348.6 44.9,364.9" fill="#2ccfd6" stroke="none" stroke-width="1" /><polygon points="44.9,364.9 73.6,348.6 73.6,351.8 45.2,369.2" fill="#1fbcc7" stroke="none" stroke-width="1" /><polygon points="39.4,362.8 44.9,364.9 45.2,369.2 39.7,367.1" fill="#17a6b4" stroke="none" stroke-width="1" /><text x="21.0" y="374.0" font-size="4.6" text-anchor="start" font-weight="bold" fill="#333" stroke="#333" font-family='"Liberation Sans",sans-serif'  textLength="40" lengthAdjust="spacingAndGlyphs"><tspan>Cu(BTC)(H</tspan><tspan dy="1.20" font-size="2.99">2</tspan><tspan dy="-1.20">O)</tspan><tspan dy="1.20" font-size="2.99">3</tspan><tspan dy="-1.20">, MOF</tspan></text><defs><linearGradient id="garr" x1="0" y1="0" x2="1" y2="0"><stop offset="0" stop-color="#ffe800"/><stop offset="0.5" stop-color="#ff9a10"/><stop offset="1" stop-color="#ff1010"/></linearGradient><linearGradient id="garrv" x1="0" y1="0" x2="0" y2="1"><stop offset="0" stop-color="#ffe800"/><stop offset="0.5" stop-color="#ff9a10"/><stop offset="1" stop-color="#ff2a10"/></linearGradient></defs><rect x="78.6" y="352.6" width="34.0" height="2.0" fill="url(#garr)" stroke="none" stroke-width="1" /><polygon points="111.4,349.4 119.8,353.6 111.4,357.6" fill="#ff1010" stroke="none" stroke-width="1" /><text x="79.1" y="359.6" font-size="4.5" text-anchor="start" font-weight="bold" fill="#333" stroke="#333" font-family='"Liberation Sans",sans-serif'  textLength="32.7" lengthAdjust="spacingAndGlyphs">(1) Ar, 800 °C, 3 h</text><text x="79.1" y="366.0" font-size="4.5" text-anchor="start" font-weight="bold" fill="#333" stroke="#333" font-family='"Liberation Sans",sans-serif'  textLength="19.1" lengthAdjust="spacingAndGlyphs"><tspan>(2) O</tspan><tspan dy="1.10" font-size="2.93">2</tspan><tspan dy="-1.10">, HCl</tspan></text><line x1="88.2" y1="346.4" x2="90.5" y2="348.2" stroke="#8aa0c0" stroke-width="0.8" /><line x1="90.0" y1="351.2" x2="90.5" y2="348.2" stroke="#8aa0c0" stroke-width="0.8" /><line x1="90.5" y1="348.2" x2="94.1" y2="346.4" stroke="#8aa0c0" stroke-width="0.8" /><line x1="94.1" y1="346.4" x2="96.5" y2="341.4" stroke="#8aa0c0" stroke-width="0.8" /><line x1="94.1" y1="346.4" x2="98.2" y2="347.3" stroke="#8aa0c0" stroke-width="0.8" /><line x1="98.2" y1="347.3" x2="98.8" y2="350.8" stroke="#8aa0c0" stroke-width="0.8" /><line x1="98.2" y1="347.3" x2="102.3" y2="345.9" stroke="#8aa0c0" stroke-width="0.8" /><line x1="102.3" y1="345.9" x2="105.9" y2="344.8" stroke="#8aa0c0" stroke-width="0.8" /><circle cx="88.2" cy="346.4" r="0.95" fill="#30d040" stroke="none" stroke-width="0.5" /><circle cx="90.0" cy="351.2" r="0.95" fill="#30d040" stroke="none" stroke-width="0.5" /><circle cx="90.5" cy="348.2" r="0.95" fill="#2a40d0" stroke="none" stroke-width="0.5" /><circle cx="94.1" cy="346.4" r="0.95" fill="#909090" stroke="none" stroke-width="0.5" /><circle cx="96.5" cy="341.4" r="0.95" fill="#30d040" stroke="none" stroke-width="0.5" /><circle cx="98.2" cy="347.3" r="0.95" fill="#2a40d0" stroke="none" stroke-width="0.5" /><circle cx="98.8" cy="350.8" r="0.95" fill="#30d040" stroke="none" stroke-width="0.5" /><circle cx="102.3" cy="345.9" r="0.95" fill="#909090" stroke="none" stroke-width="0.5" /><circle cx="105.9" cy="344.8" r="0.95" fill="#2a40d0" stroke="none" stroke-width="0.5" /><rect x="42.0" y="377.4" width="2.0" height="18.0" fill="url(#garrv)" stroke="none" stroke-width="1" /><polygon points="39.0,394.4 43.0,401.8 47.0,394.4" fill="#ff2010" stroke="none" stroke-width="1" /><text x="45.8" y="385.4" font-size="4.5" text-anchor="start" font-weight="bold" fill="#333" stroke="#333" font-family='"Liberation Sans",sans-serif'  textLength="32.7" lengthAdjust="spacingAndGlyphs">(1) Ar, 900 °C, 3 h</text><text x="45.8" y="391.8" font-size="4.5" text-anchor="start" font-weight="bold" fill="#333" stroke="#333" font-family='"Liberation Sans",sans-serif'  textLength="19.1" lengthAdjust="spacingAndGlyphs"><tspan>(2) O</tspan><tspan dy="1.10" font-size="2.93">2</tspan><tspan dy="-1.10">, HCl</tspan></text><line x1="22.5" y1="386.5" x2="24.8" y2="388.3" stroke="#8aa0c0" stroke-width="0.8" /><line x1="24.3" y1="391.3" x2="24.8" y2="388.3" stroke="#8aa0c0" stroke-width="0.8" /><line x1="24.8" y1="388.3" x2="28.4" y2="386.5" stroke="#8aa0c0" stroke-width="0.8" /><line x1="28.4" y1="386.5" x2="30.8" y2="381.5" stroke="#8aa0c0" stroke-width="0.8" /><line x1="28.4" y1="386.5" x2="32.5" y2="387.4" stroke="#8aa0c0" stroke-width="0.8" /><line x1="32.5" y1="387.4" x2="33.1" y2="390.9" stroke="#8aa0c0" stroke-width="0.8" /><line x1="32.5" y1="387.4" x2="36.6" y2="386.0" stroke="#8aa0c0" stroke-width="0.8" /><line x1="36.6" y1="386.0" x2="40.2" y2="384.9" stroke="#8aa0c0" stroke-width="0.8" /><circle cx="22.5" cy="386.5" r="0.95" fill="#30d040" stroke="none" stroke-width="0.5" /><circle cx="24.3" cy="391.3" r="0.95" fill="#30d040" stroke="none" stroke-width="0.5" /><circle cx="24.8" cy="388.3" r="0.95" fill="#2a40d0" stroke="none" stroke-width="0.5" /><circle cx="28.4" cy="386.5" r="0.95" fill="#909090" stroke="none" stroke-width="0.5" /><circle cx="30.8" cy="381.5" r="0.95" fill="#30d040" stroke="none" stroke-width="0.5" /><circle cx="32.5" cy="387.4" r="0.95" fill="#2a40d0" stroke="none" stroke-width="0.5" /><circle cx="33.1" cy="390.9" r="0.95" fill="#30d040" stroke="none" stroke-width="0.5" /><circle cx="36.6" cy="386.0" r="0.95" fill="#909090" stroke="none" stroke-width="0.5" /><circle cx="40.2" cy="384.9" r="0.95" fill="#2a40d0" stroke="none" stroke-width="0.5" /><path d="M167.2 338.7L171.7 336.1M140.6 338.7L145.0 336.1M149.4 369.1L149.4 374.1M118.3 346.3L118.3 351.3M149.4 374.1L153.9 376.7M171.7 366.5L176.2 369.1M162.8 346.3L162.8 351.3M136.1 346.3L136.1 351.3M127.2 361.5L127.2 366.5M171.7 361.5L176.2 358.9M153.9 351.3L158.3 353.9M145.0 336.1L149.4 338.7M122.8 358.9L127.2 361.5M118.3 361.5L122.8 358.9M176.2 338.7L176.2 343.7M162.8 361.5L167.2 358.9M122.8 338.7L122.8 343.7M180.6 376.7L185.1 374.1M180.6 346.3L180.6 351.3M149.4 369.1L153.9 366.5M140.6 343.7L145.0 346.3M180.6 361.5L180.6 366.5M122.8 353.9L122.8 358.9M153.9 376.7L158.3 374.1M118.3 346.3L122.8 343.7M171.7 361.5L171.7 366.5M131.7 338.7L136.1 336.1M167.2 338.7L167.2 343.7M167.2 374.1L171.7 376.7M149.4 353.9L149.4 358.9M127.2 376.7L131.7 374.1M136.1 376.7L140.6 374.1M176.2 343.7L180.6 346.3M180.6 336.1L185.1 338.7M162.8 376.7L167.2 374.1M140.6 338.7L140.6 343.7M153.9 336.1L158.3 338.7M153.9 361.5L153.9 366.5M136.1 351.3L140.6 353.9M171.7 336.1L176.2 338.7M167.2 369.1L171.7 366.5M158.3 374.1L162.8 376.7M122.8 374.1L127.2 376.7M140.6 369.1L140.6 374.1M118.3 366.5L122.8 369.1M158.3 369.1L162.8 366.5M140.6 374.1L145.0 376.7M167.2 358.9L171.7 361.5M140.6 353.9L145.0 351.3M176.2 369.1L180.6 366.5M127.2 336.1L131.7 338.7M158.3 338.7L162.8 336.1M162.8 366.5L167.2 369.1M127.2 361.5L131.7 358.9M145.0 376.7L149.4 374.1M180.6 366.5L185.1 369.1M176.2 353.9L176.2 358.9M127.2 351.3L131.7 353.9M180.6 361.5L185.1 358.9M162.8 346.3L167.2 343.7M153.9 366.5L158.3 369.1M122.8 343.7L127.2 346.3M145.0 351.3L149.4 353.9M158.3 369.1L158.3 374.1M153.9 361.5L158.3 358.9M180.6 351.3L185.1 353.9M149.4 358.9L153.9 361.5M162.8 361.5L162.8 366.5M176.2 338.7L180.6 336.1M131.7 353.9L136.1 351.3M131.7 374.1L136.1 376.7M122.8 353.9L127.2 351.3M118.3 351.3L122.8 353.9M118.3 361.5L118.3 366.5M127.2 366.5L131.7 369.1M180.6 346.3L185.1 343.7M127.2 346.3L131.7 343.7M167.2 343.7L171.7 346.3M131.7 353.9L131.7 358.9M176.2 358.9L180.6 361.5M185.1 369.1L185.1 374.1M167.2 369.1L167.2 374.1M171.7 346.3L171.7 351.3M122.8 369.1L127.2 366.5M131.7 369.1L131.7 374.1M176.2 374.1L180.6 376.7M158.3 353.9L158.3 358.9M167.2 353.9L167.2 358.9M145.0 346.3L145.0 351.3M171.7 346.3L176.2 343.7M136.1 346.3L140.6 343.7M176.2 369.1L176.2 374.1M149.4 338.7L153.9 336.1M131.7 343.7L136.1 346.3M122.8 369.1L122.8 374.1M122.8 338.7L127.2 336.1M171.7 376.7L176.2 374.1M176.2 353.9L180.6 351.3M167.2 353.9L171.7 351.3M158.3 358.9L162.8 361.5M136.1 336.1L140.6 338.7M149.4 353.9L153.9 351.3M185.1 338.7L185.1 343.7M185.1 353.9L185.1 358.9M162.8 336.1L167.2 338.7M171.7 351.3L176.2 353.9M162.8 351.3L167.2 353.9M158.3 353.9L162.8 351.3M131.7 338.7L131.7 343.7M127.2 346.3L127.2 351.3" stroke="#858585" stroke-width="0.9" fill="none"/><circle cx="122.8" cy="369.1" r="0.95" fill="#6c6c6c" stroke="none" stroke-width="0.5" /><circle cx="145.0" cy="351.3" r="0.95" fill="#6c6c6c" stroke="none" stroke-width="0.5" /><circle cx="131.7" cy="374.1" r="0.95" fill="#6c6c6c" stroke="none" stroke-width="0.5" /><circle cx="153.9" cy="361.5" r="0.95" fill="#6c6c6c" stroke="none" stroke-width="0.5" /><circle cx="127.2" cy="376.7" r="0.95" fill="#6c6c6c" stroke="none" stroke-width="0.5" /><circle cx="176.2" cy="353.9" r="0.95" fill="#6c6c6c" stroke="none" stroke-width="0.5" /><circle cx="122.8" cy="338.7" r="0.95" fill="#6c6c6c" stroke="none" stroke-width="0.5" /><circle cx="122.8" cy="358.9" r="0.95" fill="#6c6c6c" stroke="none" stroke-width="0.5" /><circle cx="167.2" cy="374.1" r="0.95" fill="#6c6c6c" stroke="none" stroke-width="0.5" /><circle cx="131.7" cy="343.7" r="0.95" fill="#6c6c6c" stroke="none" stroke-width="0.5" /><circle cx="162.8" cy="336.1" r="0.95" fill="#6c6c6c" stroke="none" stroke-width="0.5" /><circle cx="158.3" cy="369.1" r="0.95" fill="#6c6c6c" stroke="none" stroke-width="0.5" /><circle cx="171.7" cy="346.3" r="0.95" fill="#6c6c6c" stroke="none" stroke-width="0.5" /><circle cx="127.2" cy="346.3" r="0.95" fill="#6c6c6c" stroke="none" stroke-width="0.5" /><circle cx="127.2" cy="366.5" r="0.95" fill="#6c6c6c" stroke="none" stroke-width="0.5" /><circle cx="167.2" cy="343.7" r="0.95" fill="#6c6c6c" stroke="none" stroke-width="0.5" /><circle cx="136.1" cy="351.3" r="0.95" fill="#6c6c6c" stroke="none" stroke-width="0.5" /><circle cx="158.3" cy="358.9" r="0.95" fill="#6c6c6c" stroke="none" stroke-width="0.5" /><circle cx="180.6" cy="376.7" r="0.95" fill="#6c6c6c" stroke="none" stroke-width="0.5" /><circle cx="149.4" cy="353.9" r="0.95" fill="#6c6c6c" stroke="none" stroke-width="0.5" /><circle cx="153.9" cy="336.1" r="0.95" fill="#6c6c6c" stroke="none" stroke-width="0.5" /><circle cx="185.1" cy="369.1" r="0.95" fill="#6c6c6c" stroke="none" stroke-width="0.5" /><circle cx="140.6" cy="369.1" r="0.95" fill="#6c6c6c" stroke="none" stroke-width="0.5" /><circle cx="118.3" cy="346.3" r="0.95" fill="#6c6c6c" stroke="none" stroke-width="0.5" /><circle cx="118.3" cy="366.5" r="0.95" fill="#6c6c6c" stroke="none" stroke-width="0.5" /><circle cx="180.6" cy="361.5" r="0.95" fill="#6c6c6c" stroke="none" stroke-width="0.5" /><circle cx="185.1" cy="338.7" r="0.95" fill="#6c6c6c" stroke="none" stroke-width="0.5" /><circle cx="185.1" cy="358.9" r="0.95" fill="#6c6c6c" stroke="none" stroke-width="0.5" /><circle cx="140.6" cy="338.7" r="0.95" fill="#6c6c6c" stroke="none" stroke-width="0.5" /><circle cx="171.7" cy="376.7" r="0.95" fill="#6c6c6c" stroke="none" stroke-width="0.5" /><circle cx="131.7" cy="353.9" r="0.95" fill="#6c6c6c" stroke="none" stroke-width="0.5" /><circle cx="162.8" cy="346.3" r="0.95" fill="#6c6c6c" stroke="none" stroke-width="0.5" /><circle cx="162.8" cy="366.5" r="0.95" fill="#6c6c6c" stroke="none" stroke-width="0.5" /><circle cx="180.6" cy="351.3" r="0.95" fill="#6c6c6c" stroke="none" stroke-width="0.5" /><circle cx="176.2" cy="369.1" r="0.95" fill="#6c6c6c" stroke="none" stroke-width="0.5" /><circle cx="122.8" cy="374.1" r="0.95" fill="#6c6c6c" stroke="none" stroke-width="0.5" /><circle cx="145.0" cy="336.1" r="0.95" fill="#6c6c6c" stroke="none" stroke-width="0.5" /><circle cx="171.7" cy="366.5" r="0.95" fill="#6c6c6c" stroke="none" stroke-width="0.5" /><circle cx="167.2" cy="353.9" r="0.95" fill="#6c6c6c" stroke="none" stroke-width="0.5" /><circle cx="127.2" cy="361.5" r="0.95" fill="#6c6c6c" stroke="none" stroke-width="0.5" /><circle cx="176.2" cy="338.7" r="0.95" fill="#6c6c6c" stroke="none" stroke-width="0.5" /><circle cx="176.2" cy="358.9" r="0.95" fill="#6c6c6c" stroke="none" stroke-width="0.5" /><circle cx="122.8" cy="343.7" r="0.95" fill="#6c6c6c" stroke="none" stroke-width="0.5" /><circle cx="158.3" cy="374.1" r="0.95" fill="#6c6c6c" stroke="none" stroke-width="0.5" /><circle cx="171.7" cy="351.3" r="0.95" fill="#6c6c6c" stroke="none" stroke-width="0.5" /><circle cx="127.2" cy="351.3" r="0.95" fill="#6c6c6c" stroke="none" stroke-width="0.5" /><circle cx="136.1" cy="336.1" r="0.95" fill="#6c6c6c" stroke="none" stroke-width="0.5" /><circle cx="149.4" cy="369.1" r="0.95" fill="#6c6c6c" stroke="none" stroke-width="0.5" /><circle cx="118.3" cy="361.5" r="0.95" fill="#6c6c6c" stroke="none" stroke-width="0.5" /><circle cx="162.8" cy="376.7" r="0.95" fill="#6c6c6c" stroke="none" stroke-width="0.5" /><circle cx="149.4" cy="338.7" r="0.95" fill="#6c6c6c" stroke="none" stroke-width="0.5" /><circle cx="149.4" cy="358.9" r="0.95" fill="#6c6c6c" stroke="none" stroke-width="0.5" /><circle cx="145.0" cy="376.7" r="0.95" fill="#6c6c6c" stroke="none" stroke-width="0.5" /><circle cx="185.1" cy="374.1" r="0.95" fill="#6c6c6c" stroke="none" stroke-width="0.5" /><circle cx="140.6" cy="374.1" r="0.95" fill="#6c6c6c" stroke="none" stroke-width="0.5" /><circle cx="118.3" cy="351.3" r="0.95" fill="#6c6c6c" stroke="none" stroke-width="0.5" /><circle cx="145.0" cy="346.3" r="0.95" fill="#6c6c6c" stroke="none" stroke-width="0.5" /><circle cx="162.8" cy="361.5" r="0.95" fill="#6c6c6c" stroke="none" stroke-width="0.5" /><circle cx="131.7" cy="369.1" r="0.95" fill="#6c6c6c" stroke="none" stroke-width="0.5" /><circle cx="185.1" cy="343.7" r="0.95" fill="#6c6c6c" stroke="none" stroke-width="0.5" /><circle cx="140.6" cy="343.7" r="0.95" fill="#6c6c6c" stroke="none" stroke-width="0.5" /><circle cx="153.9" cy="376.7" r="0.95" fill="#6c6c6c" stroke="none" stroke-width="0.5" /><circle cx="171.7" cy="361.5" r="0.95" fill="#6c6c6c" stroke="none" stroke-width="0.5" /><circle cx="167.2" cy="369.1" r="0.95" fill="#6c6c6c" stroke="none" stroke-width="0.5" /><circle cx="131.7" cy="338.7" r="0.95" fill="#6c6c6c" stroke="none" stroke-width="0.5" /><circle cx="131.7" cy="358.9" r="0.95" fill="#6c6c6c" stroke="none" stroke-width="0.5" /><circle cx="162.8" cy="351.3" r="0.95" fill="#6c6c6c" stroke="none" stroke-width="0.5" /><circle cx="180.6" cy="336.1" r="0.95" fill="#6c6c6c" stroke="none" stroke-width="0.5" /><circle cx="176.2" cy="374.1" r="0.95" fill="#6c6c6c" stroke="none" stroke-width="0.5" /><circle cx="153.9" cy="366.5" r="0.95" fill="#6c6c6c" stroke="none" stroke-width="0.5" /><circle cx="167.2" cy="338.7" r="0.95" fill="#6c6c6c" stroke="none" stroke-width="0.5" /><circle cx="167.2" cy="358.9" r="0.95" fill="#6c6c6c" stroke="none" stroke-width="0.5" /><circle cx="136.1" cy="346.3" r="0.95" fill="#6c6c6c" stroke="none" stroke-width="0.5" /><circle cx="176.2" cy="343.7" r="0.95" fill="#6c6c6c" stroke="none" stroke-width="0.5" /><circle cx="158.3" cy="353.9" r="0.95" fill="#6c6c6c" stroke="none" stroke-width="0.5" /><circle cx="153.9" cy="351.3" r="0.95" fill="#6c6c6c" stroke="none" stroke-width="0.5" /><circle cx="171.7" cy="336.1" r="0.95" fill="#6c6c6c" stroke="none" stroke-width="0.5" /><circle cx="127.2" cy="336.1" r="0.95" fill="#6c6c6c" stroke="none" stroke-width="0.5" /><circle cx="149.4" cy="374.1" r="0.95" fill="#6c6c6c" stroke="none" stroke-width="0.5" /><circle cx="158.3" cy="338.7" r="0.95" fill="#6c6c6c" stroke="none" stroke-width="0.5" /><circle cx="185.1" cy="353.9" r="0.95" fill="#6c6c6c" stroke="none" stroke-width="0.5" /><circle cx="140.6" cy="353.9" r="0.95" fill="#6c6c6c" stroke="none" stroke-width="0.5" /><circle cx="122.8" cy="353.9" r="0.95" fill="#6c6c6c" stroke="none" stroke-width="0.5" /><circle cx="136.1" cy="376.7" r="0.95" fill="#6c6c6c" stroke="none" stroke-width="0.5" /><circle cx="180.6" cy="346.3" r="0.95" fill="#6c6c6c" stroke="none" stroke-width="0.5" /><circle cx="180.6" cy="366.5" r="0.95" fill="#6c6c6c" stroke="none" stroke-width="0.5" /><circle cx="144.8" cy="336.0" r="1.35" fill="#2030d0" stroke="none" stroke-width="0.5" /><circle cx="144.8" cy="346.4" r="1.35" fill="#2030d0" stroke="none" stroke-width="0.5" /><circle cx="163.2" cy="336.0" r="1.35" fill="#2030d0" stroke="none" stroke-width="0.5" /><circle cx="163.2" cy="346.4" r="1.35" fill="#2030d0" stroke="none" stroke-width="0.5" /><circle cx="131.1" cy="359.5" r="1.35" fill="#2030d0" stroke="none" stroke-width="0.5" /><circle cx="131.1" cy="370.0" r="1.35" fill="#2030d0" stroke="none" stroke-width="0.5" /><circle cx="149.4" cy="359.5" r="1.35" fill="#2030d0" stroke="none" stroke-width="0.5" /><circle cx="149.4" cy="370.0" r="1.35" fill="#2030d0" stroke="none" stroke-width="0.5" /><circle cx="167.7" cy="359.5" r="1.35" fill="#2030d0" stroke="none" stroke-width="0.5" /><circle cx="176.2" cy="359.5" r="1.35" fill="#2030d0" stroke="none" stroke-width="0.5" /><circle cx="167.7" cy="370.0" r="1.35" fill="#2030d0" stroke="none" stroke-width="0.5" /><circle cx="176.2" cy="370.0" r="1.35" fill="#2030d0" stroke="none" stroke-width="0.5" /><circle cx="150.7" cy="341.2" r="1.8" fill="#f0e020" stroke="#c0b000" stroke-width="0.3" /><circle cx="157.3" cy="341.2" r="1.8" fill="#f0e020" stroke="#c0b000" stroke-width="0.3" /><circle cx="137.0" cy="364.0" r="1.8" fill="#f0e020" stroke="#c0b000" stroke-width="0.3" /><circle cx="144.2" cy="364.0" r="1.8" fill="#f0e020" stroke="#c0b000" stroke-width="0.3" /><circle cx="171.9" cy="364.7" r="1.8" fill="#f08a20" stroke="#c06000" stroke-width="0.3" /><text x="143.5" y="384.3" font-size="5.3" text-anchor="start" font-weight="bold" fill="#333" stroke="#333" font-family='"Liberation Sans",sans-serif'  textLength="22.3" lengthAdjust="spacingAndGlyphs">Cu-N-C-800</text><path d="M23.9 430.1L28.4 427.6M64.8 422.4L64.8 427.6M23.9 404.5L28.4 407.0M69.4 419.9L74.0 422.4M19.4 437.8L23.9 435.3M64.8 443.0L69.4 445.5M83.0 422.4L83.0 427.6M78.5 430.1L83.0 427.6M64.8 407.0L69.4 404.5M33.0 414.7L37.5 412.2M37.5 422.4L42.1 419.9M60.3 430.1L60.3 435.3M37.5 443.0L42.1 445.5M64.8 437.8L69.4 435.3M23.9 445.5L28.4 443.0M55.8 443.0L60.3 445.5M51.2 419.9L55.8 422.4M28.4 412.2L33.0 414.7M23.9 414.7L23.9 419.9M28.4 422.4L28.4 427.6M46.6 422.4L51.2 419.9M33.0 414.7L33.0 419.9M69.4 435.3L74.0 437.8M33.0 430.1L33.0 435.3M69.4 404.5L74.0 407.0M60.3 419.9L64.8 422.4M51.2 445.5L55.8 443.0M83.0 437.8L83.0 443.0M78.5 445.5L83.0 443.0M28.4 437.8L33.0 435.3M69.4 430.1L69.4 435.3M33.0 404.5L37.5 407.0M28.4 427.6L33.0 430.1M69.4 414.7L69.4 419.9M55.8 427.6L60.3 430.1M78.5 404.5L83.0 407.0M83.0 407.0L83.0 412.2M55.8 422.4L55.8 427.6M64.8 407.0L64.8 412.2M60.3 445.5L64.8 443.0M33.0 419.9L37.5 422.4M64.8 427.6L69.4 430.1M74.0 427.6L78.5 430.1M55.8 437.8L60.3 435.3M19.4 422.4L19.4 427.6M69.4 430.1L74.0 427.6M78.5 430.1L78.5 435.3M37.5 407.0L37.5 412.2M78.5 419.9L83.0 422.4M60.3 404.5L64.8 407.0M19.4 412.2L23.9 414.7M28.4 437.8L28.4 443.0M60.3 414.7L64.8 412.2M60.3 430.1L64.8 427.6M42.1 445.5L46.6 443.0M19.4 437.8L19.4 443.0M69.4 445.5L74.0 443.0M69.4 414.7L74.0 412.2M33.0 445.5L37.5 443.0M64.8 422.4L69.4 419.9M74.0 422.4L74.0 427.6M64.8 412.2L69.4 414.7M28.4 422.4L33.0 419.9M19.4 427.6L23.9 430.1M19.4 407.0L19.4 412.2M19.4 443.0L23.9 445.5M42.1 419.9L46.6 422.4M78.5 414.7L83.0 412.2M55.8 437.8L55.8 443.0M78.5 414.7L78.5 419.9M74.0 422.4L78.5 419.9M23.9 430.1L23.9 435.3M60.3 414.7L60.3 419.9M55.8 422.4L60.3 419.9M64.8 437.8L64.8 443.0M78.5 435.3L83.0 437.8M23.9 414.7L28.4 412.2M60.3 435.3L64.8 437.8M74.0 443.0L78.5 445.5M46.6 443.0L51.2 445.5M19.4 407.0L23.9 404.5M28.4 407.0L28.4 412.2M74.0 437.8L74.0 443.0M74.0 412.2L78.5 414.7M28.4 443.0L33.0 445.5M74.0 407.0L74.0 412.2M28.4 407.0L33.0 404.5M19.4 422.4L23.9 419.9M23.9 435.3L28.4 437.8M23.9 419.9L28.4 422.4M74.0 437.8L78.5 435.3M74.0 407.0L78.5 404.5" stroke="#858585" stroke-width="0.9" fill="none"/><circle cx="19.4" cy="407.0" r="0.95" fill="#6c6c6c" stroke="none" stroke-width="0.5" /><circle cx="37.5" cy="412.2" r="0.95" fill="#6c6c6c" stroke="none" stroke-width="0.5" /><circle cx="33.0" cy="414.7" r="0.95" fill="#6c6c6c" stroke="none" stroke-width="0.5" /><circle cx="28.4" cy="437.8" r="0.95" fill="#6c6c6c" stroke="none" stroke-width="0.5" /><circle cx="19.4" cy="443.0" r="0.95" fill="#6c6c6c" stroke="none" stroke-width="0.5" /><circle cx="28.4" cy="422.4" r="0.95" fill="#6c6c6c" stroke="none" stroke-width="0.5" /><circle cx="83.0" cy="407.0" r="0.95" fill="#6c6c6c" stroke="none" stroke-width="0.5" /><circle cx="51.2" cy="419.9" r="0.95" fill="#6c6c6c" stroke="none" stroke-width="0.5" /><circle cx="69.4" cy="435.3" r="0.95" fill="#6c6c6c" stroke="none" stroke-width="0.5" /><circle cx="51.2" cy="445.5" r="0.95" fill="#6c6c6c" stroke="none" stroke-width="0.5" /><circle cx="60.3" cy="435.3" r="0.95" fill="#6c6c6c" stroke="none" stroke-width="0.5" /><circle cx="55.8" cy="443.0" r="0.95" fill="#6c6c6c" stroke="none" stroke-width="0.5" /><circle cx="83.0" cy="443.0" r="0.95" fill="#6c6c6c" stroke="none" stroke-width="0.5" /><circle cx="78.5" cy="414.7" r="0.95" fill="#6c6c6c" stroke="none" stroke-width="0.5" /><circle cx="23.9" cy="430.1" r="0.95" fill="#6c6c6c" stroke="none" stroke-width="0.5" /><circle cx="64.8" cy="422.4" r="0.95" fill="#6c6c6c" stroke="none" stroke-width="0.5" /><circle cx="23.9" cy="404.5" r="0.95" fill="#6c6c6c" stroke="none" stroke-width="0.5" /><circle cx="74.0" cy="437.8" r="0.95" fill="#6c6c6c" stroke="none" stroke-width="0.5" /><circle cx="23.9" cy="419.9" r="0.95" fill="#6c6c6c" stroke="none" stroke-width="0.5" /><circle cx="64.8" cy="437.8" r="0.95" fill="#6c6c6c" stroke="none" stroke-width="0.5" /><circle cx="74.0" cy="422.4" r="0.95" fill="#6c6c6c" stroke="none" stroke-width="0.5" /><circle cx="23.9" cy="445.5" r="0.95" fill="#6c6c6c" stroke="none" stroke-width="0.5" /><circle cx="37.5" cy="422.4" r="0.95" fill="#6c6c6c" stroke="none" stroke-width="0.5" /><circle cx="33.0" cy="435.3" r="0.95" fill="#6c6c6c" stroke="none" stroke-width="0.5" /><circle cx="19.4" cy="412.2" r="0.95" fill="#6c6c6c" stroke="none" stroke-width="0.5" /><circle cx="60.3" cy="404.5" r="0.95" fill="#6c6c6c" stroke="none" stroke-width="0.5" /><circle cx="60.3" cy="430.1" r="0.95" fill="#6c6c6c" stroke="none" stroke-width="0.5" /><circle cx="19.4" cy="427.6" r="0.95" fill="#6c6c6c" stroke="none" stroke-width="0.5" /><circle cx="60.3" cy="419.9" r="0.95" fill="#6c6c6c" stroke="none" stroke-width="0.5" /><circle cx="69.4" cy="404.5" r="0.95" fill="#6c6c6c" stroke="none" stroke-width="0.5" /><circle cx="69.4" cy="430.1" r="0.95" fill="#6c6c6c" stroke="none" stroke-width="0.5" /><circle cx="60.3" cy="445.5" r="0.95" fill="#6c6c6c" stroke="none" stroke-width="0.5" /><circle cx="28.4" cy="407.0" r="0.95" fill="#6c6c6c" stroke="none" stroke-width="0.5" /><circle cx="69.4" cy="419.9" r="0.95" fill="#6c6c6c" stroke="none" stroke-width="0.5" /><circle cx="69.4" cy="445.5" r="0.95" fill="#6c6c6c" stroke="none" stroke-width="0.5" /><circle cx="46.6" cy="422.4" r="0.95" fill="#6c6c6c" stroke="none" stroke-width="0.5" /><circle cx="55.8" cy="427.6" r="0.95" fill="#6c6c6c" stroke="none" stroke-width="0.5" /><circle cx="28.4" cy="443.0" r="0.95" fill="#6c6c6c" stroke="none" stroke-width="0.5" /><circle cx="83.0" cy="412.2" r="0.95" fill="#6c6c6c" stroke="none" stroke-width="0.5" /><circle cx="64.8" cy="407.0" r="0.95" fill="#6c6c6c" stroke="none" stroke-width="0.5" /><circle cx="23.9" cy="414.7" r="0.95" fill="#6c6c6c" stroke="none" stroke-width="0.5" /><circle cx="83.0" cy="427.6" r="0.95" fill="#6c6c6c" stroke="none" stroke-width="0.5" /><circle cx="78.5" cy="435.3" r="0.95" fill="#6c6c6c" stroke="none" stroke-width="0.5" /><circle cx="74.0" cy="407.0" r="0.95" fill="#6c6c6c" stroke="none" stroke-width="0.5" /><circle cx="64.8" cy="443.0" r="0.95" fill="#6c6c6c" stroke="none" stroke-width="0.5" /><circle cx="33.0" cy="404.5" r="0.95" fill="#6c6c6c" stroke="none" stroke-width="0.5" /><circle cx="74.0" cy="443.0" r="0.95" fill="#6c6c6c" stroke="none" stroke-width="0.5" /><circle cx="33.0" cy="430.1" r="0.95" fill="#6c6c6c" stroke="none" stroke-width="0.5" /><circle cx="37.5" cy="407.0" r="0.95" fill="#6c6c6c" stroke="none" stroke-width="0.5" /><circle cx="33.0" cy="419.9" r="0.95" fill="#6c6c6c" stroke="none" stroke-width="0.5" /><circle cx="33.0" cy="445.5" r="0.95" fill="#6c6c6c" stroke="none" stroke-width="0.5" /><circle cx="37.5" cy="443.0" r="0.95" fill="#6c6c6c" stroke="none" stroke-width="0.5" /><circle cx="69.4" cy="414.7" r="0.95" fill="#6c6c6c" stroke="none" stroke-width="0.5" /><circle cx="19.4" cy="422.4" r="0.95" fill="#6c6c6c" stroke="none" stroke-width="0.5" /><circle cx="60.3" cy="414.7" r="0.95" fill="#6c6c6c" stroke="none" stroke-width="0.5" /><circle cx="19.4" cy="437.8" r="0.95" fill="#6c6c6c" stroke="none" stroke-width="0.5" /><circle cx="55.8" cy="422.4" r="0.95" fill="#6c6c6c" stroke="none" stroke-width="0.5" /><circle cx="28.4" cy="412.2" r="0.95" fill="#6c6c6c" stroke="none" stroke-width="0.5" /><circle cx="83.0" cy="422.4" r="0.95" fill="#6c6c6c" stroke="none" stroke-width="0.5" /><circle cx="55.8" cy="437.8" r="0.95" fill="#6c6c6c" stroke="none" stroke-width="0.5" /><circle cx="42.1" cy="419.9" r="0.95" fill="#6c6c6c" stroke="none" stroke-width="0.5" /><circle cx="42.1" cy="445.5" r="0.95" fill="#6c6c6c" stroke="none" stroke-width="0.5" /><circle cx="83.0" cy="437.8" r="0.95" fill="#6c6c6c" stroke="none" stroke-width="0.5" /><circle cx="28.4" cy="427.6" r="0.95" fill="#6c6c6c" stroke="none" stroke-width="0.5" /><circle cx="46.6" cy="443.0" r="0.95" fill="#6c6c6c" stroke="none" stroke-width="0.5" /><circle cx="78.5" cy="404.5" r="0.95" fill="#6c6c6c" stroke="none" stroke-width="0.5" /><circle cx="78.5" cy="430.1" r="0.95" fill="#6c6c6c" stroke="none" stroke-width="0.5" /><circle cx="78.5" cy="419.9" r="0.95" fill="#6c6c6c" stroke="none" stroke-width="0.5" /><circle cx="78.5" cy="445.5" r="0.95" fill="#6c6c6c" stroke="none" stroke-width="0.5" /><circle cx="74.0" cy="412.2" r="0.95" fill="#6c6c6c" stroke="none" stroke-width="0.5" /><circle cx="64.8" cy="412.2" r="0.95" fill="#6c6c6c" stroke="none" stroke-width="0.5" /><circle cx="74.0" cy="427.6" r="0.95" fill="#6c6c6c" stroke="none" stroke-width="0.5" /><circle cx="23.9" cy="435.3" r="0.95" fill="#6c6c6c" stroke="none" stroke-width="0.5" /><circle cx="64.8" cy="427.6" r="0.95" fill="#6c6c6c" stroke="none" stroke-width="0.5" /><circle cx="60.0" cy="404.1" r="1.35" fill="#2030d0" stroke="none" stroke-width="0.5" /><circle cx="60.0" cy="414.4" r="1.35" fill="#2030d0" stroke="none" stroke-width="0.5" /><circle cx="28.6" cy="427.3" r="1.35" fill="#2030d0" stroke="none" stroke-width="0.5" /><circle cx="28.6" cy="438.2" r="1.35" fill="#2030d0" stroke="none" stroke-width="0.5" /><circle cx="64.8" cy="427.3" r="1.35" fill="#2030d0" stroke="none" stroke-width="0.5" /><circle cx="73.9" cy="427.3" r="1.35" fill="#2030d0" stroke="none" stroke-width="0.5" /><circle cx="64.8" cy="438.2" r="1.35" fill="#2030d0" stroke="none" stroke-width="0.5" /><circle cx="73.9" cy="438.2" r="1.35" fill="#2030d0" stroke="none" stroke-width="0.5" /><circle cx="54.6" cy="409.6" r="1.8" fill="#f0e020" stroke="#c0b000" stroke-width="0.3" /><circle cx="34.8" cy="432.8" r="1.8" fill="#f0e020" stroke="#c0b000" stroke-width="0.3" /><circle cx="69.3" cy="432.8" r="1.8" fill="#f08a20" stroke="#c06000" stroke-width="0.3" /><text x="36.1" y="451.7" font-size="5.3" text-anchor="start" font-weight="bold" fill="#333" stroke="#333" font-family='"Liberation Sans",sans-serif'  textLength="23.9" lengthAdjust="spacingAndGlyphs">Cu-N-C-900</text><path d="M89.5,439.5 C84.0,432.0 84.5,423.5 91.5,419.6 L90.6,417.2 L98.6,416.0 L95.4,423.4 L94.2,421.8 C89.6,425.6 88.6,432.0 89.5,439.5 Z" fill="#ff1818"/><text x="99.4" y="421.0" font-size="4.8" text-anchor="start" font-weight="bold" fill="#333" stroke="#333" font-family='"Liberation Sans",sans-serif' ><tspan>CH</tspan><tspan dy="1.20" font-size="3.12">4</tspan></text><text x="91.0" y="444.0" font-size="4.8" text-anchor="start" font-weight="bold" fill="#333" stroke="#333" font-family='"Liberation Sans",sans-serif' ><tspan>CO</tspan><tspan dy="1.20" font-size="3.12">2</tspan></text><path d="M142.6,396.0 C145.4,386.0 155.8,384.2 161.0,390.8 L163.6,388.4 L167.6,399.4 L156.4,396.8 L158.8,394.4 C154.2,389.4 146.8,389.6 142.6,396.0 Z" fill="#2ef02e"/><text x="135.0" y="401.0" font-size="4.8" text-anchor="start" font-weight="bold" fill="#333" stroke="#333" font-family='"Liberation Sans",sans-serif' ><tspan>CO</tspan><tspan dy="1.20" font-size="3.12">2</tspan></text><text x="162.4" y="405.0" font-size="4.8" text-anchor="start" font-weight="bold" fill="#333" stroke="#333" font-family='"Liberation Sans",sans-serif' ><tspan>C</tspan><tspan dy="1.20" font-size="3.12">2</tspan><tspan dy="-1.20">H</tspan><tspan dy="1.20" font-size="3.12">4</tspan></text><rect x="131.6" y="410.6" width="54.4" height="39.4" fill="#fff" stroke="#999" stroke-width="0.9" /><circle cx="135.6" cy="415.4" r="2.3" fill="#5c5c5c" stroke="#444" stroke-width="0.35" /><text x="141.6" y="417.3" font-size="5.0" text-anchor="start" font-weight="bold" fill="#333" stroke="#333" font-family='"Liberation Sans",sans-serif' >C</text><circle cx="163.6" cy="415.4" r="2.3" fill="#1a2ad8" stroke="#444" stroke-width="0.35" /><text x="169.6" y="417.3" font-size="5.0" text-anchor="start" font-weight="bold" fill="#333" stroke="#333" font-family='"Liberation Sans",sans-serif' >N</text><circle cx="135.6" cy="424.0" r="2.3" fill="#e81010" stroke="#444" stroke-width="0.35" /><text x="141.6" y="425.9" font-size="5.0" text-anchor="start" font-weight="bold" fill="#333" stroke="#333" font-family='"Liberation Sans",sans-serif' >O</text><circle cx="163.6" cy="424.0" r="2.3" fill="#20c020" stroke="#444" stroke-width="0.35" /><text x="169.6" y="425.9" font-size="5.0" text-anchor="start" font-weight="bold" fill="#333" stroke="#333" font-family='"Liberation Sans",sans-serif' >H</text><circle cx="135.6" cy="432.6" r="2.3" fill="#f0e010" stroke="#444" stroke-width="0.35" /><text x="141.6" y="434.5" font-size="5.0" text-anchor="start" font-weight="bold" fill="#333" stroke="#333" font-family='"Liberation Sans",sans-serif' >Cu(I)</text><circle cx="163.6" cy="432.6" r="2.3" fill="#f08a20" stroke="#444" stroke-width="0.35" /><text x="169.6" y="434.5" font-size="5.0" text-anchor="start" font-weight="bold" fill="#333" stroke="#333" font-family='"Liberation Sans",sans-serif' >Cu(II)</text><line x1="133.5" y1="443.2" x2="135.7" y2="444.9" stroke="#8aa0c0" stroke-width="0.77" /><line x1="135.2" y1="447.8" x2="135.7" y2="444.9" stroke="#8aa0c0" stroke-width="0.77" /><line x1="135.7" y1="444.9" x2="139.1" y2="443.2" stroke="#8aa0c0" stroke-width="0.77" /><line x1="139.1" y1="443.2" x2="141.4" y2="438.4" stroke="#8aa0c0" stroke-width="0.77" /><line x1="139.1" y1="443.2" x2="143.0" y2="444.1" stroke="#8aa0c0" stroke-width="0.77" /><line x1="143.0" y1="444.1" x2="143.6" y2="447.4" stroke="#8aa0c0" stroke-width="0.77" /><line x1="143.0" y1="444.1" x2="146.9" y2="442.7" stroke="#8aa0c0" stroke-width="0.77" /><line x1="146.9" y1="442.7" x2="150.3" y2="441.7" stroke="#8aa0c0" stroke-width="0.77" /><circle cx="133.5" cy="443.2" r="0.9025" fill="#30d040" stroke="none" stroke-width="0.5" /><circle cx="135.2" cy="447.8" r="0.9025" fill="#30d040" stroke="none" stroke-width="0.5" /><circle cx="135.7" cy="444.9" r="0.9025" fill="#2a40d0" stroke="none" stroke-width="0.5" /><circle cx="139.1" cy="443.2" r="0.9025" fill="#909090" stroke="none" stroke-width="0.5" /><circle cx="141.4" cy="438.4" r="0.9025" fill="#30d040" stroke="none" stroke-width="0.5" /><circle cx="143.0" cy="444.1" r="0.9025" fill="#2a40d0" stroke="none" stroke-width="0.5" /><circle cx="143.6" cy="447.4" r="0.9025" fill="#30d040" stroke="none" stroke-width="0.5" /><circle cx="146.9" cy="442.7" r="0.9025" fill="#909090" stroke="none" stroke-width="0.5" /><circle cx="150.3" cy="441.7" r="0.9025" fill="#2a40d0" stroke="none" stroke-width="0.5" /><text x="153.6" y="446.0" font-size="5.6" text-anchor="start" font-weight="bold" fill="#333" stroke="#333" font-family='"Liberation Sans",sans-serif'  textLength="31.4" lengthAdjust="spacingAndGlyphs">Dicyandiamide</text><text x="200.9" y="348.1" font-size="18.5" text-anchor="start" font-weight="bold" fill="#111" stroke="#111" font-family='"Liberation Serif",serif'  textLength="11.4" lengthAdjust="spacingAndGlyphs">k</text><polygon points="210.5,359.6 251.6,337.3 251.6,386.4 210.5,408.6" fill="#8a8a92" stroke="none" stroke-width="1" /><line x1="210.5" y1="359.4" x2="251.6" y2="337.1" stroke="#5a5a62" stroke-width="1.0" /><polygon points="251.0,337.6 252.8,337.2 252.8,386.0 251.0,386.6" fill="#55555c" stroke="none" stroke-width="1" /><polygon points="227.8,365.7 245.4,356.0 245.4,377.5 227.8,387.6" fill="#1c3570" stroke="none" stroke-width="1" /><text x="0.0" y="0.0" font-size="5.8" text-anchor="middle" font-weight="bold" fill="#fff" stroke="#fff" font-family='"Liberation Serif",serif' transform="translate(237.0,371.2) rotate(-20)" textLength="15.5" lengthAdjust="spacingAndGlyphs">Anode</text><rect x="220.3" y="366.8" width="1.4" height="1.6" fill="#d8d8d8" stroke="none" stroke-width="1" /><rect x="220.3" y="374.1" width="1.4" height="1.6" fill="#d8d8d8" stroke="none" stroke-width="1" /><rect x="220.3" y="380.5" width="1.4" height="1.6" fill="#d8d8d8" stroke="none" stroke-width="1" /><rect x="220.3" y="387.8" width="1.4" height="1.6" fill="#d8d8d8" stroke="none" stroke-width="1" /><rect x="237.5" y="356.8" width="1.4" height="1.6" fill="#d8d8d8" stroke="none" stroke-width="1" /><rect x="235.0" y="401.0" width="2.4" height="1.6" fill="#b0b0b0" stroke="none" stroke-width="1" /><polyline points="236.5,403.4 227.0,409.0" fill="none" stroke="#f07a22" stroke-width="1.1" stroke-dasharray="2.2,1.6"/><polygon points="225.7,409.8 227.6,407.0 229.0,409.4" fill="#f07a22" stroke="none" stroke-width="1" /><polygon points="241.5,375.4 283.9,350.6 283.9,399.6 241.5,424.2" fill="#7a7a7a" stroke="none" stroke-width="1" /><polygon points="241.5,375.4 243.3,374.4 243.3,423.2 241.5,424.2" fill="#c8c8c8" stroke="none" stroke-width="1" /><polygon points="252.3,376.8 271.5,366.4 271.5,392.0 252.3,402.4" fill="#a2a2a2" stroke="none" stroke-width="1" /><polygon points="252.3,376.8 254.3,375.7 254.3,401.3 252.3,402.4" fill="#e8e8e8" stroke="none" stroke-width="1" /><polygon points="268.2,368.2 270.0,367.2 270.0,375.0 268.2,376.0" fill="#e0e0e0" stroke="none" stroke-width="1" /><polygon points="262.2,381.4 279.6,372.5 279.6,394.2 262.2,403.0" fill="#a07a12" stroke="none" stroke-width="1" /><polyline points="262.0,403.5 256.0,415.0 253.0,421.8" fill="none" stroke="#f07a22" stroke-width="1.1" stroke-dasharray="2.2,1.6"/><rect x="284.8" y="356.8" width="3.0" height="2.8" fill="#b4b4b4" stroke="none" stroke-width="1" /><polyline points="291.9,351.8 285.6,354.8" fill="none" stroke="#f07a22" stroke-width="1.1" stroke-dasharray="2.2,1.6"/><polygon points="284.2,355.4 286.4,352.9 287.6,355.4" fill="#f07a22" stroke="none" stroke-width="1" /><polygon points="276.4,385.8 317.2,362.9 317.2,413.4 276.4,436.2" fill="#7a7a7a" stroke="none" stroke-width="1" /><polygon points="276.4,385.8 278.2,384.8 278.2,435.2 276.4,436.2" fill="#c8c8c8" stroke="none" stroke-width="1" /><polygon points="286.5,382.5 306.0,371.6 306.0,397.0 286.5,408.0" fill="#a2a2a2" stroke="none" stroke-width="1" /><polygon points="286.5,382.5 288.5,381.4 288.5,406.9 286.5,408.0" fill="#e8e8e8" stroke="none" stroke-width="1" /><polygon points="295.4,394.7 314.5,385.8 314.5,408.7 295.4,417.6" fill="#2b5a1f" stroke="none" stroke-width="1" /><text x="0.0" y="0.0" font-size="5.8" text-anchor="middle" font-weight="bold" fill="#fff" stroke="#fff" font-family='"Liberation Serif",serif' transform="translate(305.4,398.6) rotate(-22)" textLength="18" lengthAdjust="spacingAndGlyphs">Cathode</text><rect x="291.6" y="364.0" width="2.6" height="6.0" fill="#a08878" stroke="none" stroke-width="1" /><rect x="290.8" y="367.0" width="4.2" height="1.6" fill="#9a9a9a" stroke="none" stroke-width="1" /><rect x="302.4" y="364.8" width="2.4" height="3.4" fill="#b4b4b4" stroke="none" stroke-width="1" /><rect x="291.4" y="427.4" width="2.6" height="3.0" fill="#b4b4b4" stroke="none" stroke-width="1" /><polyline points="304.3,347.2 293.6,362.8" fill="none" stroke="#f07a22" stroke-width="1.1" stroke-dasharray="2.2,1.6"/><polygon points="292.8,364.0 293.3,360.8 295.6,362.4" fill="#f07a22" stroke="none" stroke-width="1" /><polyline points="305.6,363.4 307.4,359.6" fill="none" stroke="#f07a22" stroke-width="1.1" stroke-dasharray="2.2,1.6"/><polygon points="310.7,398.5 351.9,375.6 351.9,426.5 310.7,449.4" fill="#9a9aa6" stroke="none" stroke-width="1" /><line x1="310.7" y1="398.5" x2="310.7" y2="449.4" stroke="#4a4a55" stroke-width="0.9" /><line x1="310.7" y1="398.5" x2="351.9" y2="375.6" stroke="#6a6a74" stroke-width="0.7" /><rect x="352.4" y="400.4" width="4.2" height="1.9" fill="#a8a8a8" stroke="none" stroke-width="1" /><polyline points="359.5,399.5 372.0,399.5" fill="none" stroke="#f07a22" stroke-width="1.1" stroke-dasharray="2.2,1.6"/><polyline points="298.2,443.4 306.8,438.2" fill="none" stroke="#f07a22" stroke-width="1.1" stroke-dasharray="2.2,1.6"/><rect x="306.2" y="436.4" width="2.4" height="2.2" fill="#b4b4b4" stroke="none" stroke-width="1" /><polyline points="290.2,437.8 290.2,430.8" fill="none" stroke="#f07a22" stroke-width="1.1" stroke-dasharray="2.2,1.6"/><text x="301.4" y="338.4" font-size="6.3" text-anchor="start" font-weight="bold" fill="#222" stroke="#222" font-family='"Liberation Serif",serif'  textLength="23.5" lengthAdjust="spacingAndGlyphs">Reference</text><text x="302.5" y="344.5" font-size="6.3" text-anchor="start" font-weight="bold" fill="#222" stroke="#222" font-family='"Liberation Serif",serif'  textLength="22.1" lengthAdjust="spacingAndGlyphs">electrode</text><text x="269.4" y="347.2" font-size="6.3" text-anchor="start" font-weight="bold" fill="#222" stroke="#222" font-family='"Liberation Serif",serif'  textLength="24.4" lengthAdjust="spacingAndGlyphs">Anolyte in</text><text x="305.0" y="360.3" font-size="6.3" text-anchor="start" font-weight="bold" fill="#222" stroke="#222" font-family='"Liberation Serif",serif'  textLength="32.7" lengthAdjust="spacingAndGlyphs">Catholyte out</text><text x="354.6" y="396.2" font-size="6.5" text-anchor="start" font-weight="bold" fill="#222" stroke="#222" font-family='"Liberation Serif",serif'  textLength="20.0" lengthAdjust="spacingAndGlyphs"><tspan>CO</tspan><tspan dy="1.62" font-size="4.23">2</tspan><tspan dy="-1.62"> out</tspan></text><text x="201.5" y="418.6" font-size="6.3" text-anchor="start" font-weight="bold" fill="#222" stroke="#222" font-family='"Liberation Serif",serif'  textLength="31.5" lengthAdjust="spacingAndGlyphs">Anolyte out</text><text x="224.0" y="430.3" font-size="6.3" text-anchor="start" font-weight="bold" fill="#222" stroke="#222" font-family='"Liberation Serif",serif'  textLength="39.4" lengthAdjust="spacingAndGlyphs">Anion exchange</text><text x="232.5" y="437.1" font-size="6.3" text-anchor="start" font-weight="bold" fill="#222" stroke="#222" font-family='"Liberation Serif",serif'  textLength="23.1" lengthAdjust="spacingAndGlyphs">membrane</text><text x="261.2" y="442.4" font-size="6.3" text-anchor="start" font-weight="bold" fill="#222" stroke="#222" font-family='"Liberation Serif",serif'  textLength="28.4" lengthAdjust="spacingAndGlyphs">Catholyte in</text><text x="289.6" y="450.0" font-size="6.3" text-anchor="start" font-weight="bold" fill="#222" stroke="#222" font-family='"Liberation Serif",serif'  textLength="17.0" lengthAdjust="spacingAndGlyphs"><tspan>CO</tspan><tspan dy="1.57" font-size="4.09">2</tspan><tspan dy="-1.57"> in</tspan></text><text x="379.6" y="348.2" font-size="19" text-anchor="start" font-weight="bold" fill="#111" stroke="#111" font-family='"Liberation Serif",serif' >l</text><rect x="410.9" y="429.8" width="8.2" height="1.2" fill="#e02a22" stroke="none" stroke-width="1" /><rect x="424.0" y="428.6" width="8.2" height="2.4" fill="#e02a22" stroke="none" stroke-width="1" /><rect x="437.3" y="421.4" width="8.2" height="9.6" fill="#e02a22" stroke="none" stroke-width="1" /><rect x="450.2" y="400.6" width="8.2" height="30.4" fill="#e02a22" stroke="none" stroke-width="1" /><rect x="463.6" y="383.3" width="8.2" height="47.7" fill="#e02a22" stroke="none" stroke-width="1" /><rect x="476.9" y="359.6" width="8.2" height="71.4" fill="#e02a22" stroke="none" stroke-width="1" /><rect x="490.0" y="354.9" width="8.2" height="76.1" fill="#e02a22" stroke="none" stroke-width="1" /><rect x="503.2" y="366.4" width="8.2" height="64.6" fill="#e02a22" stroke="none" stroke-width="1" /><line x1="401.6" y1="336.7" x2="520.2" y2="336.7" stroke="#222" stroke-width="1.2" /><line x1="401.6" y1="336.1" x2="401.6" y2="431.6" stroke="#222" stroke-width="1.2" /><line x1="401.0" y1="431.0" x2="520.2" y2="431.0" stroke="#333" stroke-width="1.4" /><line x1="520.2" y1="336.1" x2="520.2" y2="431.6" stroke="#e02a22" stroke-width="1.2" /><line x1="401.6" y1="430.9" x2="403.6" y2="430.9" stroke="#222" stroke-width="1.0" /><text x="399.0" y="433.9" font-size="8.4" text-anchor="end" font-weight="normal" fill="#333" stroke="#333" font-family='"Liberation Sans",sans-serif'  textLength="3.6" lengthAdjust="spacingAndGlyphs">0</text><line x1="401.6" y1="413.8" x2="403.6" y2="413.8" stroke="#222" stroke-width="1.0" /><text x="399.0" y="416.8" font-size="8.4" text-anchor="end" font-weight="normal" fill="#333" stroke="#333" font-family='"Liberation Sans",sans-serif'  textLength="8.8" lengthAdjust="spacingAndGlyphs">20</text><line x1="401.6" y1="396.7" x2="403.6" y2="396.7" stroke="#222" stroke-width="1.0" /><text x="399.0" y="399.7" font-size="8.4" text-anchor="end" font-weight="normal" fill="#333" stroke="#333" font-family='"Liberation Sans",sans-serif'  textLength="8.8" lengthAdjust="spacingAndGlyphs">40</text><line x1="401.6" y1="379.7" x2="403.6" y2="379.7" stroke="#222" stroke-width="1.0" /><text x="399.0" y="382.7" font-size="8.4" text-anchor="end" font-weight="normal" fill="#333" stroke="#333" font-family='"Liberation Sans",sans-serif'  textLength="8.8" lengthAdjust="spacingAndGlyphs">60</text><line x1="401.6" y1="362.6" x2="403.6" y2="362.6" stroke="#222" stroke-width="1.0" /><text x="399.0" y="365.6" font-size="8.4" text-anchor="end" font-weight="normal" fill="#333" stroke="#333" font-family='"Liberation Sans",sans-serif'  textLength="8.8" lengthAdjust="spacingAndGlyphs">80</text><line x1="401.6" y1="345.5" x2="403.6" y2="345.5" stroke="#222" stroke-width="1.0" /><text x="399.0" y="348.5" font-size="8.4" text-anchor="end" font-weight="normal" fill="#333" stroke="#333" font-family='"Liberation Sans",sans-serif'  textLength="11.8" lengthAdjust="spacingAndGlyphs">100</text><line x1="401.6" y1="422.4" x2="402.8" y2="422.4" stroke="#222" stroke-width="0.8" /><line x1="401.6" y1="405.3" x2="402.8" y2="405.3" stroke="#222" stroke-width="0.8" /><line x1="401.6" y1="388.2" x2="402.8" y2="388.2" stroke="#222" stroke-width="0.8" /><line x1="401.6" y1="371.1" x2="402.8" y2="371.1" stroke="#222" stroke-width="0.8" /><line x1="401.6" y1="354.0" x2="402.8" y2="354.0" stroke="#222" stroke-width="0.8" /><line x1="518.2" y1="430.6" x2="520.2" y2="430.6" stroke="#e02a22" stroke-width="1.0" /><text x="523.2" y="433.6" font-size="8.4" text-anchor="start" font-weight="normal" fill="#e02a22" stroke="#e02a22" font-family='"Liberation Sans",sans-serif' >0</text><line x1="518.2" y1="405.2" x2="520.2" y2="405.2" stroke="#e02a22" stroke-width="1.0" /><text x="523.2" y="408.2" font-size="8.4" text-anchor="start" font-weight="normal" fill="#e02a22" stroke="#e02a22" font-family='"Liberation Sans",sans-serif' >10</text><line x1="518.2" y1="379.7" x2="520.2" y2="379.7" stroke="#e02a22" stroke-width="1.0" /><text x="523.2" y="382.7" font-size="8.4" text-anchor="start" font-weight="normal" fill="#e02a22" stroke="#e02a22" font-family='"Liberation Sans",sans-serif' >20</text><line x1="518.2" y1="354.3" x2="520.2" y2="354.3" stroke="#e02a22" stroke-width="1.0" /><text x="523.2" y="357.3" font-size="8.4" text-anchor="start" font-weight="normal" fill="#e02a22" stroke="#e02a22" font-family='"Liberation Sans",sans-serif' >30</text><line x1="519.0" y1="417.9" x2="520.2" y2="417.9" stroke="#e02a22" stroke-width="0.8" /><line x1="519.0" y1="392.5" x2="520.2" y2="392.5" stroke="#e02a22" stroke-width="0.8" /><line x1="519.0" y1="367.0" x2="520.2" y2="367.0" stroke="#e02a22" stroke-width="0.8" /><text x="412.6" y="441.8" font-size="8.1" text-anchor="middle" font-weight="normal" fill="#333" stroke="#333" font-family='"Liberation Sans",sans-serif' >0.0</text><text x="438.9" y="441.8" font-size="8.1" text-anchor="middle" font-weight="normal" fill="#333" stroke="#333" font-family='"Liberation Sans",sans-serif' >0.2</text><text x="466.2" y="441.8" font-size="8.1" text-anchor="middle" font-weight="normal" fill="#333" stroke="#333" font-family='"Liberation Sans",sans-serif' >0.4</text><text x="493.2" y="441.8" font-size="8.1" text-anchor="middle" font-weight="normal" fill="#333" stroke="#333" font-family='"Liberation Sans",sans-serif' >0.6</text><text x="518.6" y="441.8" font-size="8.1" text-anchor="middle" font-weight="normal" fill="#333" stroke="#333" font-family='"Liberation Sans",sans-serif' >0.8</text><line x1="412.6" y1="431.0" x2="412.6" y2="429.0" stroke="#333" stroke-width="0.9" /><line x1="438.9" y1="431.0" x2="438.9" y2="429.0" stroke="#333" stroke-width="0.9" /><line x1="466.2" y1="431.0" x2="466.2" y2="429.0" stroke="#333" stroke-width="0.9" /><line x1="493.2" y1="431.0" x2="493.2" y2="429.0" stroke="#333" stroke-width="0.9" /><text x="433.0" y="450.6" font-size="8.1" text-anchor="start" font-weight="normal" fill="#333" stroke="#333" font-family='"Liberation Sans",sans-serif'  textLength="61.5" lengthAdjust="spacingAndGlyphs">Overpotential (V)</text><text x="0.0" y="0.0" font-size="8.8" text-anchor="middle" font-weight="normal" fill="#333" stroke="#333" font-family='"Liberation Sans",sans-serif' transform="translate(385.6,384.2) rotate(-90)" textLength="32.5" lengthAdjust="spacingAndGlyphs"><tspan>FE</tspan><tspan dy="2.00" font-size="6.34">CO</tspan><tspan dy="-2.00"> (%)</tspan></text><text x="0.0" y="0.0" font-size="8.6" text-anchor="middle" font-weight="normal" fill="#e02a22" stroke="#e02a22" font-family='"Liberation Sans",sans-serif' transform="translate(541.2,383.0) rotate(-90)" textLength="49.0" lengthAdjust="spacingAndGlyphs"><tspan font-style="italic">j</tspan><tspan dy="2.00" font-size="6.02">CO</tspan><tspan dy="-2.00"> (mA cm</tspan><tspan dy="-2.80" font-size="6.02">−2</tspan><tspan dy="2.80">)</tspan></text><line x1="402.4" y1="353.6" x2="519.6" y2="353.6" stroke="#4a6ccc" stroke-width="1.6" stroke-dasharray="4,3"/><text x="404.4" y="350.0" font-size="7.4" text-anchor="start" font-weight="normal" fill="#4a68c4" stroke="#4a68c4" font-family='"Liberation Sans",sans-serif'  textLength="27.8" lengthAdjust="spacingAndGlyphs">Over 90%</text><polyline points="415.0,380.0 428.1,355.7 441.5,350.5 454.3,348.8 467.6,346.7 480.5,347.6 492.7,353.3 507.3,366.4" fill="none" stroke="#151515" stroke-width="1.15" stroke-dasharray="1.3,0.9"/><rect x="413.9" y="378.9" width="2.2" height="2.2" fill="#111" stroke="none" stroke-width="1" /><rect x="427.0" y="354.6" width="2.2" height="2.2" fill="#111" stroke="none" stroke-width="1" /><rect x="440.4" y="349.4" width="2.2" height="2.2" fill="#111" stroke="none" stroke-width="1" /><rect x="453.2" y="347.7" width="2.2" height="2.2" fill="#111" stroke="none" stroke-width="1" /><rect x="466.5" y="345.6" width="2.2" height="2.2" fill="#111" stroke="none" stroke-width="1" /><rect x="479.4" y="346.5" width="2.2" height="2.2" fill="#111" stroke="none" stroke-width="1" /><rect x="491.6" y="352.2" width="2.2" height="2.2" fill="#111" stroke="none" stroke-width="1" /><rect x="506.2" y="365.3" width="2.2" height="2.2" fill="#111" stroke="none" stroke-width="1" />
</svg></body></html>
